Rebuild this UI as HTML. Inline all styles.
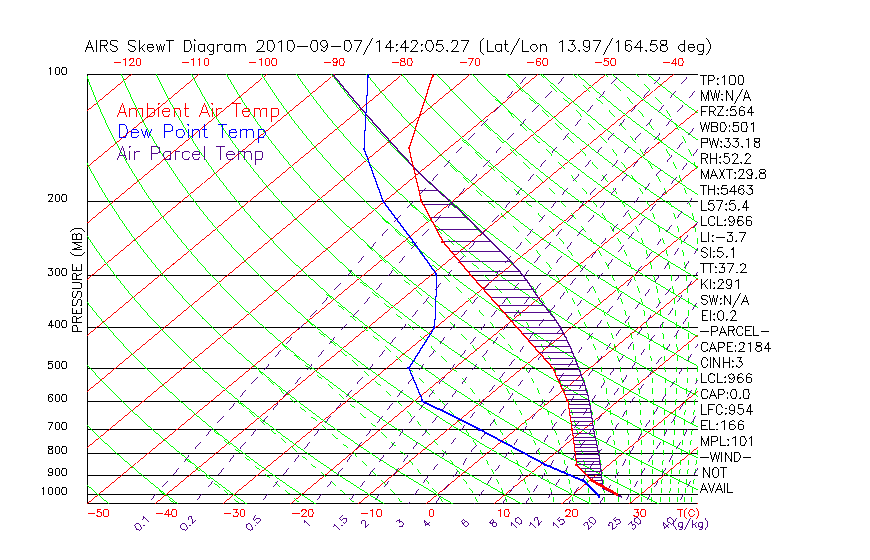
<!DOCTYPE html>
<html><head><meta charset="utf-8"><title>AIRS SkewT Diagram</title>
<style>html,body{margin:0;padding:0;background:#fff;font-family:"Liberation Sans",sans-serif;}svg{display:block}</style></head>
<body>
<svg width="870" height="560" viewBox="0 0 870 560" shape-rendering="crispEdges">
<defs><clipPath id="cp"><rect x="86.6" y="73.6" width="610.8" height="429.8"/></clipPath></defs>
<title>AIRS SkewT Diagram</title>
<desc>AIRS SkewT Diagram 2010-09-07/14:42:05.27 (Lat/Lon 13.97/164.58 deg). Ambient Air Temp, Dew Point Temp, Air Parcel Temp. PRESSURE (MB) 100-1000, T(C), mixing ratio (g/kg).</desc>
<rect width="870" height="560" fill="#fff"/>
<path d="M87 74 h611 v1 h-611 zM87 201 h611 v1 h-611 zM87 275 h611 v1 h-611 zM87 327 h611 v1 h-611 zM87 368 h611 v1 h-611 zM87 401 h611 v1 h-611 zM87 429 h611 v1 h-611 zM87 453 h611 v1 h-611 zM87 475 h611 v1 h-611 zM87 494 h611 v1 h-611 zM87 503 h611 v1 h-611 zM87 74 h1 v430 h-1 z" fill="#000"/>
<g clip-path="url(#cp)" stroke="none" transform="translate(0.5,0.5)">
<path d="M-455.7 503L63.3 73.2L63.3 74.2L-455.7 504zM-388 503L131 73.2L131 74.2L-388 504zM-320.2 503L198.8 73.2L198.8 74.2L-320.2 504zM-252.4 503L266.6 73.2L266.6 74.2L-252.4 504zM-184.6 503L334.4 73.2L334.4 74.2L-184.6 504zM-116.8 503L402.2 73.2L402.2 74.2L-116.8 504zM-49.1 503L469.9 73.2L469.9 74.2L-49.1 504zM18.7 503L537.7 73.2L537.7 74.2L18.7 504zM86.5 503L605.5 73.2L605.5 74.2L86.5 504zM154.3 503L673.3 73.2L673.3 74.2L154.3 504zM222.1 503L741.1 73.2L741.1 74.2L222.1 504zM289.8 503L808.8 73.2L808.8 74.2L289.8 504zM357.6 503L876.6 73.2L876.6 74.2L357.6 504zM425.4 503L944.4 73.2L944.4 74.2L425.4 504zM493.2 503L1012.2 73.2L1012.2 74.2L493.2 504zM561 503L1080 73.2L1080 74.2L561 504zM628.7 503L1147.7 73.2L1147.7 74.2L628.7 504zM696.5 503L1215.5 73.2L1215.5 74.2L696.5 504z" fill="#ff0000"/>
<path d="M113.9 508.3L108.3 503.6L103 499.2L97.7 494.7L92.4 490.1L87 485.3L81.1 480L81.1 479L87 484.3L92.4 489.1L97.7 493.7L103 498.2L108.3 502.6L113.9 507.3zM183.1 508.3L177 503.6L171.3 499.2L165.5 494.7L159.7 490.1L153.8 485.3L147.9 480.5L141.8 475.5L135.7 470.3L129.6 465L123.3 459.6L117 454L110.6 448.2L104.1 442.2L97.5 436L90.8 429.6L83.6 422.5L83.6 421.5L90.8 428.6L97.5 435L104.1 441.2L110.6 447.2L117 453L123.3 458.6L129.6 464L135.7 469.3L141.8 474.5L147.9 479.5L153.8 484.3L159.7 489.1L165.5 493.7L171.3 498.2L177 502.6L183.1 507.3zM84.1 423L76.2 415.1L77.2 415.1L85.1 423zM252.3 508.2L245.7 503.6L239.5 499.2L233.3 494.7L227 490.1L220.6 485.3L214.1 480.5L207.6 475.5L201 470.3L194.3 465L187.5 459.6L180.6 454L173.6 448.2L166.5 442.2L159.3 436L152 429.6L144.7 423L137.2 416.1L129.5 408.9L121.8 401.5L113.5 393.2L113.5 392.2L121.8 400.5L129.5 407.9L137.2 415.1L144.7 422L152 428.6L159.3 435L166.5 441.2L173.6 447.2L180.6 453L187.5 458.6L194.3 464L201 469.3L207.6 474.5L214.1 479.5L220.6 484.3L227 489.1L233.3 493.7L239.5 498.2L245.7 502.6L252.3 507.2zM114 393.7L105.5 385.1L97.4 376.6L89.1 367.7L80.3 357.9L81.3 357.9L90.1 367.7L98.4 376.6L106.5 385.1L115 393.7zM321.5 508.2L314.5 503.6L307.8 499.2L301.1 494.7L294.3 490.1L287.4 485.3L280.4 480.5L273.4 475.5L266.2 470.3L259 465L251.6 459.6L244.2 454L236.6 448.2L228.9 442.2L221.2 436L213.3 429.6L205.2 423L197.1 416.1L188.8 408.9L180.4 401.5L171.8 393.7L163.1 385.6L154.2 377.1L144.7 367.7L144.7 366.7L154.2 376.1L163.1 384.6L171.8 392.7L180.4 400.5L188.8 407.9L197.1 415.1L205.2 422L213.3 428.6L221.2 435L228.9 441.2L236.6 447.2L244.2 453L251.6 458.6L259 464L266.2 469.3L273.4 474.5L280.4 479.5L287.4 484.3L294.3 489.1L301.1 493.7L307.8 498.2L314.5 502.6L321.5 507.2zM145.2 368.2L135.5 358.4L126.2 348.5L116.6 338.1L106.9 327L102.9 322.4L98.9 317.7L94.9 312.8L90.9 307.8L86.8 302.7L82.3 296.9L83.3 296.9L87.8 302.7L91.9 307.8L95.9 312.8L99.9 317.7L103.9 322.4L107.9 327L117.6 338.1L127.2 348.5L136.5 358.4L146.2 368.2zM390.7 508.2L383.2 503.6L376.1 499.2L368.9 494.7L361.6 490.1L354.2 485.3L346.7 480.5L339.1 475.5L331.4 470.3L323.7 465L315.8 459.6L307.7 454L299.6 448.2L291.4 442.2L283 436L274.5 429.6L265.8 423L257 416.1L248.1 408.9L239 401.5L229.7 393.7L220.2 385.6L210.6 377.1L200.8 368.2L190.8 358.9L180.1 348.5L180.1 347.5L190.8 357.9L200.8 367.2L210.6 376.1L220.2 384.6L229.7 392.7L239 400.5L248.1 407.9L257 415.1L265.8 422L274.5 428.6L283 435L291.4 441.2L299.6 447.2L307.7 453L315.8 458.6L323.7 464L331.4 469.3L339.1 474.5L346.7 479.5L354.2 484.3L361.6 489.1L368.9 493.7L376.1 498.2L383.2 502.6L390.7 507.2zM180.6 349L169.7 338.1L159 327L154.7 322.4L150.3 317.7L145.9 312.8L141.5 307.8L137 302.7L132.5 297.4L127.9 291.9L123.3 286.3L118.7 280.5L114 274.5L109.3 268.4L104.5 262L99.7 255.3L94.8 248.4L89.9 241.3L85 233.8L79.7 225.6L80.7 225.6L86 233.8L90.9 241.3L95.8 248.4L100.7 255.3L105.5 262L110.3 268.4L115 274.5L119.7 280.5L124.3 286.3L128.9 291.9L133.5 297.4L138 302.7L142.5 307.8L146.9 312.8L151.3 317.7L155.7 322.4L160 327L170.7 338.1L181.6 349zM459.9 508.2L451.9 503.6L444.3 499.2L436.6 494.7L428.9 490.1L421 485.3L413 480.5L404.9 475.5L396.7 470.3L388.4 465L379.9 459.6L371.3 454L362.6 448.2L353.8 442.2L344.8 436L335.7 429.6L326.4 423L316.9 416.1L307.3 408.9L297.5 401.5L287.5 393.7L277.4 385.6L267 377.1L256.4 368.2L245.6 358.9L234.5 349L223.2 338.6L211.7 327.5L207 322.9L201.7 317.7L201.7 316.7L207 321.9L211.7 326.5L223.2 337.6L234.5 348L245.6 357.9L256.4 367.2L267 376.1L277.4 384.6L287.5 392.7L297.5 400.5L307.3 407.9L316.9 415.1L326.4 422L335.7 428.6L344.8 435L353.8 441.2L362.6 447.2L371.3 453L379.9 458.6L388.4 464L396.7 469.3L404.9 474.5L413 479.5L421 484.3L428.9 489.1L436.6 493.7L444.3 498.2L451.9 502.6L459.9 507.2zM202.2 318.2L196.9 312.8L192.1 307.8L187.2 302.7L182.3 297.4L177.3 291.9L172.3 286.3L167.2 280.5L162 274.5L156.8 268.4L151.6 262L146.3 255.3L140.9 248.4L135.5 241.3L130.1 233.8L124.5 226.1L119 218L113.4 209.5L107.7 200.6L104.8 196L102 191.2L99.1 186.3L96.2 181.3L93.3 176.2L90.4 170.9L87.5 165.5L84.6 159.9L81.4 153.6L82.4 153.6L85.6 159.9L88.5 165.5L91.4 170.9L94.3 176.2L97.2 181.3L100.1 186.3L103 191.2L105.8 196L108.7 200.6L114.4 209.5L120 218L125.5 226.1L131.1 233.8L136.5 241.3L141.9 248.4L147.3 255.3L152.6 262L157.8 268.4L163 274.5L168.2 280.5L173.3 286.3L178.3 291.9L183.3 297.4L188.2 302.7L193.1 307.8L197.9 312.8L203.2 318.2zM529.1 508.1L520.6 503.6L512.6 499.2L504.4 494.7L496.2 490.1L487.8 485.3L479.3 480.5L470.7 475.5L461.9 470.3L453.1 465L444.1 459.6L434.9 454L425.6 448.2L416.2 442.2L406.6 436L396.9 429.6L387 423L376.9 416.1L366.6 408.9L356.1 401.5L345.4 393.7L334.5 385.6L323.4 377.1L312 368.2L300.4 358.9L288.5 349L276.3 338.6L263.8 327.5L258.8 322.9L253.6 318.2L248.4 313.3L243.2 308.3L237.9 303.2L232.1 297.4L232.1 296.4L237.9 302.2L243.2 307.3L248.4 312.3L253.6 317.2L258.8 321.9L263.8 326.5L276.3 337.6L288.5 348L300.4 357.9L312 367.2L323.4 376.1L334.5 384.6L345.4 392.7L356.1 400.5L366.6 407.9L376.9 415.1L387 422L396.9 428.6L406.6 435L416.2 441.2L425.6 447.2L434.9 453L444.1 458.6L453.1 464L461.9 469.3L470.7 474.5L479.3 479.5L487.8 484.3L496.2 489.1L504.4 493.7L512.6 498.2L520.6 502.6L529.1 507.1zM232.6 297.9L226.7 291.9L221.2 286.3L215.7 280.5L210.1 274.5L204.4 268.4L198.7 262L192.9 255.3L187 248.4L181.1 241.3L175.1 233.8L169.1 226.1L162.9 218L156.7 209.5L150.5 200.6L147.3 196L144.1 191.2L140.9 186.3L137.7 181.3L134.5 176.2L131.2 170.9L128 165.5L124.7 159.9L121.5 154.1L118.2 148.1L114.9 141.9L111.6 135.5L108.3 128.9L105 122L101.7 114.8L98.4 107.4L95.1 99.6L91.8 91.5L88.6 83L85.2 73.6L86.2 73.6L89.6 83L92.8 91.5L96.1 99.6L99.4 107.4L102.7 114.8L106 122L109.3 128.9L112.6 135.5L115.9 141.9L119.2 148.1L122.5 154.1L125.7 159.9L129 165.5L132.2 170.9L135.5 176.2L138.7 181.3L141.9 186.3L145.1 191.2L148.3 196L151.5 200.6L157.7 209.5L163.9 218L170.1 226.1L176.1 233.8L182.1 241.3L188 248.4L193.9 255.3L199.7 262L205.4 268.4L211.1 274.5L216.7 280.5L222.2 286.3L227.7 291.9L233.6 297.9zM598.3 508.1L589.4 503.6L580.9 499.2L572.2 494.7L563.4 490.1L554.6 485.3L545.6 480.5L536.4 475.5L527.2 470.3L517.8 465L508.2 459.6L498.5 454L488.7 448.2L478.6 442.2L468.5 436L458.1 429.6L447.5 423L436.8 416.1L425.8 408.9L414.7 401.5L403.3 393.7L391.6 385.6L379.7 377.1L367.6 368.2L355.1 358.9L342.4 349L329.4 338.6L316 327.5L310.5 322.9L305 318.2L299.4 313.3L293.8 308.3L288.1 303.2L282.3 297.9L276.5 292.4L270.6 286.8L264.6 281L258.1 274.5L258.1 273.5L264.6 280L270.6 285.8L276.5 291.4L282.3 296.9L288.1 302.2L293.8 307.3L299.4 312.3L305 317.2L310.5 321.9L316 326.5L329.4 337.6L342.4 348L355.1 357.9L367.6 367.2L379.7 376.1L391.6 384.6L403.3 392.7L414.7 400.5L425.8 407.9L436.8 415.1L447.5 422L458.1 428.6L468.5 435L478.6 441.2L488.7 447.2L498.5 453L508.2 458.6L517.8 464L527.2 469.3L536.4 474.5L545.6 479.5L554.6 484.3L563.4 489.1L572.2 493.7L580.9 498.2L589.4 502.6L598.3 507.1zM258.6 275L252 268.4L245.8 262L239.5 255.3L233.2 248.4L226.7 241.3L220.2 233.8L213.6 226.1L206.9 218L200.1 209.5L193.2 200.6L189.8 196L186.3 191.2L182.8 186.3L179.2 181.3L175.7 176.2L172.1 170.9L168.5 165.5L164.9 159.9L161.2 154.1L157.6 148.1L153.9 141.9L150.2 135.5L146.5 128.9L142.8 122L139 114.8L135.3 107.4L131.6 99.6L127.9 91.5L124.1 83L120.2 73.6L121.2 73.6L125.1 83L128.9 91.5L132.6 99.6L136.3 107.4L140 114.8L143.8 122L147.5 128.9L151.2 135.5L154.9 141.9L158.6 148.1L162.2 154.1L165.9 159.9L169.5 165.5L173.1 170.9L176.7 176.2L180.2 181.3L183.8 186.3L187.3 191.2L190.8 196L194.2 200.6L201.1 209.5L207.9 218L214.6 226.1L221.2 233.8L227.7 241.3L234.2 248.4L240.5 255.3L246.8 262L253 268.4L259.6 275zM667.5 508.1L658.1 503.6L649.1 499.2L640 494.7L630.7 490.1L621.4 485.3L611.9 480.5L602.2 475.5L592.4 470.3L582.5 465L572.4 459.6L562.1 454L551.7 448.2L541.1 442.2L530.3 436L519.3 429.6L508.1 423L496.7 416.1L485.1 408.9L473.2 401.5L461.1 393.7L448.7 385.6L436.1 377.1L423.2 368.2L409.9 358.9L396.4 349L382.4 338.6L368.1 327.5L362.3 322.9L356.4 318.2L350.4 313.3L344.4 308.3L338.3 303.2L332.1 297.9L325.9 292.4L319.5 286.8L313.1 281L306.6 275L300 268.9L293.4 262.5L286.1 255.3L286.1 254.3L293.4 261.5L300 267.9L306.6 274L313.1 280L319.5 285.8L325.9 291.4L332.1 296.9L338.3 302.2L344.4 307.3L350.4 312.3L356.4 317.2L362.3 321.9L368.1 326.5L382.4 337.6L396.4 348L409.9 357.9L423.2 367.2L436.1 376.1L448.7 384.6L461.1 392.7L473.2 400.5L485.1 407.9L496.7 415.1L508.1 422L519.3 428.6L530.3 435L541.1 441.2L551.7 447.2L562.1 453L572.4 458.6L582.5 464L592.4 469.3L602.2 474.5L611.9 479.5L621.4 484.3L630.7 489.1L640 493.7L649.1 498.2L658.1 502.6L667.5 507.1zM286.6 255.8L279.3 248.4L272.3 241.3L265.3 233.8L258.1 226.1L250.8 218L243.5 209.5L236 200.6L232.2 196L228.4 191.2L224.6 186.3L220.7 181.3L216.8 176.2L212.9 170.9L209 165.5L205 159.9L201 154.1L197 148.1L192.9 141.9L188.8 135.5L184.7 128.9L180.6 122L176.4 114.8L172.3 107.4L168.1 99.6L163.9 91.5L159.7 83L155.3 73.6L156.3 73.6L160.7 83L164.9 91.5L169.1 99.6L173.3 107.4L177.4 114.8L181.6 122L185.7 128.9L189.8 135.5L193.9 141.9L198 148.1L202 154.1L206 159.9L210 165.5L213.9 170.9L217.8 176.2L221.7 181.3L225.6 186.3L229.4 191.2L233.2 196L237 200.6L244.5 209.5L251.8 218L259.1 226.1L266.3 233.8L273.3 241.3L280.3 248.4L287.6 255.8zM708.3 494.9L698 490.1L688.2 485.3L678.1 480.5L668 475.5L657.7 470.3L647.2 465L636.5 459.6L625.7 454L614.7 448.2L603.5 442.2L592.1 436L580.5 429.6L568.7 423L556.6 416.1L544.3 408.9L531.8 401.5L519 393.7L505.9 385.6L492.5 377.1L478.8 368.2L464.7 358.9L450.3 349L435.5 338.6L420.3 327.5L414.1 322.9L407.8 318.2L401.5 313.3L395 308.3L388.5 303.2L381.9 297.9L375.2 292.4L368.5 286.8L361.6 281L354.7 275L347.6 268.9L340.5 262.5L333.2 255.8L325.9 248.9L318.4 241.8L310.3 233.8L310.3 232.8L318.4 240.8L325.9 247.9L333.2 254.8L340.5 261.5L347.6 267.9L354.7 274L361.6 280L368.5 285.8L375.2 291.4L381.9 296.9L388.5 302.2L395 307.3L401.5 312.3L407.8 317.2L414.1 321.9L420.3 326.5L435.5 337.6L450.3 348L464.7 357.9L478.8 367.2L492.5 376.1L505.9 384.6L519 392.7L531.8 400.5L544.3 407.9L556.6 415.1L568.7 422L580.5 428.6L592.1 435L603.5 441.2L614.7 447.2L625.7 453L636.5 458.6L647.2 464L657.7 469.3L668 474.5L678.1 479.5L688.2 484.3L698 489.1L708.3 493.9zM310.8 234.3L302.6 226.1L294.8 218L286.9 209.5L278.8 200.6L274.7 196L270.6 191.2L266.4 186.3L262.2 181.3L258 176.2L253.7 170.9L249.5 165.5L245.1 159.9L240.8 154.1L236.4 148.1L231.9 141.9L227.4 135.5L222.9 128.9L218.4 122L213.8 114.8L209.2 107.4L204.6 99.6L200 91.5L195.3 83L190.3 73.6L191.3 73.6L196.3 83L201 91.5L205.6 99.6L210.2 107.4L214.8 114.8L219.4 122L223.9 128.9L228.4 135.5L232.9 141.9L237.4 148.1L241.8 154.1L246.1 159.9L250.5 165.5L254.7 170.9L259 176.2L263.2 181.3L267.4 186.3L271.6 191.2L275.7 196L279.8 200.6L287.9 209.5L295.8 218L303.6 226.1L311.8 234.3zM701.2 459.8L689.3 454L677.7 448.2L665.9 442.2L653.9 436L641.7 429.6L629.2 423L616.5 416.1L603.6 408.9L590.4 401.5L576.8 393.7L563 385.6L548.9 377.1L534.4 368.2L519.5 358.9L504.2 349L488.6 338.6L472.4 327.5L465.9 322.9L459.2 318.2L452.5 313.3L445.6 308.3L438.7 303.2L431.7 297.9L424.6 292.4L417.4 286.8L410.1 281L402.7 275L395.2 268.9L387.6 262.5L379.8 255.8L372 248.9L364 241.8L355.9 234.3L347.6 226.6L339.3 218.5L330.2 209.5L330.2 208.5L339.3 217.5L347.6 225.6L355.9 233.3L364 240.8L372 247.9L379.8 254.8L387.6 261.5L395.2 267.9L402.7 274L410.1 280L417.4 285.8L424.6 291.4L431.7 296.9L438.7 302.2L445.6 307.3L452.5 312.3L459.2 317.2L465.9 321.9L472.4 326.5L488.6 337.6L504.2 348L519.5 357.9L534.4 367.2L548.9 376.1L563 384.6L576.8 392.7L590.4 400.5L603.6 407.9L616.5 415.1L629.2 422L641.7 428.6L653.9 435L665.9 441.2L677.7 447.2L689.3 453L701.2 458.8zM330.7 210L321.6 200.6L317.2 196L312.7 191.2L308.3 186.3L303.7 181.3L299.2 176.2L294.6 170.9L289.9 165.5L285.3 159.9L280.5 154.1L275.8 148.1L270.9 141.9L266.1 135.5L261.2 128.9L256.2 122L251.2 114.8L246.2 107.4L241.1 99.6L236 91.5L230.9 83L225.4 73.6L226.4 73.6L231.9 83L237 91.5L242.1 99.6L247.2 107.4L252.2 114.8L257.2 122L262.2 128.9L267.1 135.5L271.9 141.9L276.8 148.1L281.5 154.1L286.3 159.9L290.9 165.5L295.6 170.9L300.2 176.2L304.7 181.3L309.3 186.3L313.7 191.2L318.2 196L322.6 200.6L331.7 210zM703.4 429.9L689.8 423L676.5 416.1L662.8 408.9L648.9 401.5L634.7 393.7L620.1 385.6L605.2 377.1L589.9 368.2L574.3 358.9L558.2 349L541.6 338.6L524.6 327.5L517.6 322.9L510.6 318.2L503.5 313.3L496.2 308.3L488.9 303.2L481.5 297.9L474 292.4L466.3 286.8L458.6 281L450.7 275L442.8 268.9L434.7 262.5L426.4 255.8L418.1 248.9L409.6 241.8L401 234.3L392.2 226.6L383.2 218.5L374.1 210L364.8 201.1L360.1 196.5L354.9 191.2L354.9 190.2L360.1 195.5L364.8 200.1L374.1 209L383.2 217.5L392.2 225.6L401 233.3L409.6 240.8L418.1 247.9L426.4 254.8L434.7 261.5L442.8 267.9L450.7 274L458.6 280L466.3 285.8L474 291.4L481.5 296.9L488.9 302.2L496.2 307.3L503.5 312.3L510.6 317.2L517.6 321.9L524.6 326.5L541.6 337.6L558.2 348L574.3 357.9L589.9 367.2L605.2 376.1L620.1 384.6L634.7 392.7L648.9 400.5L662.8 407.9L676.5 415.1L689.8 422L703.4 428.9zM355.4 191.7L350.1 186.3L345.2 181.3L340.4 176.2L335.4 170.9L330.4 165.5L325.4 159.9L320.3 154.1L315.2 148.1L310 141.9L304.7 135.5L299.4 128.9L294 122L288.6 114.8L283.2 107.4L277.6 99.6L272.1 91.5L266.4 83L260.4 73.6L261.4 73.6L267.4 83L273.1 91.5L278.6 99.6L284.2 107.4L289.6 114.8L295 122L300.4 128.9L305.7 135.5L311 141.9L316.2 148.1L321.3 154.1L326.4 159.9L331.4 165.5L336.4 170.9L341.4 176.2L346.2 181.3L351.1 186.3L356.4 191.7zM708 401.7L692.5 393.7L677.3 385.6L661.6 377.1L645.5 368.2L629.1 358.9L612.1 349L594.7 338.6L576.8 327.5L569.4 322.9L562 318.2L554.5 313.3L546.8 308.3L539.1 303.2L531.3 297.9L523.3 292.4L515.3 286.8L507.1 281L498.8 275L490.3 268.9L481.8 262.5L473.1 255.8L464.2 248.9L455.2 241.8L446 234.3L436.7 226.6L427.2 218.5L417.5 210L407.6 201.1L402.6 196.5L397.5 191.7L392.4 186.8L387.2 181.8L381.5 176.2L381.5 175.2L387.2 180.8L392.4 185.8L397.5 190.7L402.6 195.5L407.6 200.1L417.5 209L427.2 217.5L436.7 225.6L446 233.3L455.2 240.8L464.2 247.9L473.1 254.8L481.8 261.5L490.3 267.9L498.8 274L507.1 280L515.3 285.8L523.3 291.4L531.3 296.9L539.1 302.2L546.8 307.3L554.5 312.3L562 317.2L569.4 321.9L576.8 326.5L594.7 337.6L612.1 348L629.1 357.9L645.5 367.2L661.6 376.1L677.3 384.6L692.5 392.7L708 400.7zM382 176.7L376.2 170.9L370.9 165.5L365.5 159.9L360.1 154.1L354.5 148.1L349 141.9L343.3 135.5L337.6 128.9L331.9 122L326 114.8L320.1 107.4L314.2 99.6L308.1 91.5L302 83L295.5 73.6L296.5 73.6L303 83L309.1 91.5L315.2 99.6L321.1 107.4L327 114.8L332.9 122L338.6 128.9L344.3 135.5L350 141.9L355.5 148.1L361.1 154.1L366.5 159.9L371.9 165.5L377.2 170.9L383 176.7zM701.6 368.5L683.8 358.9L666.1 349L647.8 338.6L628.9 327.5L621.2 322.9L613.4 318.2L605.5 313.3L597.4 308.3L589.3 303.2L581.1 297.9L572.7 292.4L564.2 286.8L555.6 281L546.8 275L537.9 268.9L528.9 262.5L519.7 255.8L510.3 248.9L500.8 241.8L491.1 234.3L481.2 226.6L471.1 218.5L460.9 210L450.4 201.1L445.1 196.5L439.7 191.7L434.3 186.8L428.8 181.8L423.2 176.7L417.6 171.4L411.9 166L406.1 160.4L399.8 154.1L399.8 153.1L406.1 159.4L411.9 165L417.6 170.4L423.2 175.7L428.8 180.8L434.3 185.8L439.7 190.7L445.1 195.5L450.4 200.1L460.9 209L471.1 217.5L481.2 225.6L491.1 233.3L500.8 240.8L510.3 247.9L519.7 254.8L528.9 261.5L537.9 267.9L546.8 274L555.6 280L564.2 285.8L572.7 291.4L581.1 296.9L589.3 302.2L597.4 307.3L605.5 312.3L613.4 317.2L621.2 321.9L628.9 326.5L647.8 337.6L666.1 348L683.8 357.9L701.6 367.5zM400.3 154.6L393.9 148.1L388 141.9L382 135.5L375.9 128.9L369.7 122L363.4 114.8L357.1 107.4L350.7 99.6L344.2 91.5L337.6 83L330.6 73.6L331.6 73.6L338.6 83L345.2 91.5L351.7 99.6L358.1 107.4L364.4 114.8L370.7 122L376.9 128.9L383 135.5L389 141.9L394.9 148.1L401.3 154.6zM701.3 338.9L681.1 327.5L673 322.9L664.8 318.2L656.5 313.3L648.1 308.3L639.5 303.2L630.8 297.9L622.1 292.4L613.1 286.8L604.1 281L594.8 275L585.5 268.9L576 262.5L566.3 255.8L556.4 248.9L546.4 241.8L536.1 234.3L525.7 226.6L515.1 218.5L504.2 210L493.2 201.1L487.5 196.5L481.8 191.7L476.1 186.8L470.3 181.8L464.4 176.7L458.4 171.4L452.4 166L446.3 160.4L440.1 154.6L433.8 148.6L427.5 142.4L420.6 135.5L420.6 134.5L427.5 141.4L433.8 147.6L440.1 153.6L446.3 159.4L452.4 165L458.4 170.4L464.4 175.7L470.3 180.8L476.1 185.8L481.8 190.7L487.5 195.5L493.2 200.1L504.2 209L515.1 217.5L525.7 225.6L536.1 233.3L546.4 240.8L556.4 247.9L566.3 254.8L576 261.5L585.5 267.9L594.8 274L604.1 280L613.1 285.8L622.1 291.4L630.8 296.9L639.5 302.2L648.1 307.3L656.5 312.3L664.8 317.2L673 321.9L681.1 326.5L701.3 337.9zM421.1 136L414.1 128.9L407.5 122L400.8 114.8L394 107.4L387.2 99.6L380.2 91.5L373.2 83L365.6 73.6L366.6 73.6L374.2 83L381.2 91.5L388.2 99.6L395 107.4L401.8 114.8L408.5 122L415.1 128.9L422.1 136zM708 313.6L698.7 308.3L689.7 303.2L680.6 297.9L671.4 292.4L662.1 286.8L652.5 281L642.9 275L633 268.9L623.1 262.5L612.9 255.8L602.5 248.9L592 241.8L581.2 234.3L570.2 226.6L559.1 218.5L547.6 210L535.9 201.1L530 196.5L524 191.7L517.9 186.8L511.8 181.8L505.5 176.7L499.2 171.4L492.9 166L486.4 160.4L479.9 154.6L473.2 148.6L466.5 142.4L459.7 136L452.8 129.4L445.3 122L445.3 121L452.8 128.4L459.7 135L466.5 141.4L473.2 147.6L479.9 153.6L486.4 159.4L492.9 165L499.2 170.4L505.5 175.7L511.8 180.8L517.9 185.8L524 190.7L530 195.5L535.9 200.1L547.6 209L559.1 217.5L570.2 225.6L581.2 233.3L592 240.8L602.5 247.9L612.9 254.8L623.1 261.5L633 267.9L642.9 274L652.5 280L662.1 285.8L671.4 291.4L680.6 296.9L689.7 302.2L698.7 307.3L708 312.6zM445.8 122.5L438.2 114.8L431 107.4L423.7 99.6L416.3 91.5L408.7 83L400.7 73.6L401.7 73.6L409.7 83L417.3 91.5L424.7 99.6L432 107.4L439.2 114.8L446.8 122.5zM701.5 281.3L690.9 275L680.6 268.9L670.1 262.5L659.5 255.8L648.6 248.9L637.6 241.8L626.3 234.3L614.8 226.6L603 218.5L591 210L578.7 201.1L572.5 196.5L566.1 191.7L559.7 186.8L553.3 181.8L546.7 176.7L540.1 171.4L533.4 166L526.5 160.4L519.6 154.6L512.6 148.6L505.5 142.4L498.3 136L491 129.4L483.6 122.5L476.1 115.3L468 107.4L468 106.4L476.1 114.3L483.6 121.5L491 128.4L498.3 135L505.5 141.4L512.6 147.6L519.6 153.6L526.5 159.4L533.4 165L540.1 170.4L546.7 175.7L553.3 180.8L559.7 185.8L566.1 190.7L572.5 195.5L578.7 200.1L591 209L603 217.5L614.8 225.6L626.3 233.3L637.6 240.8L648.6 247.9L659.5 254.8L670.1 261.5L680.6 267.9L690.9 274L701.5 280.3zM468.5 107.9L460.2 99.6L452.3 91.5L444.3 83L435.7 73.6L436.7 73.6L445.3 83L453.3 91.5L461.2 99.6L469.5 107.9zM706.6 256.1L694.7 248.9L683.2 241.8L671.3 234.3L659.3 226.6L647 218.5L634.4 210L621.5 201.1L614.9 196.5L608.3 191.7L601.6 186.8L594.8 181.8L587.9 176.7L580.9 171.4L573.8 166L566.7 160.4L559.4 154.6L552 148.6L544.6 142.4L537 136L529.3 129.4L521.4 122.5L513.5 115.3L505.4 107.9L497.2 100.1L488.4 91.5L488.4 90.5L497.2 99.1L505.4 106.9L513.5 114.3L521.4 121.5L529.3 128.4L537 135L544.6 141.4L552 147.6L559.4 153.6L566.7 159.4L573.8 165L580.9 170.4L587.9 175.7L594.8 180.8L601.6 185.8L608.3 190.7L614.9 195.5L621.5 200.1L634.4 209L647 217.5L659.3 225.6L671.3 233.3L683.2 240.8L694.7 247.9L706.6 255.1zM488.9 92L479.9 83L470.8 73.6L471.8 73.6L480.9 83L489.9 92zM704.3 226.9L690.9 218.5L677.7 210L664.3 201.1L657.4 196.5L650.5 191.7L643.4 186.8L636.3 181.8L629.1 176.7L621.7 171.4L614.3 166L606.8 160.4L599.2 154.6L591.4 148.6L583.6 142.4L575.6 136L567.5 129.4L559.3 122.5L550.9 115.3L542.4 107.9L533.7 100.1L524.9 92L516 83.5L506.3 74.1L506.3 73.1L516 82.5L524.9 91L533.7 99.1L542.4 106.9L550.9 114.3L559.3 121.5L567.5 128.4L575.6 135L583.6 141.4L591.4 147.6L599.2 153.6L606.8 159.4L614.3 165L621.7 170.4L629.1 175.7L636.3 180.8L643.4 185.8L650.5 190.7L657.4 195.5L664.3 200.1L677.7 209L690.9 217.5L704.3 225.9zM707.5 201.4L699.9 196.5L692.6 191.7L685.2 186.8L677.8 181.8L670.2 176.7L662.6 171.4L654.8 166L646.9 160.4L638.9 154.6L630.8 148.6L622.6 142.4L614.2 136L605.7 129.4L597.1 122.5L588.3 115.3L579.4 107.9L570.3 100.1L561 92L551.5 83.5L541.4 74.2L541.4 73.2L551.5 82.5L561 91L570.3 99.1L579.4 106.9L588.3 114.3L597.1 121.5L605.7 128.4L614.2 135L622.6 141.4L630.8 147.6L638.9 153.6L646.9 159.4L654.8 165L662.6 170.4L670.2 175.7L677.8 180.8L685.2 185.8L692.6 190.7L699.9 195.5L707.5 200.4zM703.9 171.8L695.3 166L687.1 160.4L678.7 154.6L670.2 148.6L661.6 142.4L652.9 136L643.9 129.4L634.9 122.5L625.7 115.3L616.3 107.9L606.8 100.1L597 92L587.1 83.5L576.5 74.2L576.5 73.2L587.1 82.5L597 91L606.8 99.1L616.3 106.9L625.7 114.3L634.9 121.5L643.9 128.4L652.9 135L661.6 141.4L670.2 147.6L678.7 153.6L687.1 159.4L695.3 165L703.9 170.8zM701.1 142.8L691.5 136L682.2 129.4L672.7 122.5L663.1 115.3L653.3 107.9L643.3 100.1L633.1 92L622.7 83.5L611.6 74.2L611.6 73.2L622.7 82.5L633.1 91L643.3 99.1L653.3 106.9L663.1 114.3L672.7 121.5L682.2 128.4L691.5 135L701.1 141.8zM701 115.7L690.2 107.9L679.8 100.1L669.1 92L658.3 83.5L646.7 74.2L646.7 73.2L658.3 82.5L669.1 91L679.8 99.1L690.2 106.9L701 114.7z" fill="#00ff00"/>
</g>
<path d="M506 74h1m33 0h1m32 0h1m31 0h1m30 0h1m-130 1h1m33 0h1m32 0h1m31 0h1m30 0h1m-130 1h1m33 0h1m32 0h1m31 0h1m30 0h1m-130 1h1m33 0h1m32 0h1m37 7h1m29 0h1m-129 1h1m33 0h1m32 0h1m31 0h1m29 0h1m-129 1h1m33 0h1m32 0h1m31 0h1m29 0h1m-129 1h1m33 0h1m32 0h1m31 0h1m29 0h1m-129 1h1m33 0h1m32 0h1m31 0h1m29 0h1m-129 1h1m33 0h1m32 0h1m31 0h1m29 0h1m-129 1h1m33 0h1m32 0h1m31 0h1m28 0h1m-128 1h1m33 0h1m32 0h1m37 6h1m27 0h1m-127 1h1m33 0h1m32 0h1m31 0h1m27 0h1m-162 1h1m34 0h1m33 0h1m32 0h1m31 0h1m27 0h1m-162 1h2m33 0h2m32 0h2m31 0h2m29 0h1m28 0h1m-161 1h1m34 0h1m33 0h1m32 0h1m29 0h1m28 0h1m-161 1h1m34 0h1m33 0h1m32 0h1m29 0h1m28 0h1m-161 1h1m34 0h1m33 0h1m32 0h1m29 0h1m28 0h1m-161 1h1m40 6h1m33 0h1m32 0h1m28 0h1m27 0h1m-159 1h1m34 0h1m33 0h1m31 0h1m29 0h1m27 0h1m-159 1h1m34 0h1m33 0h1m31 0h1m29 0h1m26 0h1m-158 1h1m34 0h1m33 0h1m31 0h1m29 0h1m26 0h1m-158 1h1m34 0h1m33 0h1m31 0h1m29 0h1m26 0h1m-159 1h1m35 0h1m32 0h1m32 0h1m28 0h1m26 0h1m-158 1h1m35 0h1m32 0h1m32 0h1m28 0h1m26 0h1m-158 1h1m41 6h1m32 0h1m31 0h1m28 0h1m25 0h1m-192 1h1m35 0h1m35 0h1m32 0h1m31 0h1m27 0h1m25 0h1m-191 1h1m35 0h1m35 0h1m32 0h1m30 0h1m28 0h1m25 0h1m-191 1h1m35 0h1m35 0h1m32 0h1m30 0h1m28 0h1m24 0h1m-190 1h1m35 0h1m35 0h1m32 0h1m30 0h1m27 0h1m25 0h1m-190 1h1m35 0h1m35 0h1m32 0h1m30 0h1m27 0h1m24 0h1m-189 1h1m35 0h1m35 0h1m32 0h1m30 0h1m27 0h1m24 0h1m-189 1h1m35 0h1m40 6h1m32 0h1m29 0h1m26 0h1m24 0h1m-186 1h1m35 0h1m34 0h1m32 0h1m29 0h1m26 0h1m24 0h1m-186 1h1m35 0h1m34 0h1m32 0h1m29 0h1m25 0h1m24 0h1m-185 1h1m35 0h1m34 0h1m32 0h1m28 0h1m26 0h1m24 0h1m-223 1h1m37 0h1m35 0h1m34 0h1m32 0h1m28 0h1m26 0h1m23 0h1m-222 1h1m37 0h1m35 0h1m34 0h1m32 0h1m28 0h1m25 0h1m24 0h1m-222 1h2m36 0h2m34 0h2m33 0h1m32 0h1m28 0h1m25 0h1m23 0h1m-220 1h1m0 1h1m0 1h1m41 4h1m35 0h1m33 0h1m31 0h1m27 0h1m25 0h1m21 0h1m-178 1h1m35 0h1m33 0h1m31 0h1m26 0h1m25 0h1m22 0h1m-178 1h1m35 0h1m33 0h1m30 0h1m27 0h1m25 0h1m21 0h1m-215 1h1m37 0h1m35 0h1m33 0h1m30 0h1m27 0h1m24 0h1m22 0h1m-215 1h1m37 0h1m35 0h1m33 0h1m30 0h1m26 0h1m25 0h1m21 0h1m-214 1h1m37 0h1m35 0h1m33 0h1m30 0h1m26 0h1m25 0h1m21 0h1m-214 1h1m37 0h1m34 0h1m33 0h1m30 0h1m27 0h1m24 0h1m21 0h1m-213 1h1m0 1h1m0 1h1m41 4h1m34 0h1m33 0h1m28 0h1m26 0h1m24 0h1m20 0h1m-171 1h1m34 0h1m32 0h1m29 0h1m26 0h1m23 0h1m20 0h1m-170 1h1m34 0h1m32 0h1m29 0h1m26 0h1m23 0h1m19 0h1m-245 1h1m37 0h1m37 0h1m34 0h1m32 0h1m29 0h1m25 0h1m23 0h1m20 0h1m-245 1h1m37 0h2m36 0h1m34 0h1m32 0h1m28 0h1m26 0h1m23 0h1m19 0h1m-244 1h1m38 0h1m36 0h1m34 0h1m32 0h1m28 0h1m25 0h1m23 0h1m20 0h1m-244 1h1m38 0h1m36 0h1m34 0h1m32 0h1m28 0h1m25 0h1m23 0h1m19 0h1m-243 1h1m38 0h1m-39 1h1m38 0h1m-39 1h1m79 4h1m34 0h1m30 0h1m28 0h1m24 0h1m22 0h1m-179 1h1m35 0h1m34 0h1m30 0h1m28 0h1m24 0h1m21 0h1m-217 1h1m38 0h1m35 0h1m33 0h1m31 0h1m27 0h1m25 0h1m20 0h1m-216 1h1m38 0h1m35 0h1m33 0h1m31 0h1m27 0h1m24 0h1m21 0h1m-216 1h1m38 0h1m35 0h1m33 0h1m30 0h1m28 0h1m24 0h1m20 0h1m-215 1h1m38 0h1m35 0h1m33 0h1m30 0h1m27 0h1m24 0h1m21 0h1m-255 1h1m39 0h1m38 0h1m35 0h1m33 0h1m30 0h1m27 0h1m24 0h1m20 0h1m-254 1h1m39 0h1m-40 1h1m0 1h1m118 4h1m32 0h1m30 0h1m25 0h1m24 0h1m19 0h1m-171 1h1m35 0h1m32 0h1m29 0h1m26 0h1m23 0h1m19 0h1m-209 1h1m38 0h1m35 0h1m32 0h1m29 0h1m25 0h1m24 0h1m19 0h1m-248 1h1m38 0h1m38 0h1m35 0h1m32 0h1m29 0h1m25 0h1m23 0h1m19 0h1m-247 1h1m38 0h1m38 0h1m35 0h1m32 0h1m29 0h1m25 0h1m22 0h1m19 0h1m-246 1h1m38 0h1m38 0h1m35 0h1m31 0h1m29 0h1m25 0h1m23 0h1m19 0h1m-246 1h1m38 0h1m38 0h1m-78 1h1m38 0h1m-39 1h1m81 5h1m34 0h1m31 0h1m28 0h1m24 0h1m22 0h1m18 0h1m-201 1h1m37 0h1m34 0h1m31 0h1m28 0h1m24 0h1m21 0h1m18 0h1m-240 1h2m38 0h2m36 0h1m34 0h1m31 0h1m27 0h1m24 0h1m22 0h1m18 0h1m-280 1h1m40 0h1m39 0h1m36 0h1m34 0h1m31 0h1m27 0h1m24 0h1m21 0h1m18 0h1m-279 1h1m40 0h1m39 0h1m36 0h2m33 0h1m31 0h1m27 0h1m24 0h1m21 0h1m18 0h1m-279 1h1m40 0h1m39 0h1m37 0h1m33 0h1m30 0h1m27 0h1m24 0h1m21 0h1m18 0h1m-278 1h2m39 0h2m38 0h1m-80 1h1m0 1h1m84 4h1m36 0h1m32 0h1m30 0h1m25 0h1m23 0h1m20 0h1m18 0h1m-231 1h1m38 0h1m36 0h1m33 0h1m29 0h1m26 0h1m23 0h1m20 0h1m17 0h1m-230 1h1m38 0h1m36 0h1m33 0h1m29 0h1m25 0h1m23 0h1m20 0h1m17 0h1m-270 1h1m40 0h1m38 0h1m36 0h1m32 0h1m30 0h1m25 0h1m22 0h1m20 0h1m18 0h1m-270 1h1m40 0h1m38 0h1m36 0h1m32 0h1m29 0h1m25 0h1m23 0h1m20 0h1m17 0h1m-312 1h1m42 0h1m40 0h1m38 0h1m36 0h1m32 0h1m29 0h1m25 0h1m22 0h1m20 0h1m17 0h1m-311 1h1m42 0h1m40 0h1m-84 1h1m42 0h1m-43 1h1m42 0h1m-43 1h2m0 1h1m85 3h1m38 0h1m35 0h1m31 0h1m28 0h1m24 0h1m22 0h1m18 0h1m16 0h1m-220 1h1m38 0h1m35 0h1m31 0h1m28 0h1m24 0h1m21 0h1m18 0h1m16 0h1m-260 1h1m40 0h1m38 0h1m35 0h1m31 0h1m27 0h1m24 0h1m22 0h1m18 0h1m16 0h1m-260 1h1m40 0h1m38 0h1m35 0h1m30 0h1m28 0h1m24 0h1m21 0h1m18 0h1m16 0h1m-301 1h1m41 0h2m39 0h1m38 0h1m35 0h1m30 0h1m28 0h1m23 0h1m21 0h1m18 0h1m16 0h1m-300 1h1m42 0h1m39 0h1m38 0h1m34 0h1m31 0h1m27 0h1m24 0h1m20 0h1m18 0h1m16 0h1m-299 1h1m42 0h1m39 0h1m-83 1h1m42 0h1m-43 1h1m0 1h1m86 3h1m37 0h1m33 0h1m30 0h1m26 0h1m23 0h1m20 0h1m17 0h1m16 0h1m-250 1h1m39 0h1m37 0h1m33 0h1m30 0h1m26 0h1m22 0h1m20 0h1m17 0h1m16 0h1m-249 1h1m39 0h1m37 0h1m33 0h1m29 0h1m26 0h1m23 0h1m20 0h1m17 0h1m15 0h1m-291 1h1m42 0h1m39 0h1m37 0h1m33 0h1m29 0h1m26 0h1m22 0h1m20 0h1m17 0h1m15 0h1m-290 1h1m42 0h1m39 0h1m37 0h1m33 0h1m29 0h1m26 0h1m21 0h1m20 0h1m17 0h1m15 0h1m-289 1h1m42 0h1m39 0h1m37 0h1m32 0h1m29 0h1m26 0h1m22 0h1m20 0h1m16 0h1m15 0h1m-288 1h1m42 0h1m-87 1h1m43 0h2m-45 1h1m44 0h1m-45 1h1m0 1h1m0 1h1m0 1h1m126 0h1m36 0h1m31 0h1m29 0h1m25 0h1m21 0h1m19 0h1m15 0h1m-223 1h1m39 0h1m36 0h1m31 0h1m29 0h1m24 0h1m21 0h1m19 0h1m15 0h1m-222 1h1m39 0h1m35 0h1m32 0h1m28 0h1m25 0h1m20 0h1m19 0h1m16 0h1m-264 1h1m41 0h1m39 0h1m35 0h1m32 0h1m28 0h1m24 0h1m20 0h1m19 0h1m16 0h1m-263 1h1m41 0h1m39 0h1m35 0h1m31 0h1m28 0h1m25 0h1m20 0h1m19 0h1m15 0h1m-262 1h1m41 0h1m39 0h1m35 0h1m31 0h1m28 0h1m24 0h1m20 0h1m19 0h1m15 0h1m-305 1h1m43 0h1m41 0h1m-86 1h1m43 0h1m-44 1h1m43 0h1m-44 1h1m0 1h1m0 1h1m0 1h1m124 0h1m35 0h1m30 0h1m27 0h1m23 0h1m20 0h1m17 0h1m15 0h1m-213 1h1m38 0h1m35 0h1m30 0h1m27 0h1m22 0h1m20 0h1m17 0h1m15 0h1m-212 1h1m38 0h1m35 0h1m29 0h1m27 0h1m23 0h1m19 0h1m17 0h1m15 0h1m-253 1h2m40 0h2m37 0h1m35 0h1m29 0h1m27 0h1m22 0h1m20 0h1m17 0h1m15 0h1m-252 1h1m41 0h1m37 0h1m34 0h1m30 0h1m26 0h1m22 0h1m20 0h1m17 0h1m15 0h1m-251 1h1m41 0h1m37 0h1m34 0h1m29 0h1m27 0h1m22 0h1m19 0h1m17 0h1m15 0h1m-294 1h1m43 0h1m41 0h1m37 0h1m34 0h1m29 0h1m26 0h1m22 0h1m19 0h1m17 0h1m15 0h1m-293 1h1m43 0h1m-90 1h1m45 0h1m-46 1h1m45 0h1m-46 1h1m45 0h1m-46 1h1m45 0h1m-46 1h1m0 1h1m130 0h1m37 0h1m32 0h1m29 0h1m25 0h1m21 0h1m19 0h1m17 0h1m14 0h1m-243 1h1m40 0h1m37 0h1m32 0h1m29 0h1m25 0h1m20 0h1m19 0h1m17 0h1m14 0h1m-242 1h1m40 0h1m37 0h1m32 0h1m28 0h1m25 0h1m21 0h1m19 0h1m16 0h1m14 0h1m-241 1h1m40 0h1m37 0h1m32 0h1m28 0h1m25 0h1m20 0h1m19 0h1m16 0h1m14 0h1m-240 1h1m40 0h1m36 0h1m32 0h1m29 0h1m24 0h1m20 0h1m19 0h1m16 0h1m14 0h1m-283 1h1m43 0h1m40 0h1m36 0h1m32 0h1m28 0h1m25 0h1m20 0h1m19 0h1m15 0h1m14 0h1m-282 1h1m43 0h1m-90 1h2m44 0h2m-46 1h1m45 0h1m-46 1h1m45 0h1m-46 1h2m0 1h1m128 0h1m36 0h1m31 0h1m27 0h1m23 0h1m20 0h1m18 0h1m15 0h1m14 0h1m-232 1h1m39 0h1m36 0h1m31 0h1m27 0h1m22 0h1m20 0h1m18 0h1m15 0h1m14 0h1m-231 1h1m39 0h1m35 0h1m31 0h1m27 0h1m23 0h1m20 0h1m17 0h1m15 0h1m14 0h1m-230 1h1m39 0h1m35 0h1m31 0h1m27 0h1m22 0h1m20 0h1m18 0h1m15 0h1m13 0h1m-272 1h1m42 0h1m39 0h1m35 0h1m30 0h1m27 0h1m22 0h1m20 0h1m18 0h1m15 0h1m13 0h1m-271 1h1m42 0h1m39 0h1m34 0h1m31 0h1m27 0h1m22 0h1m20 0h1m17 0h1m15 0h1m13 0h1m-316 1h1m45 0h1m42 0h1m39 0h1m34 0h1m30 0h1m27 0h1m22 0h1m20 0h1m17 0h1m15 0h1m13 0h1m-315 1h1m45 0h1m-94 1h1m47 0h1m45 0h1m-94 1h2m46 0h2m44 0h1m-93 1h1m47 0h1m-48 1h1m47 0h1m-48 1h1m136 0h1m38 0h1m33 0h1m30 0h1m25 0h1m21 0h1m19 0h1m17 0h1m15 0h1m13 0h1m-220 1h1m37 0h1m33 0h1m30 0h1m25 0h1m22 0h1m19 0h1m16 0h1m15 0h1m13 0h1m-219 1h1m37 0h1m33 0h1m30 0h1m25 0h1m21 0h1m19 0h1m17 0h1m14 0h1m13 0h1m-262 1h1m42 0h1m38 0h1m33 0h1m29 0h1m25 0h1m21 0h1m19 0h1m17 0h1m14 0h1m13 0h1m-261 1h1m42 0h1m37 0h1m33 0h1m30 0h1m25 0h1m21 0h1m19 0h1m16 0h1m14 0h1m13 0h1m-305 1h1m44 0h1m42 0h1m37 0h1m33 0h1m29 0h1m25 0h1m21 0h1m19 0h1m16 0h1m14 0h1m13 0h1m-304 1h1m44 0h1m-93 1h1m47 0h1m44 0h1m-93 1h2m46 0h2m43 0h1m-92 1h1m47 0h1m-48 1h1m47 0h1m-48 1h1m135 1h1m36 0h1m32 0h1m28 0h1m24 0h1m20 0h1m18 0h1m16 0h1m14 0h1m12 0h1m-210 1h1m37 0h1m32 0h1m27 0h1m24 0h1m21 0h1m18 0h1m15 0h1m14 0h1m12 0h1m-250 1h1m40 0h1m37 0h1m31 0h1m28 0h1m24 0h1m20 0h1m18 0h1m15 0h1m14 0h1m12 0h1m-249 1h1m40 0h1m37 0h1m31 0h1m27 0h1m24 0h1m20 0h1m18 0h1m15 0h1m14 0h1m12 0h1m-293 1h1m44 0h1m40 0h1m37 0h1m31 0h1m27 0h1m23 0h1m20 0h1m18 0h1m15 0h1m14 0h1m12 0h1m-292 1h1m44 0h1m40 0h1m36 0h1m31 0h1m27 0h1m24 0h1m20 0h1m17 0h1m15 0h1m14 0h1m12 0h1m-339 1h2m46 0h2m43 0h1m-92 1h1m47 0h1m43 0h1m-92 1h1m47 0h1m-48 1h1m-48 1h1m47 0h1m-48 1h1m0 1h1m140 0h1m39 0h1m35 0h1m30 0h1m26 0h1m22 0h1m20 0h1m17 0h1m15 0h1m13 0h1m11 0h1m-379 1h1m140 0h1m39 0h1m35 0h1m30 0h1m25 0h1m22 0h1m20 0h1m17 0h1m15 0h1m13 0h1m11 0h1m-378 1h1m96 0h1m43 0h1m39 0h1m34 0h1m30 0h1m26 0h1m22 0h1m19 0h1m17 0h1m15 0h1m13 0h1m11 0h1m-377 1h1m96 0h1m43 0h1m38 0h1m35 0h1m30 0h1m25 0h1m22 0h1m20 0h1m17 0h1m14 0h1m13 0h1m11 0h1m-327 1h1m47 0h1m43 0h1m38 0h1m34 0h1m30 0h1m26 0h1m22 0h1m19 0h1m17 0h1m14 0h1m13 0h1m11 0h1m-326 1h1m47 0h1m43 0h1m38 0h1m34 0h1m30 0h1m25 0h1m22 0h1m19 0h1m17 0h1m14 0h1m13 0h1m11 0h1m-325 1h1m47 0h1m-48 1h1m47 0h1m-48 1h2m-49 2h1m0 1h1m178 0h1m33 0h1m29 0h1m25 0h1m21 0h1m18 0h1m16 0h1m14 0h1m13 0h1m11 0h1m-368 1h2m138 0h1m38 0h1m33 0h1m29 0h1m24 0h1m21 0h1m19 0h1m16 0h1m14 0h1m12 0h1m11 0h1m-366 1h1m138 0h1m38 0h1m32 0h1m29 0h1m25 0h1m21 0h1m18 0h1m16 0h1m14 0h1m12 0h1m11 0h1m-365 1h1m48 0h1m46 0h1m42 0h1m38 0h1m32 0h1m29 0h1m24 0h1m21 0h1m18 0h1m16 0h1m14 0h1m12 0h1m11 0h1m-315 1h1m46 0h1m42 0h1m38 0h1m32 0h1m29 0h1m24 0h1m20 0h1m18 0h1m16 0h1m14 0h1m12 0h1m11 0h1m-314 1h2m45 0h2m41 0h1m38 0h1m32 0h1m28 0h1m24 0h1m21 0h1m18 0h1m15 0h1m14 0h1m12 0h1m11 0h1m-312 1h1m46 0h1m41 0h1m-89 1h1m46 0h1m-96 1h1m0 1h2m0 1h1m-52 1h1m51 0h1m173 0h1m32 0h1m27 0h1m23 0h1m20 0h1m18 0h1m15 0h1m13 0h1m12 0h1m11 0h1m-406 1h1m51 0h1m136 0h1m36 0h1m31 0h1m27 0h1m23 0h1m20 0h1m18 0h1m15 0h1m13 0h1m12 0h1m11 0h1m-405 1h1m100 0h1m45 0h1m41 0h1m36 0h1m31 0h1m27 0h1m23 0h1m19 0h1m18 0h1m15 0h1m13 0h1m12 0h1m11 0h1m-404 1h1m100 0h1m44 0h1m41 0h1m36 0h1m31 0h1m27 0h1m23 0h1m20 0h1m17 0h1m15 0h1m14 0h1m12 0h1m10 0h1m-403 1h1m100 0h1m44 0h1m41 0h1m36 0h1m31 0h1m27 0h1m23 0h1m19 0h1m17 0h1m15 0h1m14 0h1m12 0h1m10 0h1m-402 1h1m100 0h1m44 0h1m41 0h1m36 0h1m30 0h1m27 0h1m23 0h1m19 0h1m17 0h1m15 0h1m14 0h1m12 0h1m10 0h1m-300 1h1m44 0h1m41 0h1m-136 1h1m48 0h1m44 0h1m-94 1h1m0 1h1m0 1h1m-51 1h2m49 0h2m-51 1h1m99 0h1m44 0h1m40 0h1m34 0h1m30 0h1m25 0h1m22 0h1m19 0h1m17 0h1m14 0h1m13 0h1m12 0h1m10 0h1m-392 1h1m99 0h1m44 0h1m40 0h1m34 0h1m30 0h1m25 0h1m21 0h1m19 0h1m17 0h1m14 0h1m13 0h1m12 0h1m10 0h1m-391 1h1m99 0h1m44 0h1m40 0h1m34 0h1m29 0h1m25 0h1m22 0h1m19 0h1m16 0h1m15 0h1m12 0h1m12 0h1m10 0h1m-390 1h1m99 0h1m44 0h1m39 0h1m34 0h1m30 0h1m25 0h1m21 0h1m19 0h1m16 0h1m15 0h1m12 0h1m12 0h1m10 0h1m-337 1h1m47 0h1m44 0h1m39 0h1m34 0h1m29 0h1m25 0h1m21 0h1m19 0h1m16 0h1m15 0h1m12 0h1m12 0h1m10 0h1m-336 1h1m47 0h1m44 0h1m-93 1h1m0 1h1m0 1h1m-52 1h1m51 0h1m-52 1h2m0 1h1m181 0h1m33 0h1m29 0h1m24 0h1m21 0h1m18 0h1m15 0h1m14 0h1m12 0h1m11 0h1m10 0h1m9 0h1m-389 1h1m98 0h1m43 0h1m38 0h1m33 0h1m28 0h1m24 0h1m21 0h1m18 0h1m15 0h1m14 0h1m12 0h1m11 0h1m10 0h1m9 0h1m-388 1h1m98 0h1m43 0h1m38 0h1m33 0h1m27 0h1m24 0h1m21 0h1m18 0h1m15 0h1m14 0h1m12 0h1m11 0h1m10 0h1m9 0h1m-288 1h2m42 0h2m37 0h1m32 0h1m28 0h1m24 0h1m20 0h1m18 0h1m16 0h1m13 0h1m13 0h1m10 0h1m10 0h1m9 0h1m-439 1h1m104 0h1m47 0h1m43 0h1m37 0h1m32 0h1m27 0h1m24 0h1m20 0h1m18 0h1m16 0h1m13 0h1m13 0h1m10 0h1m10 0h1m9 0h1m-438 1h1m104 0h1m-105 1h1m104 0h1m-105 1h1m104 0h1m-51 1h1m50 0h1m-51 1h1m0 1h2m0 1h1m97 0h1m42 0h1m36 0h1m31 0h1m27 0h1m23 0h1m19 0h1m17 0h1m15 0h1m14 0h1m12 0h1m10 0h1m10 0h1m8 0h1m-429 1h1m151 0h1m42 0h1m36 0h1m31 0h1m26 0h1m23 0h1m19 0h1m17 0h1m15 0h1m14 0h1m12 0h1m10 0h1m10 0h1m8 0h1m-428 1h1m151 0h1m42 0h1m35 0h1m31 0h1m27 0h1m23 0h1m19 0h1m17 0h1m15 0h1m13 0h1m12 0h1m10 0h1m10 0h1m8 0h1m-427 1h1m104 0h1m46 0h1m41 0h1m36 0h1m31 0h1m26 0h1m23 0h1m19 0h1m17 0h1m15 0h1m13 0h1m12 0h1m10 0h1m10 0h1m8 0h1m-426 1h1m104 0h1m46 0h1m41 0h1m35 0h1m31 0h1m26 0h1m23 0h1m19 0h1m17 0h1m15 0h1m13 0h1m12 0h1m10 0h1m10 0h1m8 0h1m-425 1h1m104 0h1m-105 1h1m54 0h1m49 0h2m-51 1h1m50 0h1m-51 1h1m0 1h1m-53 1h1m52 0h1m96 0h1m40 0h1m35 0h1m30 0h1m25 0h1m22 0h1m19 0h1m16 0h1m14 0h1m13 0h1m12 0h1m10 0h1m9 0h1m9 0h1m-417 1h1m149 0h1m40 0h1m35 0h1m29 0h1m25 0h1m22 0h1m19 0h1m16 0h1m14 0h1m13 0h1m12 0h1m10 0h1m9 0h1m9 0h1m-416 1h1m149 0h1m40 0h1m34 0h1m30 0h1m25 0h1m22 0h1m18 0h1m16 0h1m15 0h1m12 0h1m12 0h1m10 0h1m9 0h1m8 0h1m-415 1h1m104 0h1m45 0h1m39 0h1m35 0h1m29 0h1m25 0h1m22 0h1m18 0h1m16 0h1m15 0h1m12 0h1m12 0h1m10 0h1m9 0h1m8 0h1m-414 1h1m104 0h1m45 0h1m39 0h1m34 0h1m29 0h1m25 0h1m22 0h1m18 0h1m16 0h1m15 0h1m12 0h1m12 0h1m10 0h1m9 0h1m8 0h1m-413 1h1m104 0h1m45 0h1m39 0h1m34 0h1m29 0h1m24 0h1m22 0h1m18 0h1m16 0h1m15 0h1m12 0h1m12 0h1m10 0h1m9 0h1m8 0h1m-357 1h1m49 0h1m-50 1h1m49 0h1m-50 1h1m0 1h1m-53 1h1m52 0h1m-53 1h1m147 0h1m39 0h1m33 0h1m28 0h1m24 0h1m20 0h1m18 0h1m16 0h1m14 0h1m13 0h1m11 0h1m10 0h1m9 0h1m8 0h1m-404 1h1m147 0h1m38 0h1m33 0h1m28 0h1m25 0h1m20 0h1m18 0h1m16 0h1m13 0h1m13 0h1m11 0h1m9 0h1m9 0h1m8 0h1m-402 1h1m103 0h1m43 0h1m38 0h1m33 0h1m28 0h1m24 0h1m20 0h1m18 0h1m16 0h1m13 0h1m13 0h1m11 0h1m9 0h1m9 0h1m8 0h1m-457 1h1m55 0h1m103 0h1m43 0h1m38 0h1m33 0h1m27 0h1m24 0h1m20 0h1m18 0h1m16 0h1m13 0h1m13 0h1m11 0h1m9 0h1m9 0h1m8 0h1m-456 1h2m158 0h1m43 0h1m38 0h1m32 0h1m28 0h1m24 0h1m20 0h1m18 0h1m15 0h1m14 0h1m12 0h1m11 0h1m9 0h1m9 0h1m8 0h1m-454 1h1m108 0h1m49 0h1m43 0h1m38 0h1m32 0h1m27 0h1m24 0h1m20 0h1m18 0h1m15 0h1m14 0h1m12 0h1m11 0h1m9 0h1m9 0h1m8 0h1m-453 1h1m108 0h1m49 0h1m-159 1h1m108 0h2m-54 1h1m53 0h1m-54 1h1m0 1h2m0 1h1m144 0h1m37 0h1m31 0h1m27 0h1m23 0h1m19 0h1m18 0h1m15 0h1m13 0h1m12 0h1m10 0h1m10 0h1m9 0h1m8 0h1m-446 1h1m55 0h1m101 0h1m42 0h1m37 0h1m31 0h1m26 0h1m23 0h1m19 0h1m18 0h1m15 0h1m13 0h1m12 0h1m10 0h1m10 0h1m9 0h1m8 0h1m-445 1h1m157 0h1m42 0h1m36 0h1m31 0h1m27 0h1m23 0h1m19 0h1m17 0h1m15 0h1m13 0h1m12 0h1m10 0h1m10 0h1m8 0h1m8 0h1m-443 1h1m108 0h1m48 0h1m42 0h1m36 0h1m31 0h1m26 0h1m23 0h1m19 0h1m17 0h1m15 0h1m13 0h1m12 0h1m10 0h1m10 0h1m8 0h1m8 0h1m-442 1h1m108 0h1m48 0h1m42 0h1m36 0h1m30 0h1m26 0h1m23 0h1m19 0h1m17 0h1m15 0h1m13 0h1m12 0h1m10 0h1m10 0h1m8 0h1m8 0h1m-441 1h1m108 0h1m47 0h1m-157 1h1m108 0h1m47 0h1m-101 1h2m51 0h2m-53 1h2m0 1h1m-56 1h1m55 0h1m140 0h1m36 0h1m30 0h1m25 0h1m22 0h1m19 0h1m16 0h1m15 0h1m12 0h1m12 0h1m10 0h1m9 0h1m9 0h1m8 0h1m-433 1h1m155 0h1m40 0h1m35 0h1m30 0h1m25 0h1m22 0h1m19 0h1m16 0h1m15 0h1m12 0h1m12 0h1m10 0h1m9 0h1m9 0h1m8 0h1m-432 1h1m155 0h1m40 0h1m35 0h1m29 0h1m25 0h1m22 0h1m19 0h1m16 0h1m15 0h1m12 0h1m12 0h1m10 0h1m9 0h1m9 0h1m8 0h1m-431 1h1m107 0h1m46 0h1m41 0h1m34 0h1m30 0h1m25 0h1m22 0h1m18 0h1m17 0h1m14 0h1m13 0h1m11 0h1m10 0h1m9 0h1m9 0h1m7 0h1m-429 1h1m107 0h1m46 0h1m41 0h1m34 0h1m29 0h1m25 0h1m22 0h1m18 0h1m17 0h1m14 0h1m13 0h1m11 0h1m10 0h1m9 0h1m9 0h1m7 0h1m-371 1h1m50 0h2m45 0h1m-98 1h1m51 0h1m-52 1h1m0 1h1m-56 1h1m55 0h1m-56 1h1m153 0h1m40 0h1m33 0h1m28 0h1m24 0h1m21 0h1m18 0h1m16 0h1m14 0h1m13 0h1m11 0h1m10 0h1m9 0h1m8 0h1m8 0h1m-479 1h1m57 0h1m153 0h1m39 0h1m33 0h1m29 0h1m24 0h1m21 0h1m18 0h1m16 0h1m13 0h1m13 0h1m11 0h1m10 0h1m9 0h1m8 0h1m7 0h1m-477 1h1m57 0h1m107 0h1m45 0h1m39 0h1m33 0h1m28 0h1m24 0h1m21 0h1m18 0h1m16 0h1m13 0h1m13 0h1m11 0h1m10 0h1m9 0h1m8 0h1m7 0h1m-476 1h2m56 0h2m106 0h1m45 0h1m39 0h1m33 0h1m28 0h1m24 0h1m21 0h1m17 0h1m16 0h1m14 0h1m12 0h1m11 0h1m10 0h1m9 0h1m8 0h1m7 0h1m-474 1h1m113 0h1m50 0h1m45 0h1m38 0h1m33 0h1m28 0h1m24 0h1m21 0h1m17 0h1m16 0h1m14 0h1m12 0h1m11 0h1m10 0h1m9 0h1m8 0h1m7 0h1m-359 1h1m50 0h1m-51 1h1m50 0h1m-51 1h1m50 0h1m-106 1h1m54 0h2m-56 1h1m-59 1h1m58 0h1m150 0h1m38 0h1m31 0h1m27 0h1m24 0h1m20 0h1m17 0h1m15 0h1m14 0h1m12 0h1m11 0h1m9 0h1m9 0h1m8 0h1m8 0h1m-467 1h1m58 0h1m149 0h1m38 0h1m32 0h1m27 0h1m23 0h1m20 0h1m18 0h1m15 0h1m13 0h1m12 0h1m11 0h1m9 0h1m9 0h1m8 0h1m7 0h1m-465 1h1m58 0h1m105 0h1m43 0h1m38 0h1m31 0h1m27 0h1m23 0h1m20 0h1m18 0h1m15 0h1m13 0h1m12 0h1m11 0h1m9 0h1m9 0h1m8 0h1m7 0h1m-464 1h2m163 0h1m43 0h1m38 0h1m31 0h1m27 0h1m23 0h1m20 0h1m17 0h1m15 0h1m13 0h1m12 0h1m11 0h1m9 0h1m9 0h1m8 0h1m7 0h1m-462 1h1m113 0h1m49 0h1m43 0h1m37 0h1m32 0h1m26 0h1m23 0h1m20 0h1m17 0h1m15 0h1m13 0h1m12 0h1m11 0h1m9 0h1m9 0h1m8 0h1m7 0h1m-347 1h2m48 0h2m-105 1h1m54 0h1m-55 1h1m54 0h1m-55 1h1m-59 1h1m58 0h1m-59 1h2m57 0h1m146 0h1m37 0h1m30 0h1m26 0h1m22 0h1m19 0h1m17 0h1m15 0h1m13 0h1m11 0h1m11 0h1m9 0h1m8 0h1m8 0h1m7 0h1m7 0h1m-460 1h1m57 0h1m103 0h1m42 0h1m36 0h1m30 0h1m26 0h1m22 0h1m19 0h1m17 0h1m15 0h1m13 0h1m11 0h1m11 0h1m9 0h1m8 0h1m8 0h1m7 0h1m7 0h1m-459 1h1m113 0h1m47 0h2m41 0h1m36 0h1m30 0h1m26 0h1m22 0h1m19 0h1m16 0h1m15 0h1m13 0h1m11 0h1m11 0h1m9 0h1m8 0h1m8 0h1m7 0h1m7 0h1m-344 1h1m48 0h1m41 0h1m35 0h1m30 0h1m26 0h1m22 0h1m19 0h1m16 0h1m15 0h1m13 0h1m11 0h1m11 0h1m9 0h1m8 0h1m8 0h1m7 0h1m7 0h1m-343 1h1m48 0h1m41 0h1m35 0h1m30 0h1m25 0h1m22 0h1m19 0h1m16 0h1m15 0h1m13 0h1m11 0h1m11 0h1m9 0h1m8 0h1m8 0h1m7 0h1m7 0h1m-343 1h1m-54 1h1m53 0h1m-112 1h1m57 0h2m-59 1h1m58 0h1m-121 1h2m60 0h2m57 0h1m-120 1h1m61 0h1m159 0h1m40 0h1m35 0h1m29 0h1m24 0h1m22 0h1m18 0h1m16 0h1m14 0h1m13 0h1m11 0h1m10 0h1m10 0h1m8 0h1m7 0h1m7 0h1m7 0h1m-509 1h2m172 0h1m47 0h1m40 0h1m35 0h1m29 0h1m24 0h1m21 0h1m19 0h1m15 0h1m15 0h1m12 0h1m11 0h1m10 0h1m9 0h1m9 0h1m7 0h1m7 0h1m7 0h1m-507 1h1m172 0h1m47 0h1m40 0h1m34 0h1m29 0h1m24 0h1m21 0h1m19 0h1m15 0h1m15 0h1m12 0h1m11 0h1m10 0h1m9 0h1m9 0h1m7 0h1m7 0h1m7 0h1m-333 1h1m47 0h1m39 0h1m34 0h1m29 0h1m24 0h1m21 0h1m19 0h1m15 0h1m15 0h1m12 0h1m11 0h1m10 0h1m9 0h1m9 0h1m7 0h1m7 0h1m7 0h1m-386 1h1m53 0h1m46 0h1m40 0h1m34 0h1m29 0h1m24 0h1m21 0h1m18 0h1m16 0h1m14 0h1m12 0h1m11 0h1m10 0h1m9 0h1m9 0h1m7 0h1m7 0h1m6 0h1m-384 1h1m53 0h1m-112 1h1m57 0h2m-120 1h1m60 0h1m58 0h1m-120 1h1m60 0h2m-62 1h1m61 0h1m157 0h1m38 0h1m34 0h1m27 0h1m24 0h1m21 0h1m18 0h1m15 0h1m14 0h1m12 0h1m11 0h1m10 0h1m9 0h1m8 0h1m8 0h1m7 0h1m6 0h1m-498 1h2m218 0h1m38 0h1m34 0h1m27 0h1m24 0h1m20 0h1m18 0h1m15 0h1m14 0h1m12 0h1m11 0h1m10 0h1m9 0h1m8 0h1m7 0h1m7 0h1m7 0h1m-324 1h1m45 0h1m39 0h1m33 0h1m27 0h1m24 0h1m20 0h1m18 0h1m15 0h1m14 0h1m12 0h1m11 0h1m10 0h1m9 0h1m8 0h1m7 0h1m7 0h1m7 0h1m-375 1h1m51 0h1m45 0h1m39 0h1m33 0h1m27 0h1m24 0h1m20 0h1m17 0h1m16 0h1m13 0h1m12 0h1m11 0h1m10 0h1m9 0h1m8 0h1m7 0h1m7 0h1m6 0h1m-373 1h1m51 0h1m45 0h1m38 0h1m33 0h1m27 0h1m24 0h1m20 0h1m17 0h1m16 0h1m13 0h1m12 0h1m11 0h1m10 0h1m9 0h1m8 0h1m7 0h1m7 0h1m6 0h1m-430 1h1m57 0h1m51 0h1m-171 1h1m60 0h1m57 0h1m51 0h1m-171 1h1m60 0h2m56 0h1m-119 1h1m61 0h1m-62 1h2m215 1h1m37 0h1m32 0h1m27 0h1m22 0h1m20 0h1m17 0h1m15 0h1m14 0h1m11 0h1m11 0h1m10 0h1m9 0h1m7 0h1m8 0h1m6 0h1m7 0h1m-314 1h1m44 0h1m37 0h1m32 0h1m26 0h1m23 0h1m20 0h1m17 0h1m15 0h1m13 0h1m12 0h1m10 0h1m10 0h1m8 0h1m8 0h1m8 0h1m6 0h1m6 0h1m-363 1h1m50 0h1m44 0h1m37 0h1m31 0h1m26 0h1m23 0h1m20 0h1m17 0h1m15 0h1m13 0h1m12 0h1m10 0h1m10 0h1m8 0h1m8 0h1m8 0h1m6 0h1m6 0h1m-419 1h1m56 0h1m50 0h1m44 0h1m37 0h1m31 0h1m26 0h1m23 0h1m19 0h1m17 0h1m15 0h1m13 0h1m12 0h1m10 0h1m10 0h1m8 0h1m8 0h1m7 0h1m7 0h1m6 0h1m-480 1h1m61 0h1m56 0h1m50 0h1m43 0h1m37 0h1m31 0h1m26 0h1m23 0h1m19 0h1m17 0h1m15 0h1m13 0h1m12 0h1m10 0h1m10 0h1m8 0h1m8 0h1m7 0h1m7 0h1m6 0h1m-479 1h2m60 0h1m56 0h1m50 0h1m-169 1h1m60 0h1m56 0h1m-118 1h1m60 0h1m-61 1h1m212 1h1m36 0h1m31 0h1m25 0h1m22 0h1m19 0h1m17 0h1m14 0h1m13 0h1m12 0h1m10 0h1m9 0h1m9 0h1m8 0h1m7 0h1m6 0h1m6 0h1m-303 1h1m42 0h1m36 0h1m30 0h1m25 0h1m22 0h1m19 0h1m17 0h1m14 0h1m13 0h1m12 0h1m10 0h1m9 0h1m9 0h1m8 0h1m7 0h1m6 0h1m6 0h1m-534 1h1m64 0h1m60 0h1m54 0h2m49 0h1m42 0h1m36 0h1m30 0h1m25 0h1m22 0h1m19 0h1m16 0h1m14 0h1m13 0h1m12 0h1m10 0h1m9 0h1m9 0h1m8 0h1m7 0h1m6 0h1m6 0h1m-533 1h1m64 0h1m60 0h1m55 0h1m49 0h1m42 0h1m36 0h1m29 0h1m26 0h1m21 0h1m19 0h1m16 0h1m15 0h1m12 0h1m12 0h1m10 0h1m9 0h1m9 0h1m7 0h1m8 0h1m6 0h1m6 0h1m-532 1h1m64 0h1m60 0h1m55 0h1m49 0h1m42 0h1m35 0h1m29 0h1m26 0h1m21 0h1m19 0h1m16 0h1m15 0h1m12 0h1m12 0h1m10 0h1m9 0h1m9 0h1m7 0h1m8 0h1m6 0h1m6 0h1m-531 1h2m63 0h1m60 0h2m54 0h1m49 0h1m-231 1h1m63 0h1m210 3h1m35 0h1m29 0h1m24 0h1m22 0h1m18 0h1m16 0h1m14 0h1m13 0h1m11 0h1m10 0h1m9 0h1m8 0h1m8 0h1m7 0h1m6 0h1m6 0h1m-398 1h1m54 0h1m48 0h1m41 0h1m34 0h1m29 0h1m24 0h1m22 0h1m18 0h1m16 0h1m14 0h1m13 0h1m11 0h1m10 0h1m9 0h1m8 0h1m8 0h1m7 0h1m6 0h1m6 0h1m-523 1h1m64 0h1m60 0h1m54 0h1m48 0h1m41 0h1m34 0h1m29 0h1m24 0h1m21 0h1m18 0h1m16 0h1m14 0h1m13 0h1m11 0h1m10 0h1m9 0h1m8 0h1m8 0h1m7 0h1m6 0h1m6 0h1m-522 1h1m64 0h1m60 0h1m54 0h1m47 0h1m41 0h1m34 0h1m29 0h1m24 0h1m21 0h1m18 0h1m16 0h1m14 0h1m13 0h1m11 0h1m10 0h1m9 0h1m8 0h1m8 0h1m7 0h1m6 0h1m6 0h1m-521 1h2m63 0h2m59 0h2m53 0h2m46 0h2m40 0h1m34 0h1m28 0h1m25 0h1m20 0h1m19 0h1m15 0h1m14 0h1m13 0h1m11 0h1m10 0h1m9 0h1m8 0h1m8 0h1m7 0h1m6 0h1m6 0h1m-519 1h1m64 0h1" stroke="#00ff00" stroke-width="1" fill="none" transform="translate(0,0.5)"/>
<path d="M525 77h1m37 0h1m52 0h1m42 0h1m26 0h1m-163 1h1m37 0h1m53 0h1m42 0h1m26 0h1m-164 1h1m37 0h1m53 0h1m42 0h1m26 0h1m-164 1h1m38 0h1m52 0h1m42 0h1m26 0h1m-163 1h1m37 0h1m52 0h1m42 0h1m26 0h1m-163 1h1m37 0h1m52 0h1m42 0h1m26 0h1m-163 1h1m37 0h1m52 0h1m42 0h1m26 0h1m-170 8h1m38 0h1m52 0h1m43 0h1m26 0h1m18 0h1m-184 1h1m38 0h1m52 0h1m43 0h1m26 0h1m18 0h1m-183 1h1m37 0h1m53 0h1m42 0h1m26 0h1m18 0h1m-183 1h1m37 0h1m53 0h1m42 0h1m26 0h1m19 0h1m-184 1h1m37 0h1m53 0h1m42 0h1m26 0h1m19 0h1m-184 1h1m37 0h1m53 0h1m43 0h1m26 0h1m18 0h1m-184 1h1m37 0h1m53 0h1m43 0h1m26 0h1m18 0h1m-190 8h1m37 0h1m53 0h1m43 0h1m26 0h1m18 0h1m-184 1h1m37 0h1m53 0h1m43 0h1m26 0h1m19 0h1m-185 1h1m37 0h1m53 0h1m43 0h1m26 0h1m19 0h1m-185 1h1m37 0h1m54 0h1m43 0h1m26 0h1m18 0h1m-185 1h1m37 0h1m54 0h1m43 0h1m26 0h1m18 0h1m-185 1h1m37 0h1m54 0h1m43 0h1m26 0h1m18 0h1m-185 1h1m37 0h1m54 0h1m43 0h1m26 0h1m18 0h1m-191 8h1m37 0h1m54 0h1m43 0h1m26 0h1m19 0h1m-186 1h1m37 0h1m54 0h1m43 0h1m26 0h1m19 0h1m-186 1h1m37 0h1m54 0h1m44 0h1m26 0h1m18 0h1m-186 1h1m38 0h1m53 0h1m44 0h1m26 0h1m18 0h1m-186 1h1m38 0h1m54 0h1m43 0h1m26 0h1m19 0h1m-187 1h1m38 0h1m54 0h1m43 0h1m26 0h1m19 0h1m-187 1h1m38 0h1m54 0h1m43 0h1m26 0h1m19 0h1m26 3h1m-2 1h1m-1 1h1m-2 1h1m-2 1h1m-217 1h1m38 0h1m54 0h1m44 0h1m26 0h1m18 0h1m29 0h1m-217 1h1m38 0h1m54 0h1m44 0h1m26 0h1m19 0h1m28 0h1m-217 1h1m38 0h1m54 0h1m44 0h1m26 0h1m19 0h1m-188 1h1m38 0h1m54 0h1m44 0h1m26 0h1m19 0h1m-188 1h1m38 0h1m55 0h1m43 0h1m26 0h1m19 0h1m-188 1h1m38 0h1m55 0h1m43 0h1m26 0h1m19 0h1m-188 1h1m38 0h1m55 0h1m44 0h1m26 0h1m18 0h1m27 3h1m-2 1h1m-2 1h1m-2 1h1m-1 1h1m-219 1h1m38 0h1m55 0h1m44 0h1m26 0h1m19 0h1m29 0h1m-219 1h1m38 0h1m55 0h1m44 0h1m26 0h1m19 0h1m29 0h1m-219 1h1m38 0h1m55 0h1m44 0h1m26 0h1m19 0h1m50 0h1m-240 1h1m38 0h1m55 0h1m44 0h1m26 0h1m19 0h1m50 0h1m-240 1h1m38 0h1m55 0h1m45 0h1m26 0h1m19 0h1m50 0h1m-241 1h1m39 0h1m55 0h1m44 0h1m26 0h1m19 0h1m50 0h1m-2 1h1m-2 1h1m-23 1h1m21 0h1m-23 1h1m-2 1h1m-2 1h1m-2 1h1m-220 1h1m39 0h1m55 0h1m44 0h1m26 0h1m19 0h1m29 0h1m-220 1h1m39 0h1m55 0h1m44 0h1m26 0h1m20 0h1m29 0h1m-220 1h1m38 0h1m55 0h1m44 0h1m27 0h1m19 0h1m-190 1h1m38 0h1m55 0h1m45 0h1m26 0h1m19 0h1m50 0h1m-241 1h1m38 0h1m55 0h1m45 0h1m26 0h1m19 0h1m51 0h1m-242 1h1m38 0h1m56 0h1m44 0h1m26 0h1m20 0h1m50 0h1m-242 1h1m38 0h1m56 0h1m44 0h1m26 0h1m20 0h1m50 0h1m-2 1h1m-1 1h1m-24 1h1m21 0h1m-23 1h1m-2 1h1m-2 1h1m-2 1h1m-221 1h1m38 0h1m56 0h1m44 0h1m27 0h1m19 0h1m29 0h1m-221 1h1m39 0h1m55 0h1m45 0h1m26 0h1m20 0h1m29 0h1m-222 1h1m39 0h1m55 0h1m45 0h1m26 0h1m20 0h1m-192 1h1m39 0h1m55 0h1m45 0h1m26 0h1m20 0h1m51 0h1m-244 1h1m39 0h1m56 0h1m44 0h1m27 0h1m19 0h1m51 0h1m-243 1h1m38 0h1m56 0h1m44 0h1m27 0h1m19 0h1m51 0h1m-243 1h1m38 0h1m56 0h1m44 0h1m27 0h1m20 0h1m50 0h1m-2 1h1m-1 1h1m-24 1h1m21 0h1m-24 1h1m-1 1h1m-2 1h1m-2 1h1m-222 1h1m38 0h1m56 0h1m45 0h1m27 0h1m19 0h1m29 0h1m-222 1h1m38 0h1m56 0h1m45 0h1m27 0h1m20 0h1m29 0h1m-223 1h1m39 0h1m55 0h1m45 0h1m27 0h1m20 0h1m-193 1h1m39 0h1m55 0h1m45 0h1m27 0h1m20 0h1m51 0h1m-245 1h1m39 0h1m56 0h1m44 0h1m27 0h1m20 0h1m51 0h1m-245 1h1m39 0h1m56 0h1m45 0h1m26 0h1m20 0h1m51 0h1m-245 1h1m39 0h1m56 0h1m45 0h1m27 0h1m20 0h1m50 0h1m-1 1h1m-2 1h1m-24 1h1m21 0h1m-24 1h1m53 0h1m-55 1h1m53 0h1m-56 1h1m53 0h1m-278 1h1m39 0h1m56 0h1m45 0h1m27 0h1m20 0h1m29 0h1m53 0h1m-278 1h1m39 0h1m56 0h1m45 0h1m27 0h1m20 0h1m29 0h1m53 0h1m-278 1h1m39 0h1m56 0h1m45 0h1m27 0h1m20 0h1m83 0h1m-278 1h1m39 0h1m56 0h1m45 0h1m28 0h1m20 0h1m51 0h1m-247 1h1m39 0h1m56 0h1m46 0h1m27 0h1m20 0h1m51 0h1m-247 1h1m39 0h1m57 0h1m45 0h1m27 0h1m20 0h1m51 0h1m-247 1h1m40 0h1m56 0h1m45 0h1m27 0h1m20 0h1m51 0h1m-1 1h1m-2 1h1m-24 1h1m21 0h1m-24 1h1m53 0h1m-56 1h1m54 0h1m-57 1h1m54 0h1m-56 1h1m53 0h1m-280 1h1m39 0h1m57 0h1m45 0h1m27 0h1m20 0h1m30 0h1m53 0h1m-280 1h1m39 0h1m57 0h1m45 0h1m28 0h1m20 0h1m29 0h1m54 0h1m-281 1h1m40 0h1m56 0h1m45 0h1m28 0h1m20 0h1m84 0h1m-281 1h1m40 0h1m56 0h1m46 0h1m27 0h1m20 0h1m52 0h1m-249 1h1m40 0h1m56 0h1m46 0h1m27 0h1m20 0h1m52 0h1m-249 1h1m40 0h1m56 0h1m46 0h1m27 0h1m20 0h1m52 0h1m-249 1h1m40 0h1m56 0h1m46 0h1m27 0h1m20 0h1m52 0h1m-1 1h1m55 0h1m-58 1h1m55 0h1m-80 1h1m21 0h1m56 0h1m-81 1h1m54 0h1m23 0h1m-81 1h1m54 0h1m23 0h1m-81 1h1m54 0h1m23 0h1m-81 1h1m55 0h1m-283 1h1m40 0h1m56 0h1m46 0h1m28 0h1m20 0h1m30 0h1m54 0h1m-283 1h1m40 0h1m57 0h1m45 0h1m28 0h1m20 0h1m30 0h1m54 0h1m-283 1h1m40 0h1m57 0h1m45 0h1m28 0h1m20 0h1m85 0h1m-283 1h1m40 0h1m57 0h1m46 0h1m27 0h1m20 0h1m53 0h1m-251 1h1m40 0h1m57 0h1m46 0h1m28 0h1m20 0h1m52 0h1m-251 1h1m40 0h1m57 0h1m46 0h1m28 0h1m20 0h1m52 0h1m-250 1h1m39 0h1m57 0h1m46 0h1m28 0h1m20 0h1m53 0h1m55 0h1m-58 1h1m56 0h1m-59 1h1m56 0h1m-82 1h1m22 0h1m56 0h1m-81 1h1m54 0h1m23 0h1m-81 1h1m55 0h1m23 0h1m-82 1h1m55 0h1m23 0h1m-309 1h1m40 0h1m57 0h1m46 0h1m28 0h1m20 0h1m30 0h1m55 0h1m-285 1h1m40 0h1m57 0h1m46 0h1m28 0h1m20 0h1m30 0h1m56 0h1m-286 1h1m40 0h1m58 0h1m46 0h1m28 0h1m20 0h1m86 0h1m-285 1h1m40 0h1m57 0h1m46 0h1m28 0h1m20 0h1m53 0h1m-252 1h1m40 0h1m57 0h1m46 0h1m28 0h1m20 0h1m53 0h1m-252 1h1m40 0h1m57 0h1m46 0h1m28 0h1m20 0h1m53 0h1m-252 1h1m40 0h1m57 0h1m46 0h1m28 0h1m21 0h1m53 0h1m56 0h1m18 0h1m-78 1h1m56 0h1m19 0h1m-79 1h1m57 0h1m18 0h1m-102 1h1m22 0h1m57 0h1m18 0h1m-101 1h1m55 0h1m23 0h1m19 0h1m-102 1h1m55 0h1m24 0h1m18 0h1m-102 1h1m55 0h1m24 0h1m-83 1h1m56 0h1m-287 1h1m40 0h1m58 0h1m46 0h1m28 0h1m21 0h1m30 0h1m55 0h1m-287 1h1m40 0h1m58 0h1m46 0h1m28 0h1m21 0h1m30 0h1m55 0h1m-287 1h1m40 0h1m58 0h1m46 0h1m28 0h1m21 0h1m86 0h1m-286 1h1m40 0h1m57 0h1m47 0h1m28 0h1m20 0h1m53 0h1m-253 1h1m40 0h1m57 0h1m47 0h1m28 0h1m20 0h1m53 0h1m-253 1h1m40 0h1m58 0h1m46 0h1m28 0h1m21 0h1m53 0h1m76 0h1m-331 1h1m40 0h1m58 0h1m46 0h1m28 0h1m21 0h1m53 0h1m57 0h1m19 0h1m-80 1h1m57 0h1m19 0h1m-80 1h1m58 0h1m18 0h1m-102 1h1m22 0h1m57 0h1m19 0h1m-103 1h1m56 0h1m23 0h1m19 0h1m-103 1h1m56 0h1m24 0h1m18 0h1m-103 1h1m56 0h1m24 0h1m-83 1h1m55 0h1m-288 1h1m40 0h1m58 0h1m47 0h1m28 0h1m21 0h1m30 0h1m56 0h1m-289 1h1m40 0h1m58 0h1m47 0h1m28 0h1m21 0h1m30 0h1m56 0h1m-288 1h1m40 0h1m57 0h1m47 0h1m28 0h1m21 0h1m87 0h1m60 0h1m-349 1h1m40 0h1m58 0h1m47 0h1m28 0h1m21 0h1m53 0h1m93 0h1m-349 1h1m40 0h1m58 0h1m47 0h1m28 0h1m21 0h1m53 0h1m94 0h1m-350 1h1m40 0h1m58 0h1m47 0h1m28 0h1m21 0h1m53 0h1m58 0h1m19 0h1m-81 1h1m58 0h1m19 0h1m-81 1h1m59 0h1m19 0h1m-104 1h1m22 0h1m58 0h1m19 0h1m-104 1h1m56 0h1m24 0h1m19 0h1m-104 1h1m56 0h1m24 0h1m19 0h1m-104 1h1m57 0h1m24 0h1m35 0h1m-120 1h1m56 0h1m60 0h1m-351 1h1m40 0h1m58 0h1m47 0h1m29 0h1m21 0h1m30 0h1m56 0h1m61 0h1m-352 1h1m40 0h1m58 0h1m48 0h1m28 0h1m21 0h1m30 0h1m57 0h1m60 0h1m-352 1h1m40 0h1m58 0h1m48 0h1m28 0h1m21 0h1m88 0h1m60 0h1m-352 1h1m41 0h1m58 0h1m47 0h1m28 0h1m21 0h1m54 0h1m95 0h1m-353 1h1m41 0h1m58 0h1m47 0h1m29 0h1m21 0h1m53 0h1m95 0h1m-353 1h1m41 0h1m58 0h1m47 0h1m29 0h1m21 0h1m53 0h1m79 0h1m-337 1h1m41 0h1m58 0h1m47 0h1m29 0h1m21 0h1m53 0h1m59 0h1m19 0h1m-81 1h1m58 0h1m19 0h1m-81 1h1m59 0h1m19 0h1m-105 1h1m22 0h1m59 0h1m19 0h1m-105 1h1m57 0h1m24 0h1m19 0h1m-104 1h1m56 0h1m24 0h1m19 0h1m-104 1h1m57 0h1m24 0h1m35 0h1m-121 1h1m57 0h1m61 0h1m-355 1h1m41 0h1m58 0h1m48 0h1m29 0h1m21 0h1m30 0h1m57 0h1m61 0h1m-355 1h1m41 0h1m58 0h1m48 0h1m29 0h1m21 0h1m31 0h1m57 0h1m60 0h1m-354 1h1m40 0h1m58 0h1m48 0h1m29 0h1m21 0h1m89 0h1m61 0h1m-355 1h1m41 0h1m58 0h1m47 0h1m29 0h1m21 0h1m54 0h1m96 0h1m-355 1h1m41 0h1m58 0h1m48 0h1m29 0h1m21 0h1m53 0h1m96 0h1m-355 1h1m41 0h1m58 0h1m48 0h1m29 0h1m21 0h1m54 0h1m79 0h1m-339 1h1m41 0h1m58 0h1m48 0h1m29 0h1m21 0h1m54 0h1m59 0h1m19 0h1m36 0h1m-119 1h1m59 0h1m19 0h1m36 0h1m-142 1h1m22 0h1m59 0h1m20 0h1m36 0h1m-142 1h1m57 0h1m24 0h1m19 0h1m36 0h1m-142 1h1m57 0h1m24 0h1m19 0h1m36 0h1m-142 1h1m57 0h1m24 0h1m36 0h1m20 0h1m-143 1h1m57 0h1m62 0h1m19 0h1m-377 1h1m41 0h1m58 0h1m48 0h1m29 0h1m21 0h1m31 0h1m58 0h1m61 0h1m-357 1h1m41 0h1m58 0h1m48 0h1m29 0h1m22 0h1m31 0h1m57 0h1m61 0h1m-357 1h1m41 0h1m58 0h1m48 0h1m29 0h1m22 0h1m89 0h1m62 0h1m-358 1h1m41 0h1m59 0h1m48 0h1m29 0h1m21 0h1m54 0h1m97 0h1m-358 1h1m41 0h1m59 0h1m48 0h1m29 0h1m21 0h1m55 0h1m96 0h1m-358 1h1m41 0h1m59 0h1m48 0h1m29 0h1m21 0h1m55 0h1m79 0h1m-341 1h1m42 0h1m58 0h1m48 0h1m29 0h1m22 0h1m54 0h1m59 0h1m20 0h1m-83 1h1m59 0h1m20 0h1m37 0h1m-120 1h1m59 0h1m19 0h1m37 0h1m-144 1h1m23 0h1m59 0h1m20 0h1m36 0h1m-143 1h1m57 0h1m24 0h1m20 0h1m37 0h1m-144 1h1m57 0h1m24 0h1m20 0h1m37 0h1m-144 1h1m58 0h1m24 0h1m37 0h1m19 0h1m-144 1h1m58 0h1m62 0h1m20 0h1m-381 1h1m42 0h1m58 0h1m48 0h1m29 0h1m22 0h1m31 0h1m58 0h1m62 0h1m-360 1h1m42 0h1m59 0h1m48 0h1m29 0h1m22 0h1m31 0h1m57 0h1m62 0h1m-360 1h1m42 0h1m59 0h1m48 0h1m29 0h1m22 0h1m90 0h1m62 0h1m-361 1h1m42 0h1m59 0h1m48 0h1m29 0h1m22 0h1m55 0h1m97 0h1m-361 1h1m42 0h1m59 0h1m48 0h1m29 0h1m22 0h1m55 0h1m80 0h1m-344 1h1m42 0h1m59 0h1m48 0h1m30 0h1m21 0h1m56 0h1m59 0h1m20 0h1m-83 1h1m59 0h1m20 0h1m37 0h1m-121 1h1m59 0h1m20 0h1m37 0h1m-145 1h1m23 0h1m60 0h1m20 0h1m37 0h1m-145 1h1m58 0h1m24 0h1m20 0h1m37 0h1m-145 1h1m58 0h1m24 0h1m20 0h1m38 0h1m-146 1h1m58 0h1m25 0h1m37 0h1m20 0h1m-146 1h1m58 0h1m63 0h1m20 0h1m-384 1h1m42 0h1m60 0h1m48 0h1m30 0h1m21 0h1m32 0h1m58 0h1m62 0h1m-363 1h1m42 0h1m60 0h1m48 0h1m30 0h1m21 0h1m32 0h1m58 0h1m62 0h1m-362 1h1m42 0h1m59 0h1m49 0h1m29 0h1m22 0h1m90 0h1m63 0h1m-363 1h1m42 0h1m59 0h1m49 0h1m30 0h1m21 0h1m56 0h1m97 0h1m-363 1h1m42 0h1m60 0h1m48 0h1m30 0h1m21 0h1m56 0h1m97 0h1m-363 1h1m42 0h1m60 0h1m48 0h1m30 0h1m21 0h1m56 0h1m81 0h1m-347 1h1m42 0h1m60 0h1m49 0h1m29 0h1m22 0h1m55 0h1m60 0h1m20 0h1m-83 1h1m59 0h1m20 0h1m38 0h1m27 0h1m-150 1h1m60 0h1m20 0h1m38 0h1m27 0h1m-175 1h1m23 0h1m60 0h1m20 0h1m38 0h1m27 0h1m-175 1h1m58 0h1m25 0h1m20 0h1m38 0h1m27 0h1m-174 1h1m58 0h1m25 0h1m20 0h1m38 0h1m-147 1h1m58 0h1m25 0h1m37 0h1m21 0h1m-387 1h1m42 0h1m60 0h1m49 0h1m30 0h1m21 0h1m32 0h1m58 0h1m63 0h1m-365 1h1m42 0h1m60 0h1m49 0h1m30 0h1m21 0h1m33 0h1m58 0h1m63 0h1m-366 1h1m42 0h1m60 0h1m50 0h1m30 0h1m21 0h1m91 0h1m63 0h1m-365 1h1m42 0h1m60 0h1m49 0h1m30 0h1m21 0h1m56 0h1m98 0h1m-365 1h1m42 0h1m60 0h1m49 0h1m30 0h1m21 0h1m56 0h1m99 0h1m49 0h1m-416 1h1m42 0h1m60 0h1m49 0h1m30 0h1m21 0h1m57 0h1m81 0h1m66 0h1m-416 1h1m42 0h1m60 0h1m49 0h1m30 0h1m21 0h1m57 0h1m60 0h1m20 0h1m67 0h1m-152 1h1m61 0h1m20 0h1m38 0h1m27 0h1m-152 1h1m61 0h1m20 0h1m38 0h1m27 0h1m-175 1h1m23 0h1m60 0h1m20 0h1m38 0h1m28 0h1m-176 1h1m58 0h1m25 0h1m20 0h1m38 0h1m28 0h1m-176 1h1m59 0h1m25 0h1m20 0h1m38 0h1m-148 1h1m59 0h1m25 0h1m37 0h1m21 0h1m-147 1h1m58 0h1m63 0h1m21 0h1m-389 1h1m42 0h1m60 0h1m50 0h1m30 0h1m21 0h1m33 0h1m59 0h1m63 0h1m-367 1h1m42 0h1m60 0h1m49 0h1m30 0h1m21 0h1m33 0h1m59 0h1m63 0h1m-367 1h1m42 0h1m60 0h1m50 0h1m30 0h1m21 0h1m92 0h1m63 0h1m-367 1h1m42 0h1m60 0h1m50 0h1m30 0h1m21 0h1m57 0h1m99 0h1m-368 1h1m42 0h1m60 0h1m50 0h1m30 0h1m21 0h1m57 0h1m82 0h1m16 0h1m50 0h1m-419 1h1m42 0h1m60 0h1m50 0h1m30 0h1m21 0h1m57 0h1m61 0h1m20 0h1m67 0h1m-153 1h1m62 0h1m20 0h1m38 0h1m28 0h1m-153 1h1m61 0h1m20 0h1m38 0h1m28 0h1m-177 1h1m23 0h1m61 0h1m20 0h1m38 0h1m28 0h1m-177 1h1m59 0h1m25 0h1m20 0h1m39 0h1m28 0h1m-178 1h1m59 0h1m26 0h1m20 0h1m38 0h1m-148 1h1m59 0h1m25 0h1m37 0h1m21 0h1m-148 1h1m59 0h1m64 0h1m21 0h1m-392 1h1m42 0h1m61 0h1m50 0h1m30 0h1m21 0h1m33 0h1m59 0h1m64 0h1m-370 1h1m42 0h1m61 0h1m50 0h1m30 0h1m21 0h1m33 0h1m59 0h1m65 0h1m-371 1h1m42 0h1m61 0h1m50 0h1m30 0h1m22 0h1m93 0h1m64 0h1m-371 1h1m42 0h1m61 0h1m50 0h1m30 0h1m22 0h1m57 0h1m100 0h1m73 0h1m-445 1h1m43 0h1m60 0h1m50 0h1m30 0h1m22 0h1m57 0h1m101 0h1m50 0h1m21 0h1m-445 1h1m43 0h1m60 0h1m50 0h1m30 0h1m22 0h1m57 0h1m83 0h1m68 0h1m22 0h1m-446 1h1m43 0h1m61 0h1m50 0h1m30 0h1m22 0h1m57 0h1m61 0h1m20 0h1m68 0h1m22 0h1m-177 1h1m62 0h1m20 0h1m39 0h1m28 0h1m-179 1h1m23 0h1m62 0h1m20 0h1m39 0h1m28 0h1m-179 1h1m59 0h1m26 0h1m20 0h1m39 0h1m28 0h1m-179 1h1m60 0h1m26 0h1m20 0h1m39 0h1m-150 1h1m59 0h1m26 0h1m38 0h1m21 0h1m-150 1h1m59 0h1m65 0h1m21 0h1m-395 1h1m43 0h1m61 0h1m50 0h1m30 0h1m22 0h1m33 0h1m60 0h1m65 0h1m73 0h1m-448 1h1m43 0h1m61 0h1m50 0h1m30 0h1m22 0h1m33 0h1m60 0h1m65 0h1m73 0h1m-448 1h1m43 0h1m61 0h1m50 0h1m31 0h1m22 0h1m93 0h1m65 0h1m74 0h1m-449 1h1m43 0h1m61 0h1m50 0h1m31 0h1m22 0h1m57 0h1m101 0h1m74 0h1m-448 1h1m42 0h1m62 0h1m50 0h1m30 0h1m22 0h1m58 0h1m101 0h1m50 0h1m22 0h1m-448 1h1m42 0h1m62 0h1m50 0h1m30 0h1m22 0h1m58 0h1m83 0h1m69 0h1m22 0h1m-449 1h1m42 0h1m62 0h1m50 0h1m31 0h1m22 0h1m57 0h1m62 0h1m20 0h1m69 0h1m22 0h1m-178 1h1m62 0h1m20 0h1m39 0h1m28 0h1m-155 1h1m62 0h1m20 0h1m39 0h1m29 0h1m-181 1h1m24 0h1m62 0h1m20 0h1m39 0h1m29 0h1m-180 1h1m60 0h1m26 0h1m20 0h1m39 0h1m29 0h1m-181 1h1m60 0h1m26 0h1m20 0h1m17 0h1m21 0h1m-151 1h1m60 0h1m65 0h1m21 0h1m-397 1h1m42 0h1m62 0h1m51 0h1m31 0h1m22 0h1m33 0h1m60 0h1m65 0h1m74 0h1m-451 1h1m43 0h1m62 0h1m50 0h1m31 0h1m22 0h1m33 0h1m60 0h1m65 0h1m74 0h1m-450 1h1m42 0h1m62 0h1m50 0h1m31 0h1m22 0h1m94 0h1m66 0h1m74 0h1m-451 1h1m42 0h1m62 0h1m50 0h1m31 0h1m22 0h1m58 0h1m102 0h1m74 0h1m-451 1h1m42 0h1m62 0h1m51 0h1m31 0h1m22 0h1m58 0h1m101 0h1m51 0h1m22 0h1m-451 1h1m42 0h1m62 0h1m51 0h1m31 0h1m22 0h1m58 0h1m84 0h1m69 0h1m22 0h1m-452 1h1m43 0h1m62 0h1m50 0h1m31 0h1m22 0h1m58 0h1m63 0h1m20 0h1m69 0h1m22 0h1m-180 1h1m63 0h1m21 0h1m39 0h1m29 0h1m-157 1h1m62 0h1m21 0h1m39 0h1m29 0h1m-182 1h1m24 0h1m63 0h1m20 0h1m39 0h1m29 0h1m-182 1h1m61 0h1m26 0h1m21 0h1m39 0h1m29 0h1m-183 1h1m61 0h1m26 0h1m21 0h1m39 0h1m-152 1h1m61 0h1m26 0h1m39 0h1m21 0h1m-401 1h1m43 0h1m62 0h1m51 0h1m31 0h1m22 0h1m33 0h1m61 0h1m66 0h1m21 0h1m52 0h1m19 0h1m-474 1h1m43 0h1m62 0h1m51 0h1m31 0h1m22 0h1m33 0h1m61 0h1m66 0h1m74 0h1m19 0h1m-474 1h1m43 0h1m62 0h1m51 0h1m31 0h1m22 0h1m96 0h1m66 0h1m74 0h1m19 0h1m-475 1h1m43 0h1m62 0h1m51 0h1m31 0h1m23 0h1m58 0h1m103 0h1m74 0h1m19 0h1m-475 1h1m44 0h1m62 0h1m51 0h1m31 0h1m22 0h1m58 0h1m103 0h1m51 0h1m23 0h1m19 0h1m-476 1h1m44 0h1m62 0h1m51 0h1m31 0h1m22 0h1m59 0h1m85 0h1m69 0h1m22 0h1m19 0h1m-476 1h1m44 0h1m62 0h1m51 0h1m31 0h1m22 0h1m59 0h1m63 0h1m21 0h1m69 0h1m22 0h1m19 0h1m-201 1h1m63 0h1m21 0h1m40 0h1m28 0h1m-158 1h1m63 0h1m21 0h1m40 0h1m28 0h1m-183 1h1m25 0h1m63 0h1m21 0h1m39 0h1m29 0h1m-184 1h1m62 0h1m26 0h1m21 0h1m40 0h1m28 0h1m-183 1h1m61 0h1m26 0h1m21 0h1m40 0h1m-154 1h1m62 0h1m26 0h1m39 0h1m22 0h1m-405 1h1m44 0h1m62 0h1m51 0h1m31 0h1m23 0h1m33 0h1m62 0h1m66 0h1m22 0h1m52 0h1m19 0h1m-478 1h1m44 0h1m62 0h1m51 0h1m31 0h1m23 0h1m33 0h1m62 0h1m66 0h1m75 0h1m19 0h1m-478 1h1m44 0h1m62 0h1m51 0h1m32 0h1m22 0h1m97 0h1m66 0h1m75 0h1m19 0h1m-479 1h1m44 0h1m63 0h1m51 0h1m31 0h1m23 0h1m59 0h1m103 0h1m75 0h1m19 0h1m-478 1h1m44 0h1m62 0h1m51 0h1m31 0h1m23 0h1m59 0h1m104 0h1m51 0h1m23 0h1m19 0h1m-479 1h1m44 0h1m62 0h1m51 0h1m32 0h1m22 0h1m60 0h1m85 0h1m69 0h1m23 0h1m19 0h1m-479 1h1m44 0h1m62 0h1m51 0h1m32 0h1m22 0h1m60 0h1m63 0h1m21 0h1m70 0h1m23 0h1m19 0h1m-203 1h1m64 0h1m20 0h1m41 0h1m28 0h1m-159 1h1m64 0h1m20 0h1m41 0h1m29 0h1m-185 1h1m25 0h1m63 0h1m21 0h1m40 0h1m29 0h1m-185 1h1m62 0h1m27 0h1m20 0h1m41 0h1m29 0h1m-186 1h1m62 0h1m27 0h1m20 0h1m41 0h1m-155 1h1m62 0h1m27 0h1m39 0h1m22 0h1m-408 1h1m44 0h1m63 0h1m51 0h1m32 0h1m22 0h1m34 0h1m62 0h1m67 0h1m22 0h1m53 0h1m19 0h1m-482 1h1m44 0h1m63 0h1m51 0h1m32 0h1m22 0h1m34 0h1m62 0h1m67 0h1m76 0h1m19 0h1m-482 1h1m44 0h1m63 0h1m51 0h1m32 0h1m23 0h1m97 0h1m67 0h1m76 0h1m19 0h1m-483 1h1m44 0h1m64 0h1m51 0h1m32 0h1m22 0h1m60 0h1m104 0h1m76 0h1m19 0h1m-483 1h1m44 0h1m64 0h1m51 0h1m32 0h1m22 0h1m60 0h1m104 0h1m52 0h1m23 0h1m19 0h1m-483 1h1m44 0h1m64 0h1m51 0h1m32 0h1m22 0h1m60 0h1m86 0h1m71 0h1m23 0h1m19 0h1m-483 1h1m44 0h1m63 0h1m51 0h1m32 0h1m23 0h1m59 0h1m65 0h1m20 0h1m71 0h1m23 0h1m19 0h1m-205 1h1m65 0h1m21 0h1m40 0h1m30 0h1m-162 1h1m65 0h1m21 0h1m40 0h1m30 0h1m-187 1h1m25 0h1m64 0h1m21 0h1m40 0h1m30 0h1m-186 1h1m62 0h1m27 0h1m21 0h1m40 0h1m30 0h1m-187 1h1m62 0h1m27 0h1m21 0h1m17 0h1m22 0h1m-156 1h1m62 0h1m67 0h1m22 0h1m-410 1h1m44 0h1m64 0h1m52 0h1m31 0h1m23 0h1m35 0h1m62 0h1m67 0h1m77 0h1m19 0h1m-485 1h1m44 0h1m64 0h1m51 0h1m32 0h1m23 0h1m34 0h1m62 0h1m67 0h1m77 0h1m19 0h1m-485 1h1m44 0h1m64 0h1m51 0h1m32 0h1m23 0h1m97 0h1m68 0h1m77 0h1m19 0h1m-486 1h1m44 0h1m64 0h1m52 0h1m31 0h1m23 0h1m60 0h1m105 0h1m77 0h1m19 0h1m-486 1h1m44 0h1m64 0h1m52 0h1m31 0h1m23 0h1m60 0h1m105 0h1m53 0h1m23 0h1m20 0h1m-486 1h1m44 0h1m64 0h1m51 0h1m32 0h1m23 0h1m60 0h1m87 0h1m71 0h1m23 0h1m19 0h1m-486 1h1m44 0h1m64 0h1m52 0h1m31 0h1m23 0h1m60 0h1m65 0h1m21 0h1m71 0h1m23 0h1m20 0h1m-206 1h1m64 0h1m22 0h1m40 0h1m30 0h1m-162 1h1m64 0h1m22 0h1m40 0h1m30 0h1m-187 1h1m25 0h1m64 0h1m22 0h1m40 0h1m30 0h1m-188 1h1m62 0h1m27 0h1m22 0h1m40 0h1m30 0h1m-188 1h1m62 0h1m27 0h1m40 0h1m22 0h1m-157 1h1m63 0h1m68 0h1m22 0h1m-413 1h1m44 0h1m64 0h1m53 0h1m31 0h1m23 0h1m35 0h1m62 0h1m68 0h1m77 0h1m20 0h1m31 0h1m-521 1h1m44 0h1m64 0h1m53 0h1m31 0h1m23 0h1m35 0h1m62 0h1m69 0h1m77 0h1m20 0h1m31 0h1m-522 1h1m44 0h1m64 0h1m53 0h1m31 0h1m23 0h1m98 0h1m69 0h1m77 0h1m20 0h1m31 0h1m-521 1h1m44 0h1m64 0h1m52 0h1m31 0h1m24 0h1m60 0h1m106 0h1m77 0h1m20 0h1m31 0h1m-521 1h1m44 0h1m64 0h1m52 0h1m31 0h1m24 0h1m60 0h1m107 0h1m53 0h1m23 0h1m20 0h1m31 0h1m-522 1h1m44 0h1m64 0h1m53 0h1m31 0h1m23 0h1m61 0h1m87 0h1m72 0h1m23 0h1m20 0h1m31 0h1m-522 1h1m44 0h1m64 0h1m53 0h1m31 0h1m24 0h1m60 0h1m66 0h1m21 0h1m72 0h1m23 0h1m20 0h1m31 0h1m-241 1h1m66 0h1m21 0h1m41 0h1m30 0h1m-190 1h1m25 0h1m66 0h1m21 0h1m41 0h1m30 0h1m-189 1h1m63 0h1m28 0h1m21 0h1m41 0h1m30 0h1m-190 1h1m63 0h1m28 0h1m21 0h1m41 0h1m-159 1h1m64 0h1m27 0h1m40 0h1m23 0h1m-160 1h1m64 0h1m68 0h1m23 0h1m-416 1h1m44 0h1m64 0h1m53 0h1m32 0h1m23 0h1m35 0h1m63 0h1m69 0h1m78 0h1m19 0h1m32 0h1m-525 1h1m44 0h1m64 0h1m53 0h1m32 0h1m23 0h1m35 0h1m64 0h1m68 0h1m78 0h1m20 0h1m31 0h1m-525 1h1m45 0h1m64 0h1m53 0h1m31 0h1m24 0h1m99 0h1m68 0h1m79 0h1m19 0h1m32 0h1m-526 1h1m45 0h1m64 0h1m53 0h1m32 0h1m23 0h1m61 0h1m107 0h1m78 0h1m20 0h1m31 0h1m-526 1h1m45 0h1m64 0h1m53 0h1m32 0h1m23 0h1m61 0h1m89 0h1m17 0h1m54 0h1m24 0h1m19 0h1m32 0h1m-527 1h1m45 0h1m64 0h1m53 0h1m32 0h1m23 0h1m61 0h1m66 0h1m22 0h1m72 0h1m24 0h1m19 0h1m32 0h1m-242 1h1m66 0h1m22 0h1m41 0h1m30 0h1m-165 1h1m66 0h1m22 0h1m41 0h1m30 0h1m-191 1h1m25 0h1m66 0h1m22 0h1m41 0h1m31 0h1m-192 1h1m65 0h1m27 0h1m22 0h1m41 0h1m30 0h1m-192 1h1m65 0h1m27 0h1m22 0h1m41 0h1m-160 1h1m64 0h1m27 0h1m41 0h1m22 0h1m-160 1h1m65 0h1m69 0h1m22 0h1m-420 1h1m45 0h1m65 0h1m53 0h1m32 0h1m24 0h1m34 0h1m65 0h1m69 0h1m78 0h1m20 0h1m32 0h1m-530 1h1m45 0h1m65 0h1m53 0h1m32 0h1m24 0h1m100 0h1m69 0h1m78 0h1m20 0h1m32 0h1m-530 1h1m45 0h1m65 0h1m53 0h1m32 0h1m24 0h1m62 0h1m108 0h1m78 0h1m20 0h1m32 0h1m-530 1h1m45 0h1m65 0h1m53 0h1m32 0h1m24 0h1m61 0h1m108 0h1m54 0h1m23 0h1m20 0h1m32 0h1m-530 1h1m45 0h1m65 0h1m53 0h1m32 0h1m24 0h1m61 0h1m89 0h1m73 0h1m24 0h1m20 0h1m32 0h1m-531 1h1m45 0h1m65 0h1m53 0h1m32 0h1m24 0h1m62 0h1m66 0h1m22 0h1m73 0h1m23 0h1m20 0h1m32 0h1m-244 1h1m66 0h1m22 0h1m42 0h1m30 0h1m-166 1h1m66 0h1m22 0h1m42 0h1m30 0h1m-192 1h1m26 0h1m66 0h1m22 0h1m42 0h1m30 0h1m-193 1h1m65 0h1m27 0h1m22 0h1m42 0h1m30 0h1" stroke="#540a8c" stroke-width="1" fill="none" transform="translate(0,0.5)"/>
<path d="M602 486 H602.6 v1 H602 zM596.8 483 H602.3 v1 H596.8 zM591.6 480 H602 v1 H591.6 zM588.7 477 H601.7 v1 H588.7 zM585.8 474 H601.4 v1 H585.8 zM582.8 471 H601 v1 H582.8 zM579.8 468 H600.7 v1 H579.8 zM576.7 464 H600.3 v1 H576.7 zM576.3 461 H599.8 v1 H576.3 zM575.9 458 H599.4 v1 H575.9 zM575.4 454 H598.9 v1 H575.4 zM575 451 H598.3 v1 H575 zM574.6 447 H597.6 v1 H574.6 zM574.1 444 H596.8 v1 H574.1 zM573.6 440 H596 v1 H573.6 zM573.2 437 H595.2 v1 H573.2 zM572.7 433 H594.3 v1 H572.7 zM572.2 429 H593.6 v1 H572.2 zM571.6 425 H592.9 v1 H571.6 zM571 421 H592.3 v1 H571 zM570.3 417 H591.8 v1 H570.3 zM569.7 412 H591.2 v1 H569.7 zM569 408 H590.6 v1 H569 zM568.4 404 H589.9 v1 H568.4 zM567.2 399 H588.9 v1 H567.2 zM565.1 394 H587.8 v1 H565.1 zM562.9 390 H586.4 v1 H562.9 zM560.7 385 H584.8 v1 H560.7 zM558.4 380 H583.1 v1 H558.4 zM556 375 H581.2 v1 H556 zM553.6 369 H579.2 v1 H553.6 zM549.4 364 H577.1 v1 H549.4 zM544.4 358 H574.9 v1 H544.4 zM539.2 352 H572.5 v1 H539.2 zM533.9 346 H570 v1 H533.9 zM528.3 340 H567.1 v1 H528.3 zM522.6 333 H563.9 v1 H522.6 zM516.7 327 H560.2 v1 H516.7 zM510.5 320 H555.6 v1 H510.5 zM504.1 312 H550 v1 H504.1 zM497.4 305 H543.9 v1 H497.4 zM490.5 297 H538 v1 H490.5 zM483.2 289 H532.5 v1 H483.2 zM475.6 280 H526.6 v1 H475.6 zM467.8 271 H519.6 v1 H467.8 zM459.8 261 H511 v1 H459.8 zM451.4 251 H501.2 v1 H451.4 zM442.7 241 H490.7 v1 H442.7 zM436.6 229 H479.4 v1 H436.6 zM430.2 217 H467.1 v1 H430.2 zM423.4 204 H453.6 v1 H423.4 zM419 190 H438.4 v1 H419 z" fill="#540a8c"/>
<path d="M333 73.5L338.3 80L343.2 86L348.2 92L353.2 98L358.3 104L363.4 110L368.6 116L373.9 122L379.2 128L384.5 134L389.9 140L395.3 146L400.7 152L406.2 158L411.8 164L418.1 170.5L417.1 170.5L410.8 164L405.2 158L399.7 152L394.3 146L388.9 140L383.5 134L378.2 128L372.9 122L367.6 116L362.4 110L357.3 104L352.2 98L347.2 92L342.2 86L337.3 80L332 73.5zM416.7 169L423.3 175.5L429.5 181.5L435.9 187.5L442.5 193.5L449.2 199.5L455.5 205.5L461.8 211.5L468 217.5L474.2 223.5L480.7 230L480.7 231L474.2 224.5L468 218.5L461.8 212.5L455.5 206.5L449.2 200.5L442.5 194.5L435.9 188.5L429.5 182.5L423.3 176.5L416.7 170zM480.2 229.5L486.7 236L492.6 242L498.5 248L504.5 254L510.3 260L515.9 266L521.1 272L525.8 278L530 284L533.9 290L537.9 296L542.3 302L547 308L551.9 314L556.5 320L560.4 326L563.7 332L566.8 338L569.6 344L572.2 350L574.6 356L577 362L579.2 368L581.5 374L583.7 380L585.7 386L587.6 392L589.2 398L590.4 404L591.4 410L592.2 416L593 422L593.9 428L595.1 434L596.5 440L597.8 446L599 452L599.9 458L600.7 464L601.5 470L602.1 476L602.8 482L603.3 488.2L602.3 488.2L601.8 482L601.1 476L600.5 470L599.7 464L598.9 458L598 452L596.8 446L595.5 440L594.1 434L592.9 428L592 422L591.2 416L590.4 410L589.4 404L588.2 398L586.6 392L584.7 386L582.7 380L580.5 374L578.2 368L576 362L573.6 356L571.2 350L568.6 344L565.8 338L562.7 332L559.4 326L555.5 320L550.9 314L546 308L541.3 302L536.9 296L532.9 290L529 284L524.8 278L520.1 272L514.9 266L509.3 260L503.5 254L497.5 248L491.6 242L485.7 236L479.2 229.5zM602.3 487L621.5 495.9L621.5 496.9L602.3 488zM333 74.5L338.3 81L343.2 87L348.2 93L353.2 99L358.3 105L363.4 111L368.6 117L373.9 123L379.2 129L384.5 135L389.9 141L395.3 147L400.7 153L406.2 159L411.8 165L418.1 171.5L417.1 171.5L410.8 165L405.2 159L399.7 153L394.3 147L388.9 141L383.5 135L378.2 129L372.9 123L367.6 117L362.4 111L357.3 105L352.2 99L347.2 93L342.2 87L337.3 81L332 74.5zM416.7 170L423.3 176.5L429.5 182.5L435.9 188.5L442.5 194.5L449.2 200.5L455.5 206.5L461.8 212.5L468 218.5L474.2 224.5L480.7 231L480.7 232L474.2 225.5L468 219.5L461.8 213.5L455.5 207.5L449.2 201.5L442.5 195.5L435.9 189.5L429.5 183.5L423.3 177.5L416.7 171zM480.2 230.5L486.7 237L492.6 243L498.5 249L504.5 255L510.3 261L515.9 267L521.1 273L525.8 279L530 285L533.9 291L537.9 297L542.3 303L547 309L551.9 315L556.5 321L560.4 327L563.7 333L566.8 339L569.6 345L572.2 351L574.6 357L577 363L579.2 369L581.5 375L583.7 381L585.7 387L587.6 393L589.2 399L590.4 405L591.4 411L592.2 417L593 423L593.9 429L595.1 435L596.5 441L597.8 447L599 453L599.9 459L600.7 465L601.5 471L602.1 477L602.8 483L603.3 489.2L602.3 489.2L601.8 483L601.1 477L600.5 471L599.7 465L598.9 459L598 453L596.8 447L595.5 441L594.1 435L592.9 429L592 423L591.2 417L590.4 411L589.4 405L588.2 399L586.6 393L584.7 387L582.7 381L580.5 375L578.2 369L576 363L573.6 357L571.2 351L568.6 345L565.8 339L562.7 333L559.4 327L555.5 321L550.9 315L546 309L541.3 303L536.9 297L532.9 291L529 285L524.8 279L520.1 273L514.9 267L509.3 261L503.5 255L497.5 249L491.6 243L485.7 237L479.2 230.5zM602.3 488L621.5 496.9L621.5 497.9L602.3 489z" fill="#540a8c"/>
<path d="M368.7 73.5L364.5 148.2L383.5 200.5L413.8 241L437.4 274.5L435.2 326.8L409.4 367.7L423.6 401.2L422.6 401.2L408.4 367.7L434.2 326.8L436.4 274.5L412.8 241L382.5 200.5L363.5 148.2L367.7 73.5zM422.4 400L479.8 428.5L545.8 463.8L583.7 480L600 496.2L600 497.2L583.7 481L545.8 464.8L479.8 429.5L422.4 401zM368.7 74.5L364.5 149.2L383.5 201.5L413.8 242L437.4 275.5L435.2 327.8L409.4 368.7L423.6 402.2L422.6 402.2L408.4 368.7L434.2 327.8L436.4 275.5L412.8 242L382.5 201.5L363.5 149.2L367.7 74.5zM422.4 401L479.8 429.5L545.8 464.8L583.7 481L600 497.2L600 498.2L583.7 482L545.8 465.8L479.8 430.5L422.4 402zM367 75h2v2h-2zM363 148h2v2h-2zM382 200h2v2h-2zM412 241h2v2h-2zM435 274h2v2h-2zM433 326h2v2h-2zM407 367h2v2h-2zM421 400h2v2h-2zM478 429h2v2h-2zM544 464h2v2h-2zM582 480h2v2h-2zM598 496h2v2h-2z" fill="#0000ff"/>
<path d="M583.2 479L600 495.7L600 496.7L583.2 480zM583.2 480L600 496.7L600 497.7L583.2 481zM583.2 481L600 497.7L600 498.7L583.2 482z" fill="#0000ff"/>
<path d="M433.7 73.5L409.5 148L421.9 200.5L443.4 241L471.3 274.5L517.4 326.8L553.4 367.7L568.4 400.7L572.7 429L577.2 464.3L592.6 480.3L591.6 480.3L576.2 464.3L571.7 429L567.4 400.7L552.4 367.7L516.4 326.8L470.3 274.5L442.4 241L420.9 200.5L408.5 148L432.7 73.5zM591.1 479L618.3 494.2L618.3 495.2L591.1 480zM433.7 74.5L409.5 149L421.9 201.5L443.4 242L471.3 275.5L517.4 327.8L553.4 368.7L568.4 401.7L572.7 430L577.2 465.3L592.6 481.3L591.6 481.3L576.2 465.3L571.7 430L567.4 401.7L552.4 368.7L516.4 327.8L470.3 275.5L442.4 242L420.9 201.5L408.5 149L432.7 74.5zM591.1 480L618.3 495.2L618.3 496.2L591.1 481zM432 75h2v2h-2zM408 147h2v2h-2zM420 200h2v2h-2zM441 241h2v2h-2zM469 274h2v2h-2zM515 326h2v2h-2zM551 367h2v2h-2zM566 400h2v2h-2zM571 429h2v2h-2zM575 464h2v2h-2zM590 479h2v2h-2zM616 494h2v2h-2z" fill="#ff0000"/>
<path d="M591.1 478.5L618.3 493.7L618.3 494.7L591.1 479.5zM591.1 479.5L618.3 494.7L618.3 495.7L591.1 480.5zM591.1 480.5L618.3 495.7L618.3 496.7L591.1 481.5z" fill="#ff0000"/>
<path d="M372 38h1m110 0h1m35 0h1m92 0h1m93 0h1m-513 1h1m176 0h1m110 0h1m35 0h1m92 0h1m95 0h1m-619 1h1m6 0h1m3 0h7m4 0h6m12 0h6m4 0h1m26 0h8m10 0h6m4 0h2m62 0h5m5 0h5m8 0h1m6 0h5m19 0h5m5 0h4m19 0h5m4 0h8m9 0h1m7 0h1m10 0h1m14 0h1m6 0h5m10 0h5m5 0h6m9 0h5m4 0h8m12 0h1m5 0h1m17 0h1m12 0h1m3 0h1m39 0h1m6 0h6m9 0h5m4 0h8m10 0h1m6 0h1m7 0h5m9 0h1m10 0h6m4 0h6m17 0h1m23 0h1m-620 1h1m6 0h1m3 0h1m5 0h1m3 0h1m6 0h1m10 0h1m6 0h1m3 0h1m29 0h1m14 0h1m5 0h1m66 0h1m5 0h1m3 0h1m4 0h1m6 0h3m5 0h1m4 0h1m18 0h1m4 0h1m4 0h1m4 0h1m17 0h1m4 0h1m11 0h1m8 0h1m6 0h3m9 0h2m13 0h2m5 0h1m4 0h1m9 0h1m4 0h1m5 0h1m14 0h1m4 0h1m10 0h1m11 0h1m6 0h1m17 0h1m11 0h1m4 0h1m37 0h3m10 0h1m9 0h1m5 0h1m10 0h1m9 0h1m6 0h2m6 0h1m5 0h1m7 0h2m10 0h1m8 0h1m5 0h1m17 0h1m23 0h1m-621 1h1m1 0h1m5 0h1m3 0h1m6 0h1m2 0h1m17 0h1m10 0h1m29 0h1m14 0h1m5 0h1m66 0h1m5 0h1m3 0h1m5 0h1m4 0h1m2 0h1m5 0h1m5 0h1m17 0h1m5 0h1m2 0h1m5 0h1m17 0h1m5 0h1m9 0h1m9 0h1m5 0h1m2 0h1m9 0h2m13 0h2m5 0h1m5 0h1m8 0h1m5 0h1m4 0h1m13 0h1m5 0h1m9 0h1m12 0h1m6 0h1m17 0h1m11 0h1m4 0h1m36 0h1m2 0h1m9 0h1m10 0h1m5 0h1m9 0h1m10 0h1m5 0h1m1 0h1m6 0h1m12 0h1m1 0h1m10 0h1m8 0h1m5 0h1m17 0h1m24 0h1m-622 1h1m1 0h1m5 0h1m3 0h1m6 0h1m2 0h1m17 0h1m10 0h1m29 0h1m14 0h1m5 0h1m72 0h1m3 0h1m5 0h1m7 0h1m5 0h1m5 0h1m17 0h1m5 0h1m2 0h1m6 0h1m16 0h1m5 0h1m9 0h1m8 0h1m9 0h1m8 0h1m1 0h1m12 0h1m1 0h1m11 0h1m8 0h1m5 0h1m3 0h1m20 0h1m9 0h1m12 0h1m6 0h1m17 0h1m10 0h1m5 0h1m39 0h1m9 0h1m10 0h1m5 0h1m9 0h1m9 0h1m8 0h1m6 0h1m11 0h1m2 0h1m9 0h1m9 0h1m5 0h1m17 0h1m24 0h1m-622 1h1m1 0h1m5 0h1m3 0h1m5 0h1m3 0h2m16 0h2m9 0h1m4 0h1m3 0h5m3 0h1m3 0h1m3 0h1m4 0h1m14 0h1m6 0h1m2 0h1m4 0h6m4 0h5m3 0h1m1 0h4m2 0h6m3 0h6m1 0h4m18 0h1m3 0h1m6 0h1m6 0h1m5 0h1m6 0h1m15 0h1m6 0h1m2 0h1m6 0h1m16 0h1m6 0h1m7 0h1m9 0h1m9 0h1m7 0h1m2 0h1m5 0h2m4 0h1m2 0h1m10 0h1m4 0h2m2 0h1m7 0h1m2 0h6m15 0h1m8 0h1m13 0h1m6 0h1m8 0h6m2 0h4m8 0h1m5 0h1m9 0h4m4 0h1m1 0h4m16 0h1m8 0h3m9 0h1m5 0h1m8 0h1m10 0h1m8 0h1m6 0h1m2 0h2m7 0h1m2 0h1m9 0h6m5 0h3m1 0h2m13 0h5m4 0h5m4 0h6m6 0h1m-624 1h1m3 0h1m4 0h1m3 0h7m5 0h2m16 0h2m7 0h1m3 0h1m3 0h1m4 0h1m3 0h1m3 0h1m3 0h1m4 0h1m14 0h1m6 0h1m2 0h1m3 0h1m5 0h1m3 0h1m4 0h1m3 0h2m5 0h1m5 0h1m3 0h1m4 0h2m3 0h1m17 0h1m4 0h1m6 0h1m6 0h1m5 0h1m6 0h1m15 0h1m6 0h1m3 0h1m4 0h2m16 0h1m6 0h1m7 0h1m8 0h1m10 0h1m6 0h1m3 0h1m5 0h1m4 0h1m3 0h1m9 0h1m5 0h1m3 0h1m7 0h1m2 0h1m5 0h1m13 0h1m9 0h1m13 0h1m6 0h1m7 0h1m5 0h1m3 0h1m9 0h1m6 0h1m8 0h1m4 0h1m3 0h2m3 0h1m16 0h1m11 0h1m8 0h1m5 0h1m8 0h1m9 0h1m9 0h1m6 0h3m2 0h1m5 0h1m3 0h1m9 0h1m5 0h1m4 0h5m13 0h1m4 0h1m3 0h1m4 0h1m3 0h1m5 0h1m6 0h1m-624 1h1m3 0h1m4 0h1m3 0h1m3 0h1m9 0h3m15 0h3m4 0h1m2 0h1m4 0h1m5 0h1m3 0h1m1 0h1m1 0h1m1 0h1m5 0h1m14 0h1m6 0h1m2 0h1m3 0h1m5 0h1m2 0h1m5 0h1m3 0h1m6 0h1m5 0h1m3 0h1m4 0h1m5 0h1m16 0h1m4 0h1m6 0h1m6 0h1m5 0h1m6 0h1m2 0h11m2 0h1m6 0h1m4 0h1m2 0h1m1 0h1m3 0h10m3 0h1m6 0h1m6 0h1m8 0h1m11 0h1m6 0h1m3 0h1m10 0h1m3 0h1m9 0h1m9 0h1m7 0h1m8 0h1m13 0h1m8 0h1m14 0h1m6 0h1m7 0h1m5 0h1m3 0h1m8 0h1m7 0h1m7 0h1m5 0h1m3 0h1m5 0h1m15 0h1m11 0h1m9 0h2m2 0h2m7 0h1m9 0h1m10 0h1m6 0h1m5 0h1m3 0h1m4 0h1m15 0h1m3 0h1m5 0h1m11 0h1m5 0h1m3 0h1m5 0h1m2 0h1m5 0h1m6 0h1m-625 1h7m3 0h1m3 0h1m3 0h1m11 0h1m17 0h1m4 0h1m1 0h1m5 0h7m3 0h1m1 0h1m1 0h1m1 0h1m5 0h1m14 0h1m6 0h1m2 0h1m3 0h1m5 0h1m2 0h1m5 0h1m3 0h1m6 0h1m5 0h1m3 0h1m4 0h1m5 0h1m15 0h1m5 0h1m6 0h1m6 0h1m5 0h1m6 0h1m15 0h1m6 0h1m5 0h2m2 0h1m16 0h1m6 0h1m6 0h1m8 0h1m11 0h1m5 0h9m6 0h9m5 0h1m10 0h1m7 0h1m9 0h1m11 0h1m9 0h1m14 0h1m6 0h1m7 0h1m5 0h1m3 0h1m8 0h1m7 0h1m7 0h1m6 0h1m2 0h1m5 0h1m15 0h1m12 0h1m10 0h2m1 0h1m7 0h1m9 0h1m10 0h1m6 0h1m5 0h1m2 0h9m14 0h1m2 0h1m6 0h1m10 0h1m5 0h1m3 0h7m2 0h1m5 0h1m6 0h1m-625 1h1m5 0h1m3 0h1m3 0h1m4 0h1m11 0h1m17 0h1m3 0h2m1 0h1m4 0h1m9 0h1m1 0h1m1 0h1m1 0h1m5 0h1m14 0h1m5 0h1m3 0h1m3 0h1m5 0h1m2 0h1m5 0h1m3 0h1m6 0h1m5 0h1m3 0h1m4 0h1m5 0h1m14 0h1m6 0h1m5 0h1m7 0h1m5 0h1m5 0h1m17 0h1m5 0h1m8 0h1m17 0h1m5 0h1m6 0h1m8 0h1m12 0h1m10 0h1m14 0h1m7 0h1m12 0h1m5 0h1m10 0h1m10 0h1m9 0h1m15 0h1m6 0h1m7 0h1m5 0h1m3 0h1m7 0h1m8 0h1m7 0h1m6 0h1m2 0h1m5 0h1m15 0h1m12 0h1m13 0h1m6 0h1m9 0h1m11 0h1m6 0h1m5 0h1m8 0h1m16 0h1m2 0h1m6 0h1m10 0h1m5 0h1m3 0h1m8 0h1m5 0h1m6 0h1m-625 1h1m5 0h1m3 0h1m3 0h1m5 0h1m3 0h1m6 0h1m10 0h1m6 0h1m3 0h1m2 0h1m4 0h1m5 0h1m3 0h1m1 0h1m1 0h1m1 0h1m5 0h1m14 0h1m5 0h1m3 0h1m3 0h1m5 0h1m3 0h1m4 0h1m3 0h1m6 0h1m5 0h1m3 0h1m4 0h1m5 0h1m12 0h2m7 0h1m5 0h1m7 0h1m5 0h1m5 0h1m17 0h1m5 0h1m3 0h1m4 0h1m17 0h1m5 0h1m6 0h1m8 0h1m12 0h1m10 0h1m14 0h1m6 0h1m13 0h1m5 0h1m3 0h1m5 0h1m10 0h1m10 0h1m15 0h1m6 0h1m7 0h1m5 0h1m3 0h1m7 0h1m8 0h1m8 0h1m4 0h1m3 0h1m5 0h1m15 0h1m5 0h1m5 0h1m8 0h1m5 0h1m6 0h1m9 0h1m11 0h1m6 0h1m5 0h1m8 0h1m9 0h1m5 0h1m3 0h1m6 0h1m11 0h1m4 0h1m3 0h1m5 0h1m2 0h1m5 0h1m5 0h1m-625 1h1m7 0h1m2 0h1m3 0h1m5 0h1m4 0h1m4 0h1m12 0h1m4 0h1m4 0h1m3 0h1m4 0h1m3 0h1m5 0h1m3 0h1m6 0h1m14 0h1m4 0h1m4 0h1m4 0h1m3 0h2m4 0h1m2 0h2m3 0h1m7 0h1m3 0h2m3 0h1m4 0h1m5 0h1m11 0h1m10 0h2m2 0h1m8 0h1m6 0h2m2 0h1m19 0h1m3 0h1m4 0h2m2 0h1m19 0h2m2 0h1m6 0h1m8 0h1m13 0h1m10 0h1m5 0h2m7 0h1m5 0h1m9 0h2m4 0h2m2 0h1m4 0h2m3 0h1m4 0h2m4 0h1m10 0h1m16 0h1m6 0h1m8 0h1m3 0h2m4 0h1m5 0h1m9 0h1m9 0h1m2 0h1m4 0h1m5 0h1m15 0h1m5 0h2m3 0h1m4 0h2m4 0h1m3 0h1m6 0h1m9 0h1m12 0h1m7 0h2m2 0h1m9 0h1m4 0h2m3 0h2m3 0h1m4 0h2m4 0h1m13 0h1m2 0h2m4 0h1m3 0h1m4 0h1m3 0h2m5 0h1m-625 1h1m7 0h1m2 0h1m3 0h1m6 0h1m4 0h4m14 0h4m5 0h1m4 0h1m4 0h3m6 0h1m3 0h1m6 0h1m14 0h5m5 0h1m5 0h3m1 0h1m5 0h2m1 0h1m3 0h1m8 0h3m1 0h1m3 0h1m4 0h1m5 0h1m10 0h9m5 0h2m9 0h1m8 0h2m21 0h3m7 0h2m22 0h2m7 0h1m8 0h1m13 0h1m10 0h1m5 0h1m8 0h1m4 0h8m3 0h1m7 0h2m7 0h3m6 0h1m3 0h8m4 0h1m16 0h1m6 0h7m3 0h3m1 0h1m5 0h2m3 0h1m9 0h7m4 0h2m5 0h1m5 0h1m15 0h1m7 0h3m6 0h1m5 0h3m7 0h1m9 0h1m12 0h1m9 0h2m10 0h1m5 0h1m5 0h3m7 0h4m15 0h2m1 0h1m5 0h3m6 0h3m1 0h1m4 0h1m-496 1h1m150 0h1m116 0h1m29 0h1m92 0h1m98 0h1m4 0h1m-496 1h1m150 0h1m117 0h1m28 0h1m92 0h1m97 0h1m4 0h1m-499 1h4m150 0h1m119 0h1m26 0h1m92 0h1m94 0h5m3 0h1m-657 13h1m5 0h3m3 0h4m-17 1h2m4 0h1m3 0h1m2 0h1m3 0h1m-17 1h1m4 0h1m3 0h1m1 0h1m4 0h1m-17 1h1m4 0h1m3 0h1m1 0h1m4 0h1m-17 1h1m4 0h1m3 0h1m1 0h1m4 0h1m-17 1h1m4 0h1m3 0h1m1 0h1m4 0h1m-17 1h1m4 0h1m3 0h1m2 0h1m3 0h1m-17 1h1m5 0h3m3 0h4m634 1h7m1 0h6m10 0h1m5 0h5m4 0h4m-40 1h1m4 0h1m4 0h1m9 0h2m4 0h1m4 0h1m3 0h1m3 0h1m-40 1h1m4 0h1m5 0h1m7 0h1m1 0h1m4 0h1m5 0h1m2 0h1m4 0h1m-41 1h1m4 0h1m5 0h1m2 0h2m5 0h1m4 0h1m5 0h1m2 0h1m4 0h1m-41 1h1m4 0h1m4 0h1m3 0h1m6 0h1m4 0h1m5 0h1m2 0h1m4 0h1m-41 1h1m4 0h5m11 0h1m4 0h1m5 0h1m2 0h1m4 0h1m-41 1h1m4 0h1m15 0h1m4 0h1m5 0h1m2 0h1m4 0h1m-41 1h1m4 0h1m15 0h1m4 0h1m5 0h1m2 0h1m4 0h1m-41 1h1m4 0h1m8 0h1m6 0h1m4 0h1m4 0h1m3 0h1m3 0h1m-40 1h1m4 0h1m8 0h2m5 0h1m5 0h5m4 0h4m-1 5h1m-42 1h1m6 0h1m1 0h1m4 0h1m3 0h1m6 0h1m5 0h1m8 0h1m4 0h1m-46 1h1m6 0h1m1 0h1m4 0h1m3 0h1m6 0h2m4 0h1m8 0h1m4 0h1m-46 1h2m4 0h2m2 0h1m3 0h1m3 0h1m6 0h2m4 0h1m7 0h1m4 0h1m1 0h1m-47 1h2m4 0h2m2 0h1m2 0h1m1 0h1m1 0h1m7 0h1m1 0h1m3 0h1m7 0h1m4 0h1m1 0h1m-47 1h1m1 0h1m3 0h2m2 0h1m2 0h1m1 0h1m1 0h1m2 0h2m3 0h1m1 0h1m3 0h1m6 0h1m5 0h1m2 0h1m-48 1h1m1 0h1m2 0h1m1 0h1m2 0h1m2 0h1m1 0h1m1 0h1m7 0h1m2 0h1m2 0h1m6 0h1m4 0h1m3 0h1m-48 1h1m1 0h1m2 0h1m1 0h1m3 0h1m1 0h1m1 0h1m1 0h1m7 0h1m3 0h1m1 0h1m5 0h1m5 0h1m3 0h1m-48 1h1m2 0h1m1 0h1m1 0h1m3 0h1m1 0h1m1 0h1m1 0h1m7 0h1m3 0h1m1 0h1m4 0h1m6 0h6m-49 1h1m2 0h1m1 0h1m1 0h1m3 0h2m3 0h1m8 0h1m4 0h2m4 0h1m6 0h1m4 0h1m-49 1h1m3 0h1m2 0h1m4 0h1m3 0h1m3 0h2m3 0h1m4 0h2m3 0h1m6 0h1m6 0h1m-50 1h1m3 0h1m2 0h1m4 0h1m3 0h1m4 0h1m3 0h1m5 0h1m3 0h1m6 0h1m6 0h1m-16 1h1m-1 1h1m-2 1h1m-34 3h7m1 0h5m3 0h7m7 0h5m5 0h2m8 0h1m-51 1h1m7 0h1m4 0h1m7 0h1m8 0h1m8 0h1m2 0h2m5 0h2m-51 1h1m7 0h1m5 0h1m6 0h1m7 0h1m8 0h1m10 0h2m-51 1h1m7 0h1m5 0h1m5 0h1m5 0h1m2 0h1m1 0h3m4 0h1m9 0h1m1 0h1m-51 1h1m7 0h1m4 0h1m5 0h1m5 0h2m2 0h2m3 0h1m3 0h5m4 0h1m2 0h1m-51 1h5m3 0h5m6 0h1m14 0h1m3 0h1m4 0h1m3 0h1m2 0h1m-51 1h1m7 0h1m3 0h1m5 0h1m16 0h1m2 0h1m4 0h1m2 0h7m-53 1h1m7 0h1m3 0h1m4 0h1m17 0h1m2 0h1m4 0h1m6 0h1m-51 1h1m7 0h1m4 0h1m3 0h1m11 0h1m4 0h1m3 0h1m4 0h1m6 0h1m-51 1h1m7 0h1m5 0h1m1 0h7m2 0h2m2 0h6m4 0h4m7 0h1m-52 7h1m4 0h1m3 0h1m1 0h6m4 0h4m8 0h6m3 0h5m6 0h1m-54 1h1m4 0h1m3 0h1m1 0h1m5 0h1m2 0h1m3 0h1m8 0h1m7 0h1m4 0h1m4 0h3m-54 1h1m3 0h2m3 0h1m1 0h1m5 0h1m2 0h1m4 0h1m7 0h1m7 0h1m4 0h1m4 0h1m1 0h1m-53 1h1m2 0h1m1 0h1m1 0h1m2 0h1m5 0h1m2 0h1m4 0h1m3 0h1m3 0h5m3 0h1m4 0h1m6 0h1m-53 1h1m2 0h1m1 0h1m1 0h1m2 0h6m3 0h1m5 0h1m2 0h1m3 0h1m4 0h1m2 0h1m5 0h1m5 0h1m-53 1h1m1 0h1m2 0h1m1 0h1m2 0h1m4 0h2m2 0h1m5 0h1m11 0h1m2 0h1m5 0h1m5 0h1m-53 1h1m1 0h1m2 0h1m1 0h1m2 0h1m5 0h1m2 0h1m4 0h1m12 0h1m2 0h1m4 0h1m6 0h1m-52 1h2m3 0h1m3 0h1m5 0h1m2 0h1m4 0h1m6 0h1m5 0h1m2 0h1m4 0h1m6 0h1m-52 1h1m4 0h1m3 0h1m5 0h1m2 0h1m3 0h1m4 0h1m3 0h1m4 0h1m2 0h1m4 0h1m6 0h1m-52 1h1m4 0h1m3 0h6m4 0h4m4 0h1m3 0h5m4 0h5m6 0h1m-53 7h7m1 0h1m3 0h1m4 0h1m6 0h5m3 0h6m9 0h1m5 0h6m-59 1h1m5 0h1m1 0h1m3 0h1m4 0h1m9 0h1m8 0h1m8 0h3m5 0h1m4 0h1m-59 1h1m5 0h1m1 0h1m3 0h2m3 0h1m9 0h1m7 0h1m11 0h1m5 0h1m4 0h1m-59 1h1m5 0h1m2 0h1m1 0h1m1 0h1m2 0h1m2 0h2m5 0h2m6 0h3m10 0h1m5 0h3m1 0h2m-59 1h7m2 0h1m1 0h1m1 0h1m2 0h1m3 0h1m7 0h1m8 0h1m9 0h1m6 0h4m-58 1h1m8 0h1m1 0h1m2 0h1m1 0h1m12 0h1m7 0h1m9 0h1m5 0h1m4 0h1m-59 1h1m8 0h1m1 0h1m2 0h1m1 0h1m12 0h1m7 0h1m9 0h1m5 0h1m4 0h1m-59 1h1m9 0h1m3 0h2m7 0h1m4 0h1m2 0h1m5 0h1m9 0h1m5 0h1m4 0h1m-59 1h1m9 0h1m4 0h1m3 0h2m2 0h2m3 0h1m3 0h2m2 0h1m3 0h2m5 0h1m5 0h2m3 0h1m-59 1h1m9 0h1m4 0h1m4 0h1m4 0h3m6 0h2m5 0h1m5 0h1m7 0h3m-58 6h5m4 0h1m5 0h1m7 0h5m5 0h2m10 0h3m-48 1h1m4 0h2m2 0h1m5 0h1m7 0h1m7 0h2m2 0h2m7 0h2m2 0h1m-49 1h1m5 0h1m2 0h1m5 0h1m7 0h1m7 0h1m4 0h1m7 0h1m4 0h1m-50 1h1m5 0h1m2 0h1m5 0h1m3 0h1m3 0h4m9 0h1m12 0h1m-50 1h1m4 0h2m2 0h1m5 0h1m2 0h2m3 0h1m3 0h1m8 0h1m11 0h1m-49 1h5m4 0h7m12 0h1m6 0h1m11 0h1m-48 1h1m3 0h1m4 0h1m5 0h1m12 0h1m5 0h1m11 0h1m-47 1h1m3 0h1m4 0h1m5 0h1m12 0h1m4 0h1m11 0h1m-46 1h1m4 0h1m3 0h1m5 0h1m6 0h1m5 0h1m4 0h1m11 0h1m-46 1h1m4 0h1m3 0h1m5 0h1m2 0h2m3 0h1m3 0h1m4 0h1m6 0h2m3 0h1m-45 1h1m5 0h1m2 0h1m5 0h1m3 0h1m4 0h3m4 0h7m2 0h1m2 0h7m-50 6h1m6 0h1m4 0h1m5 0h1m4 0h1m1 0h7m6 0h5m4 0h4m8 0h5m-64 1h1m6 0h1m4 0h1m6 0h1m2 0h1m5 0h1m9 0h1m3 0h1m3 0h1m3 0h1m7 0h1m5 0h1m-65 1h2m4 0h2m3 0h1m1 0h1m5 0h1m2 0h1m5 0h1m8 0h1m4 0h1m2 0h1m4 0h1m7 0h1m5 0h1m-65 1h2m4 0h2m3 0h1m1 0h1m6 0h2m6 0h1m4 0h2m7 0h1m2 0h1m5 0h1m7 0h2m1 0h2m-64 1h1m1 0h1m3 0h2m3 0h1m2 0h1m5 0h2m6 0h1m5 0h1m6 0h1m4 0h1m3 0h2m7 0h5m-64 1h1m1 0h1m2 0h1m1 0h1m2 0h1m3 0h1m5 0h2m6 0h1m12 0h1m5 0h1m2 0h2m6 0h1m5 0h1m-65 1h1m2 0h1m1 0h1m1 0h1m2 0h6m4 0h2m6 0h1m11 0h1m7 0h3m7 0h1m5 0h1m-65 1h1m2 0h1m1 0h1m1 0h1m2 0h1m4 0h1m3 0h1m2 0h1m5 0h1m10 0h1m10 0h1m7 0h1m5 0h1m-65 1h1m3 0h1m2 0h1m1 0h1m6 0h1m2 0h1m2 0h1m5 0h1m5 0h1m3 0h1m7 0h1m3 0h1m4 0h1m2 0h1m5 0h1m-65 1h1m3 0h1m2 0h1m1 0h1m6 0h1m1 0h1m4 0h1m4 0h1m4 0h2m2 0h7m2 0h5m3 0h2m3 0h5m-65 7h7m1 0h1m5 0h1m7 0h5m7 0h1m5 0h4m3 0h6m-50 1h1m4 0h1m5 0h1m7 0h1m10 0h2m4 0h1m3 0h1m7 0h1m-49 1h1m4 0h1m5 0h1m6 0h1m10 0h1m1 0h1m4 0h1m10 0h1m-48 1h1m4 0h1m5 0h1m2 0h2m2 0h6m4 0h1m2 0h1m3 0h1m2 0h2m6 0h3m-49 1h1m4 0h7m3 0h1m2 0h1m5 0h1m3 0h1m2 0h1m3 0h3m2 0h1m7 0h2m-50 1h1m4 0h1m5 0h1m12 0h1m2 0h1m3 0h1m3 0h1m4 0h1m8 0h1m-50 1h1m4 0h1m5 0h1m12 0h1m1 0h8m1 0h1m5 0h1m7 0h1m-50 1h1m4 0h1m5 0h1m6 0h1m5 0h1m6 0h1m3 0h1m4 0h1m2 0h1m5 0h1m-50 1h1m4 0h1m5 0h1m2 0h2m2 0h2m3 0h2m6 0h1m4 0h2m2 0h1m3 0h1m3 0h2m-705 1h5m3 0h3m3 0h4m637 0h1m4 0h1m5 0h1m3 0h1m4 0h3m8 0h1m6 0h2m5 0h3m-703 1h1m3 0h1m2 0h1m3 0h1m2 0h1m3 0h1m-15 1h1m2 0h1m3 0h1m1 0h1m4 0h1m-16 1h1m3 0h1m3 0h1m1 0h1m4 0h1m-16 1h1m3 0h1m3 0h1m1 0h1m4 0h1m-17 1h1m4 0h1m3 0h1m1 0h1m4 0h1m-18 1h1m5 0h1m3 0h1m2 0h1m3 0h1m634 0h1m7 0h5m2 0h7m7 0h5m11 0h1m-699 1h5m3 0h3m3 0h4m635 0h1m7 0h1m12 0h1m7 0h1m14 0h2m-46 1h1m6 0h1m12 0h1m7 0h1m15 0h2m-46 1h1m6 0h1m1 0h3m8 0h1m4 0h1m2 0h1m1 0h3m10 0h1m1 0h1m-46 1h1m6 0h2m3 0h1m6 0h1m4 0h2m2 0h2m3 0h1m9 0h1m1 0h1m-46 1h1m11 0h1m6 0h1m14 0h1m7 0h1m2 0h1m-46 1h1m12 0h1m5 0h1m14 0h1m7 0h1m2 0h1m-46 1h1m12 0h1m4 0h1m15 0h1m6 0h7m-48 1h1m6 0h1m4 0h1m5 0h1m9 0h1m5 0h1m10 0h1m-46 1h1m6 0h2m3 0h1m4 0h1m6 0h2m2 0h2m3 0h1m3 0h2m6 0h1m-46 1h6m3 0h3m5 0h1m7 0h1m4 0h3m4 0h1m7 0h1m-46 6h1m8 0h4m3 0h1m11 0h4m5 0h5m4 0h4m-50 1h1m7 0h1m4 0h1m2 0h1m11 0h1m3 0h1m4 0h1m3 0h1m3 0h1m4 0h1m-51 1h1m6 0h1m5 0h1m2 0h1m10 0h1m4 0h1m4 0h1m7 0h1m-46 1h1m6 0h1m8 0h1m7 0h1m2 0h1m5 0h1m2 0h1m8 0h1m-46 1h1m6 0h1m8 0h1m6 0h2m3 0h1m3 0h2m2 0h5m4 0h5m-50 1h1m6 0h1m8 0h1m11 0h2m1 0h1m1 0h1m2 0h2m3 0h1m3 0h1m4 0h1m-51 1h1m6 0h1m8 0h1m13 0h1m2 0h1m2 0h1m5 0h1m2 0h1m4 0h1m-51 1h1m6 0h1m5 0h1m2 0h1m15 0h1m3 0h1m5 0h1m2 0h1m4 0h1m-51 1h1m7 0h1m4 0h1m2 0h1m7 0h1m3 0h1m3 0h1m4 0h1m3 0h1m3 0h1m4 0h1m-51 1h6m3 0h4m3 0h6m1 0h2m3 0h4m5 0h4m5 0h4m-677 3h8m-10 1h2m8 0h1m-12 1h1m11 0h1m-14 1h1m13 0h1m616 1h1m6 0h1m18 0h6m6 0h7m-672 1h1m3 0h2m621 0h1m6 0h1m22 0h1m13 0h1m-674 1h2m1 0h3m2 0h2m619 0h1m6 0h1m21 0h1m13 0h1m-673 1h1m3 0h1m4 0h1m619 0h1m6 0h1m3 0h2m15 0h3m12 0h1m-673 1h1m3 0h1m4 0h1m619 0h1m6 0h1m3 0h1m19 0h1m10 0h1m-672 1h1m3 0h1m4 0h1m619 0h1m6 0h1m7 0h9m7 0h1m10 0h1m-672 1h1m3 0h1m4 0h1m619 0h1m6 0h1m23 0h1m9 0h1m-671 1h10m619 0h1m6 0h1m18 0h1m4 0h1m9 0h1m-42 1h1m6 0h1m3 0h1m14 0h1m4 0h1m3 0h1m4 0h1m-41 1h6m1 0h1m3 0h2m13 0h5m3 0h2m4 0h1m-670 1h10m-8 1h2m0 1h2m0 1h2m0 1h2m-5 1h3m623 0h3m4 0h1m7 0h5m10 0h1m-660 1h3m625 0h1m3 0h1m3 0h1m7 0h1m13 0h2m-662 1h10m619 0h1m5 0h1m2 0h1m6 0h1m13 0h3m-33 1h1m8 0h1m6 0h1m15 0h1m-33 1h3m6 0h1m2 0h2m2 0h5m11 0h1m-664 1h1m13 0h1m619 0h2m4 0h1m11 0h1m10 0h1m-663 1h1m11 0h1m622 0h1m3 0h1m12 0h1m9 0h1m-662 1h2m8 0h1m624 0h1m2 0h1m12 0h1m9 0h1m-660 1h8m619 0h1m5 0h1m2 0h1m6 0h1m4 0h1m10 0h1m-32 1h1m3 0h1m3 0h1m2 0h2m2 0h2m2 0h1m4 0h2m5 0h1m-31 1h3m4 0h1m2 0h1m5 0h2m5 0h1m6 0h1m-34 6h14m5 0h6m2 0h7m8 0h2m-672 1h1m8 0h1m621 0h1m6 0h1m12 0h1m9 0h1m6 0h2m2 0h2m-674 1h1m8 0h1m621 0h1m6 0h1m11 0h1m9 0h1m7 0h1m4 0h1m-674 1h1m8 0h1m621 0h1m6 0h1m4 0h1m6 0h1m9 0h1m12 0h1m-674 1h1m3 0h1m4 0h1m621 0h1m6 0h1m4 0h2m4 0h4m6 0h1m13 0h1m-698 1h5m3 0h3m3 0h4m6 0h1m3 0h1m4 0h1m621 0h1m6 0h1m13 0h1m6 0h1m12 0h1m-694 1h1m3 0h1m3 0h1m2 0h1m3 0h1m5 0h1m3 0h1m4 0h1m621 0h1m6 0h1m13 0h1m5 0h1m12 0h1m-694 1h2m3 0h1m3 0h1m1 0h1m4 0h1m5 0h10m621 0h1m6 0h1m13 0h1m5 0h1m11 0h1m-691 1h1m2 0h1m3 0h1m1 0h1m4 0h1m636 0h1m6 0h1m8 0h1m4 0h1m4 0h1m11 0h1m-690 1h1m2 0h1m3 0h1m1 0h1m4 0h1m636 0h1m6 0h1m4 0h2m2 0h5m5 0h1m6 0h2m2 0h7m-695 1h1m2 0h1m3 0h1m1 0h1m4 0h1m6 0h3m5 0h1m-34 1h1m3 0h1m2 0h1m3 0h1m2 0h1m3 0h1m5 0h1m3 0h1m2 0h2m-33 1h4m4 0h3m3 0h4m6 0h1m3 0h3m-7 1h1m3 0h1m-5 1h1m3 0h1m-5 1h1m3 0h1m-5 1h10m619 0h1m5 0h1m2 0h1m8 0h4m4 0h4m7 0h1m-38 1h1m4 0h1m3 0h1m7 0h1m3 0h1m3 0h1m4 0h1m4 0h3m-38 1h1m3 0h1m4 0h1m7 0h1m4 0h1m2 0h1m4 0h1m3 0h1m2 0h1m-667 1h8m621 0h1m2 0h1m5 0h1m2 0h2m7 0h2m2 0h1m4 0h1m6 0h1m-659 1h2m619 0h1m1 0h1m6 0h1m3 0h1m6 0h1m4 0h1m4 0h1m6 0h1m-658 1h1m619 0h2m1 0h1m5 0h1m10 0h1m5 0h1m2 0h2m6 0h1m-658 1h1m619 0h1m3 0h1m4 0h1m9 0h1m7 0h2m1 0h1m6 0h1m-658 1h1m619 0h1m3 0h1m4 0h1m8 0h1m11 0h1m6 0h1m-658 1h1m619 0h1m4 0h1m3 0h1m3 0h1m3 0h1m7 0h1m3 0h1m7 0h1m-667 1h9m620 0h1m5 0h1m2 0h1m2 0h2m2 0h7m3 0h4m7 0h1m-666 3h1m3 0h4m-9 1h1m4 0h1m3 0h1m-10 1h1m4 0h1m3 0h1m658 0h1m-669 1h1m3 0h1m4 0h1m657 0h1m-668 1h1m3 0h1m4 0h1m620 0h5m2 0h1m3 0h1m3 0h1m6 0h1m5 0h1m8 0h1m5 0h1m-674 1h1m2 0h1m5 0h1m619 0h1m5 0h1m1 0h1m3 0h1m3 0h1m6 0h2m4 0h1m7 0h1m6 0h1m-673 1h3m4 0h1m620 0h1m7 0h1m3 0h1m3 0h1m6 0h2m4 0h1m7 0h1m5 0h1m1 0h1m-46 1h2m7 0h1m1 0h1m1 0h1m1 0h1m3 0h2m2 0h1m1 0h1m3 0h1m6 0h1m6 0h1m1 0h1m-674 1h1m4 0h3m621 0h4m4 0h1m1 0h1m1 0h1m1 0h1m3 0h1m3 0h1m2 0h1m2 0h1m6 0h1m5 0h1m2 0h1m-675 1h1m4 0h1m3 0h1m624 0h1m3 0h1m1 0h1m1 0h1m1 0h1m7 0h1m2 0h1m2 0h1m5 0h1m6 0h1m3 0h1m-676 1h1m4 0h1m3 0h1m625 0h1m2 0h1m1 0h1m1 0h1m1 0h1m7 0h1m3 0h1m1 0h1m4 0h1m6 0h6m-676 1h1m4 0h1m3 0h1m619 0h1m5 0h1m3 0h1m3 0h1m8 0h1m4 0h2m4 0h1m6 0h1m4 0h1m-676 1h1m3 0h1m4 0h1m620 0h1m3 0h1m4 0h1m3 0h1m4 0h2m2 0h1m4 0h2m3 0h1m6 0h1m6 0h1m-677 1h1m3 0h1m4 0h1m621 0h3m5 0h1m3 0h1m4 0h1m3 0h1m5 0h1m3 0h1m6 0h1m6 0h1m-677 1h4m4 0h2m651 0h1m-1 1h1m-2 1h1m-661 1h1m8 0h1m-10 1h1m8 0h1m-10 1h1m3 0h1m4 0h1m620 0h6m2 0h1m9 0h2m10 0h3m-663 1h1m3 0h1m4 0h1m620 0h1m7 0h1m7 0h2m2 0h1m8 0h1m2 0h2m-664 1h1m3 0h1m4 0h1m620 0h1m7 0h1m7 0h1m4 0h1m6 0h1m4 0h1m-664 1h10m620 0h1m7 0h1m3 0h1m2 0h1m5 0h1m11 0h1m-34 1h1m7 0h1m2 0h2m2 0h1m5 0h1m11 0h1m-34 1h4m4 0h1m6 0h1m5 0h1m10 0h1m-662 1h3m5 0h1m620 0h1m7 0h1m6 0h1m5 0h1m9 0h1m-662 1h1m3 0h1m2 0h2m621 0h1m7 0h1m6 0h1m5 0h1m8 0h1m-661 1h1m3 0h3m623 0h1m7 0h1m7 0h1m4 0h1m8 0h1m-661 1h1m3 0h1m625 0h1m7 0h1m2 0h2m3 0h2m2 0h1m3 0h2m3 0h1m-681 1h1m4 0h3m3 0h4m6 0h1m3 0h1m625 0h6m2 0h1m3 0h1m5 0h2m4 0h1m3 0h7m-687 1h2m3 0h1m3 0h1m2 0h1m3 0h1m5 0h1m3 0h1m-27 1h2m3 0h1m3 0h1m1 0h1m4 0h1m5 0h10m-33 1h1m1 0h1m3 0h1m3 0h1m1 0h1m4 0h1m-18 1h1m1 0h1m3 0h1m3 0h1m1 0h1m4 0h1m-19 1h6m1 0h1m3 0h1m1 0h1m4 0h1m6 0h4m-26 1h1m3 0h1m3 0h1m2 0h1m3 0h1m5 0h1m3 0h1m634 0h6m5 0h1m5 0h6m4 0h4m3 0h7m1 0h1m-703 1h1m4 0h3m3 0h4m6 0h1m4 0h1m633 0h1m5 0h1m4 0h1m5 0h1m4 0h1m3 0h1m4 0h1m2 0h1m7 0h1m-682 1h1m4 0h1m633 0h1m5 0h1m3 0h1m1 0h1m4 0h1m5 0h1m2 0h1m4 0h1m2 0h1m7 0h1m-682 1h1m4 0h1m633 0h1m5 0h1m3 0h1m1 0h1m4 0h1m4 0h2m1 0h1m8 0h1m7 0h1m-682 1h1m4 0h1m633 0h1m4 0h2m3 0h1m2 0h1m3 0h6m2 0h1m8 0h5m3 0h1m-682 1h10m618 0h9m2 0h5m4 0h1m3 0h1m3 0h1m3 0h1m3 0h1m8 0h1m7 0h1m7 0h8m-58 1h1m8 0h6m2 0h1m3 0h1m3 0h1m8 0h1m7 0h1m-43 1h1m8 0h1m4 0h1m2 0h1m4 0h1m3 0h1m4 0h1m2 0h1m7 0h1m-43 1h1m7 0h1m6 0h1m1 0h1m4 0h1m3 0h1m4 0h1m2 0h1m7 0h1m-43 1h1m7 0h1m6 0h1m1 0h1m5 0h1m3 0h4m3 0h7m1 0h6m-57 7h5m5 0h1m5 0h6m3 0h6m7 0h4m6 0h1m5 0h5m7 0h1m-67 1h1m4 0h1m4 0h1m5 0h1m4 0h2m2 0h1m11 0h1m3 0h2m3 0h3m5 0h1m4 0h1m5 0h2m-68 1h1m5 0h1m3 0h1m1 0h1m4 0h1m5 0h1m2 0h1m11 0h1m4 0h1m5 0h1m5 0h1m4 0h1m5 0h2m-68 1h1m9 0h1m1 0h1m4 0h1m5 0h1m2 0h1m7 0h1m7 0h1m6 0h1m5 0h5m5 0h1m1 0h1m-68 1h1m9 0h1m2 0h1m3 0h1m4 0h1m3 0h4m4 0h1m7 0h1m6 0h1m6 0h4m4 0h1m2 0h1m-68 1h1m8 0h1m3 0h1m3 0h5m4 0h1m15 0h1m6 0h1m5 0h1m4 0h1m3 0h1m2 0h1m-68 1h1m8 0h6m2 0h1m8 0h1m14 0h1m7 0h1m4 0h1m5 0h1m2 0h7m-70 1h1m5 0h1m2 0h1m4 0h1m2 0h1m8 0h1m12 0h2m8 0h1m4 0h1m5 0h1m6 0h1m-67 1h1m3 0h2m1 0h1m6 0h1m1 0h1m8 0h1m7 0h1m3 0h1m10 0h1m5 0h1m3 0h2m6 0h1m-66 1h3m3 0h1m6 0h1m1 0h1m8 0h6m2 0h1m2 0h7m5 0h1m6 0h3m8 0h1m-66 6h3m4 0h1m2 0h1m5 0h1m3 0h1m5 0h1m7 0h5m-40 1h1m3 0h1m3 0h1m2 0h2m4 0h1m3 0h1m5 0h1m10 0h1m-39 1h1m4 0h1m2 0h1m2 0h2m4 0h1m3 0h1m5 0h1m10 0h1m-40 1h1m5 0h1m2 0h1m2 0h1m1 0h1m3 0h1m3 0h1m5 0h1m2 0h1m6 0h1m-692 1h5m3 0h3m3 0h4m635 0h1m8 0h1m2 0h1m1 0h1m3 0h1m3 0h1m5 0h1m2 0h2m5 0h3m-694 1h1m6 0h1m3 0h1m2 0h1m3 0h1m634 0h1m8 0h1m2 0h1m2 0h1m2 0h1m3 0h7m11 0h1m-694 1h4m3 0h1m3 0h1m1 0h1m4 0h1m634 0h1m8 0h1m2 0h1m3 0h1m1 0h1m3 0h1m5 0h1m12 0h1m-695 1h1m3 0h1m2 0h1m3 0h1m1 0h1m4 0h1m634 0h1m5 0h1m2 0h1m2 0h1m3 0h1m1 0h1m3 0h1m5 0h1m12 0h1m-691 1h1m2 0h1m3 0h1m1 0h1m4 0h1m635 0h1m4 0h1m2 0h1m2 0h1m4 0h2m3 0h1m5 0h1m6 0h1m4 0h1m-690 1h1m2 0h1m3 0h1m1 0h1m4 0h1m635 0h1m3 0h1m3 0h1m2 0h1m4 0h2m3 0h1m5 0h1m2 0h2m2 0h2m2 0h1m-693 1h1m3 0h1m2 0h1m3 0h1m2 0h1m3 0h1m636 0h3m4 0h1m2 0h1m5 0h1m3 0h1m5 0h1m2 0h1m5 0h2m-692 1h4m4 0h3m3 0h4m635 5h1m8 0h3m4 0h1m13 0h1m8 0h2m6 0h2m-49 1h1m7 0h2m2 0h2m2 0h1m11 0h2m1 0h2m4 0h2m2 0h1m4 0h1m2 0h2m-51 1h1m6 0h1m5 0h1m2 0h1m10 0h1m4 0h1m4 0h1m7 0h1m-46 1h1m6 0h1m8 0h1m7 0h1m2 0h1m5 0h1m2 0h1m8 0h1m-46 1h1m6 0h1m8 0h1m6 0h2m3 0h1m3 0h2m2 0h5m4 0h5m-50 1h1m6 0h1m8 0h1m11 0h2m1 0h1m1 0h1m2 0h2m3 0h1m3 0h1m4 0h1m-51 1h1m6 0h1m8 0h1m13 0h1m2 0h1m2 0h1m5 0h1m2 0h1m4 0h1m-51 1h1m6 0h1m5 0h1m2 0h1m15 0h1m3 0h1m5 0h1m2 0h1m4 0h1m-51 1h1m7 0h1m4 0h1m2 0h1m7 0h1m3 0h1m3 0h1m4 0h1m3 0h1m3 0h1m4 0h1m-51 1h6m3 0h4m3 0h6m1 0h2m3 0h4m5 0h4m5 0h4m-49 7h5m5 0h1m5 0h6m8 0h4m8 0h5m-47 1h1m4 0h1m4 0h1m5 0h1m4 0h1m7 0h1m3 0h1m7 0h1m4 0h1m-48 1h1m5 0h1m3 0h1m1 0h1m4 0h1m5 0h1m6 0h1m4 0h1m6 0h1m4 0h1m-48 1h1m9 0h1m1 0h1m4 0h1m5 0h1m2 0h1m2 0h1m5 0h1m6 0h1m4 0h1m-48 1h1m9 0h1m2 0h1m3 0h1m4 0h1m3 0h1m2 0h1m5 0h1m6 0h1m5 0h1m-701 1h4m3 0h3m3 0h4m635 0h1m8 0h1m3 0h1m3 0h5m7 0h1m5 0h1m6 0h1m5 0h1m-702 1h1m3 0h1m2 0h1m3 0h1m2 0h1m3 0h1m634 0h1m8 0h6m2 0h1m11 0h1m5 0h1m6 0h1m4 0h1m-701 1h1m1 0h1m4 0h1m3 0h1m1 0h1m4 0h1m634 0h1m5 0h1m2 0h1m4 0h1m2 0h1m12 0h1m4 0h1m6 0h1m4 0h1m-701 1h2m1 0h1m3 0h1m3 0h1m1 0h1m4 0h1m635 0h1m4 0h1m1 0h1m6 0h1m1 0h1m8 0h1m3 0h1m3 0h1m4 0h1m2 0h1m4 0h1m-701 1h1m3 0h1m2 0h1m3 0h1m1 0h1m4 0h1m635 0h5m2 0h1m6 0h1m1 0h1m8 0h1m4 0h4m3 0h2m3 0h5m-701 1h1m3 0h1m2 0h1m3 0h1m1 0h1m4 0h1m-19 1h1m3 0h1m2 0h1m3 0h1m2 0h1m3 0h1m-18 1h3m4 0h3m3 0h4m635 3h1m6 0h7m3 0h3m10 0h2m5 0h5m7 0h1m-50 1h1m6 0h1m8 0h1m3 0h1m8 0h1m2 0h1m4 0h1m10 0h2m-50 1h1m6 0h1m7 0h1m4 0h1m7 0h1m4 0h1m3 0h1m10 0h2m-50 1h1m6 0h1m7 0h1m5 0h1m6 0h1m4 0h1m3 0h1m9 0h1m1 0h1m-50 1h1m6 0h1m7 0h1m8 0h2m2 0h1m4 0h1m3 0h5m5 0h1m1 0h1m-50 1h1m6 0h5m3 0h1m12 0h1m4 0h1m8 0h1m3 0h1m2 0h1m-50 1h1m6 0h1m7 0h1m13 0h5m8 0h1m3 0h1m2 0h1m-50 1h1m6 0h1m7 0h1m17 0h1m8 0h1m2 0h7m-52 1h1m6 0h1m7 0h1m4 0h2m6 0h1m4 0h1m2 0h1m5 0h1m6 0h1m-50 1h1m6 0h1m8 0h1m3 0h1m3 0h2m2 0h2m2 0h1m4 0h1m3 0h1m7 0h1m-50 1h6m1 0h1m9 0h3m4 0h1m5 0h2m6 0h3m8 0h1m-50 6h7m1 0h1m14 0h1m7 0h2m6 0h2m-41 1h1m7 0h1m12 0h3m5 0h2m2 0h1m4 0h1m2 0h2m-696 1h5m3 0h3m3 0h4m635 0h1m7 0h1m11 0h1m2 0h1m4 0h1m8 0h1m-687 1h1m2 0h1m3 0h1m2 0h1m3 0h1m634 0h1m7 0h1m7 0h1m6 0h1m4 0h1m8 0h1m-688 1h1m3 0h1m3 0h1m1 0h1m4 0h1m634 0h1m7 0h1m6 0h2m6 0h1m4 0h5m4 0h5m-692 1h1m3 0h1m3 0h1m1 0h1m4 0h1m634 0h5m3 0h1m14 0h1m4 0h1m4 0h1m3 0h1m4 0h1m-694 1h1m4 0h1m3 0h1m1 0h1m4 0h1m634 0h1m7 0h1m14 0h1m4 0h1m5 0h1m2 0h1m4 0h1m-694 1h1m4 0h1m3 0h1m1 0h1m4 0h1m634 0h1m7 0h1m14 0h1m4 0h1m5 0h1m2 0h1m4 0h1m-695 1h1m5 0h1m3 0h1m2 0h1m3 0h1m634 0h1m7 0h1m14 0h1m4 0h1m4 0h1m3 0h1m4 0h1m-695 1h1m6 0h3m3 0h4m635 0h7m1 0h6m1 0h2m6 0h1m5 0h4m5 0h4m-42 7h1m6 0h1m2 0h6m3 0h1m14 0h1m5 0h4m6 0h1m-51 1h1m6 0h1m2 0h1m5 0h1m2 0h1m12 0h3m4 0h1m3 0h1m5 0h2m-51 1h2m4 0h2m2 0h1m5 0h1m2 0h1m11 0h1m2 0h1m4 0h1m4 0h1m3 0h1m1 0h1m-51 1h2m4 0h2m2 0h1m5 0h1m2 0h1m6 0h2m6 0h1m4 0h1m4 0h1m5 0h1m-51 1h1m1 0h1m3 0h2m2 0h1m4 0h2m2 0h1m7 0h1m6 0h1m4 0h1m5 0h1m4 0h1m-51 1h1m1 0h1m2 0h1m1 0h1m2 0h5m4 0h1m14 0h1m4 0h1m5 0h1m4 0h1m-51 1h1m2 0h1m1 0h1m1 0h1m2 0h1m8 0h1m14 0h1m4 0h1m4 0h1m5 0h1m-51 1h1m2 0h1m1 0h1m1 0h1m2 0h1m8 0h1m14 0h1m4 0h1m4 0h1m5 0h1m-51 1h1m3 0h1m2 0h1m2 0h1m8 0h1m7 0h1m6 0h1m4 0h1m3 0h1m6 0h1m-51 1h1m3 0h1m2 0h1m2 0h1m8 0h6m1 0h2m6 0h1m5 0h4m6 0h1m-704 1h5m3 0h3m3 0h4m-18 1h1m3 0h1m2 0h1m3 0h1m2 0h1m3 0h1m-19 1h2m1 0h2m2 0h1m3 0h1m1 0h1m4 0h1m-18 1h3m3 0h1m3 0h1m1 0h1m4 0h1m-19 1h1m3 0h1m2 0h1m3 0h1m1 0h1m4 0h1m-19 1h1m3 0h1m2 0h1m3 0h1m1 0h1m4 0h1m-19 1h1m3 0h1m2 0h1m3 0h1m2 0h1m3 0h1m643 0h1m4 0h1m3 0h1m1 0h1m3 0h1m5 0h1m2 0h5m-691 1h5m3 0h3m3 0h4m644 0h1m4 0h1m3 0h1m1 0h1m3 0h2m4 0h1m2 0h1m4 0h1m-30 1h1m3 0h2m3 0h1m1 0h1m3 0h2m4 0h1m2 0h1m4 0h1m-29 1h1m2 0h1m1 0h1m1 0h1m2 0h1m3 0h1m1 0h1m3 0h1m2 0h1m5 0h1m-30 1h1m2 0h1m1 0h1m1 0h1m2 0h1m3 0h1m2 0h1m2 0h1m2 0h1m5 0h1m-41 1h9m2 0h1m1 0h1m2 0h1m1 0h1m2 0h1m3 0h1m2 0h1m2 0h1m2 0h1m5 0h1m2 0h8m-40 1h1m1 0h1m2 0h1m1 0h1m2 0h1m3 0h1m3 0h1m1 0h1m2 0h1m4 0h1m-28 1h2m3 0h1m3 0h1m3 0h1m4 0h2m2 0h1m4 0h1m-28 1h1m4 0h1m3 0h1m3 0h1m4 0h2m2 0h1m3 0h1m-27 1h1m4 0h1m3 0h1m3 0h1m5 0h1m2 0h4m-35 6h1m5 0h1m4 0h3m3 0h7m-678 1h3m4 0h3m3 0h4m637 0h2m4 0h1m3 0h1m3 0h1m5 0h1m-676 1h1m3 0h1m2 0h1m3 0h1m2 0h1m3 0h1m636 0h2m4 0h1m2 0h2m4 0h1m4 0h1m-676 1h1m3 0h1m2 0h1m3 0h1m1 0h1m4 0h1m636 0h1m1 0h1m3 0h1m2 0h1m5 0h1m4 0h1m-676 1h1m3 0h1m2 0h1m3 0h1m1 0h1m4 0h1m636 0h1m1 0h1m3 0h1m2 0h1m5 0h1m4 0h1m-675 1h4m2 0h1m3 0h1m1 0h1m4 0h1m636 0h1m2 0h1m2 0h1m2 0h1m5 0h1m4 0h1m-672 1h1m2 0h1m3 0h1m1 0h1m4 0h1m636 0h1m3 0h1m1 0h1m2 0h1m5 0h1m4 0h1m-676 1h1m3 0h1m2 0h1m3 0h1m2 0h1m3 0h1m636 0h1m3 0h1m1 0h1m2 0h1m5 0h1m4 0h1m-676 1h4m4 0h3m3 0h4m637 0h1m4 0h2m3 0h1m4 0h1m4 0h1m-21 1h1m4 0h2m3 0h1m3 0h1m5 0h1m-21 1h1m5 0h1m4 0h3m6 0h1m-21 6h1m4 0h1m5 0h1m4 0h1m4 0h1m2 0h1m-25 1h1m4 0h1m5 0h1m4 0h1m4 0h1m2 0h1m-26 1h1m1 0h1m4 0h1m3 0h1m4 0h1m1 0h1m3 0h1m2 0h1m-26 1h1m1 0h1m4 0h1m3 0h1m4 0h1m1 0h1m3 0h1m2 0h1m-685 1h1m5 0h3m4 0h3m3 0h4m636 0h1m2 0h1m3 0h1m3 0h1m3 0h1m2 0h1m3 0h1m2 0h1m-686 1h2m4 0h1m3 0h1m2 0h1m3 0h1m2 0h1m3 0h1m634 0h1m3 0h1m4 0h1m1 0h1m4 0h1m3 0h1m2 0h1m2 0h1m-685 1h1m4 0h1m3 0h1m2 0h1m3 0h1m1 0h1m4 0h1m634 0h6m3 0h1m1 0h1m3 0h6m2 0h1m2 0h1m-685 1h1m4 0h1m3 0h1m2 0h1m3 0h1m1 0h1m4 0h1m634 0h1m4 0h1m3 0h1m1 0h1m3 0h1m4 0h1m2 0h1m2 0h1m-685 1h1m4 0h1m3 0h1m2 0h1m3 0h1m1 0h1m4 0h1m633 0h1m6 0h1m3 0h1m3 0h1m6 0h1m1 0h1m2 0h1m-685 1h1m4 0h1m3 0h1m2 0h1m3 0h1m1 0h1m4 0h1m633 0h1m6 0h1m3 0h1m3 0h1m6 0h1m1 0h1m2 0h6m-690 1h1m4 0h1m3 0h1m2 0h1m3 0h1m2 0h1m3 0h1m-24 1h1m5 0h3m4 0h3m3 0h4" stroke="#000000" stroke-width="1" fill="none" transform="translate(0,0.5)"/>
<path d="M125 58h1m4 0h4m3 0h3m53 0h1m5 0h1m5 0h3m53 0h1m4 0h3m3 0h4m57 0h4m3 0h4m57 0h4m3 0h4m56 0h6m2 0h3m58 0h4m2 0h4m57 0h5m2 0h4m60 0h1m3 0h4m-560 1h3m3 0h2m2 0h1m2 0h1m3 0h1m50 0h3m4 0h2m4 0h1m3 0h1m50 0h3m3 0h1m3 0h1m2 0h1m3 0h1m56 0h1m2 0h1m2 0h1m3 0h1m56 0h1m3 0h1m2 0h1m3 0h1m60 0h1m2 0h1m3 0h1m56 0h1m3 0h1m2 0h1m3 0h1m56 0h1m6 0h1m3 0h1m58 0h2m2 0h1m3 0h1m-558 1h1m3 0h1m3 0h1m2 0h1m3 0h1m52 0h1m5 0h1m4 0h1m3 0h1m52 0h1m3 0h1m3 0h1m1 0h1m4 0h1m55 0h1m4 0h1m1 0h1m3 0h1m56 0h2m2 0h1m2 0h1m3 0h1m60 0h1m2 0h1m3 0h1m56 0h1m5 0h1m4 0h1m56 0h3m3 0h1m4 0h1m57 0h1m1 0h1m2 0h1m3 0h1m-558 1h1m7 0h1m2 0h1m3 0h1m52 0h1m5 0h1m4 0h1m3 0h1m52 0h1m3 0h1m3 0h1m1 0h1m4 0h1m56 0h1m2 0h2m1 0h1m4 0h1m56 0h4m2 0h1m4 0h1m58 0h1m3 0h1m3 0h1m56 0h4m2 0h1m4 0h1m56 0h1m2 0h2m1 0h1m4 0h1m57 0h1m1 0h1m2 0h1m4 0h1m-570 1h7m4 0h1m6 0h1m3 0h1m3 0h1m41 0h7m4 0h1m5 0h1m4 0h1m3 0h1m40 0h7m5 0h1m3 0h1m3 0h1m1 0h1m4 0h1m47 0h7m2 0h5m1 0h1m4 0h1m47 0h7m1 0h1m3 0h1m2 0h1m4 0h1m47 0h7m4 0h1m3 0h1m3 0h1m47 0h7m2 0h1m3 0h1m1 0h1m4 0h1m47 0h7m6 0h1m1 0h1m4 0h1m47 0h7m2 0h1m2 0h1m2 0h1m4 0h1m-559 1h1m5 0h1m4 0h1m3 0h1m52 0h1m5 0h1m4 0h1m3 0h1m52 0h1m3 0h1m3 0h1m1 0h1m4 0h1m59 0h1m2 0h1m3 0h1m56 0h1m4 0h1m1 0h1m3 0h1m58 0h1m4 0h1m3 0h1m56 0h1m3 0h1m1 0h1m4 0h1m60 0h1m1 0h1m4 0h1m55 0h6m1 0h1m3 0h1m-558 1h1m4 0h1m5 0h1m3 0h1m52 0h1m5 0h1m4 0h1m3 0h1m52 0h1m3 0h1m3 0h1m2 0h1m3 0h1m56 0h1m2 0h1m2 0h1m3 0h1m56 0h1m4 0h1m1 0h1m3 0h1m58 0h1m4 0h1m3 0h1m56 0h1m3 0h1m2 0h1m3 0h1m55 0h1m4 0h1m2 0h1m3 0h1m59 0h1m2 0h1m3 0h1m-558 1h1m3 0h6m2 0h3m53 0h1m5 0h1m5 0h3m53 0h1m4 0h3m3 0h4m57 0h4m3 0h4m56 0h5m3 0h4m57 0h1m6 0h3m58 0h3m3 0h4m57 0h4m3 0h4m60 0h1m3 0h4m-561 38h1m24 0h1m10 0h2m25 0h1m18 0h1m6 0h2m19 0h9m-119 1h1m24 0h1m10 0h1m26 0h1m18 0h1m7 0h1m23 0h1m-116 1h1m1 0h1m23 0h1m37 0h1m17 0h1m1 0h1m30 0h1m-116 1h1m1 0h1m23 0h1m37 0h1m17 0h1m1 0h1m30 0h1m-117 1h1m2 0h1m23 0h1m37 0h1m16 0h1m3 0h1m29 0h1m-117 1h1m3 0h1m4 0h1m1 0h5m2 0h5m4 0h7m4 0h1m5 0h5m5 0h6m4 0h5m13 0h1m3 0h1m5 0h1m3 0h1m1 0h4m14 0h1m7 0h5m5 0h6m2 0h5m4 0h7m-158 1h1m3 0h1m4 0h2m4 0h1m1 0h1m4 0h1m4 0h1m6 0h1m3 0h1m4 0h1m5 0h1m4 0h1m4 0h1m5 0h1m16 0h1m3 0h1m5 0h1m3 0h2m18 0h1m6 0h1m5 0h1m4 0h1m4 0h1m1 0h1m4 0h1m4 0h1m6 0h1m-160 1h1m4 0h1m4 0h1m6 0h1m5 0h1m4 0h1m6 0h1m3 0h1m3 0h1m6 0h1m4 0h1m5 0h1m4 0h1m15 0h1m5 0h1m4 0h1m3 0h1m19 0h1m5 0h1m6 0h1m4 0h1m5 0h1m5 0h1m4 0h1m6 0h1m-160 1h1m4 0h1m4 0h1m6 0h1m5 0h1m4 0h1m6 0h1m3 0h1m3 0h8m4 0h1m5 0h1m4 0h1m15 0h1m5 0h1m4 0h1m3 0h1m19 0h1m5 0h8m4 0h1m5 0h1m5 0h1m4 0h1m6 0h1m-160 1h7m3 0h1m6 0h1m5 0h1m4 0h1m6 0h1m3 0h1m3 0h1m11 0h1m5 0h1m4 0h1m15 0h7m4 0h1m3 0h1m19 0h1m5 0h1m11 0h1m5 0h1m5 0h1m4 0h1m6 0h1m-161 1h1m6 0h1m3 0h1m6 0h1m5 0h1m4 0h1m6 0h1m3 0h1m3 0h1m11 0h1m5 0h1m4 0h1m14 0h1m7 0h1m3 0h1m3 0h1m19 0h1m5 0h1m11 0h1m5 0h1m5 0h1m4 0h1m6 0h1m-161 1h1m6 0h1m3 0h1m6 0h1m5 0h1m4 0h1m6 0h1m3 0h1m4 0h1m5 0h1m4 0h1m5 0h1m4 0h1m14 0h1m7 0h1m3 0h1m3 0h1m19 0h1m6 0h1m5 0h1m4 0h1m5 0h1m5 0h1m4 0h1m6 0h1m-162 1h1m8 0h1m2 0h1m6 0h1m5 0h1m4 0h1m5 0h1m4 0h1m4 0h1m4 0h1m5 0h1m5 0h1m4 0h1m13 0h1m9 0h1m2 0h1m3 0h1m19 0h1m6 0h1m4 0h1m5 0h1m5 0h1m5 0h1m4 0h1m5 0h1m-161 1h1m8 0h1m2 0h1m6 0h1m5 0h1m4 0h6m5 0h1m5 0h5m5 0h1m5 0h1m5 0h3m10 0h1m9 0h1m2 0h1m3 0h1m19 0h1m7 0h5m5 0h1m5 0h1m5 0h1m4 0h6m-6 1h1m-1 1h1m-1 1h1m-1 1h1m-1 1h1m414 387h1m9 0h1m-600 1h4m3 0h4m60 0h1m3 0h4m57 0h5m3 0h3m58 0h4m3 0h4m59 0h1m4 0h4m49 0h3m67 0h1m4 0h4m57 0h4m3 0h4m57 0h5m2 0h4m32 0h6m2 0h1m4 0h3m4 0h1m-601 1h1m5 0h1m4 0h1m58 0h2m3 0h1m3 0h1m59 0h1m3 0h1m3 0h1m56 0h2m2 0h2m1 0h1m3 0h1m57 0h3m4 0h1m3 0h1m47 0h1m3 0h1m64 0h3m3 0h1m3 0h1m56 0h2m2 0h2m1 0h1m4 0h1m59 0h1m3 0h1m3 0h1m34 0h1m3 0h1m4 0h1m3 0h1m3 0h1m-601 1h3m3 0h1m4 0h1m57 0h1m1 0h1m2 0h1m4 0h1m59 0h1m3 0h1m3 0h1m56 0h1m4 0h1m1 0h1m3 0h1m59 0h1m3 0h1m4 0h1m47 0h1m3 0h1m66 0h1m3 0h1m3 0h1m56 0h1m4 0h1m1 0h1m4 0h1m59 0h1m2 0h1m4 0h1m34 0h1m3 0h1m4 0h1m4 0h1m3 0h1m-602 1h1m2 0h2m1 0h1m4 0h1m57 0h1m1 0h1m2 0h1m4 0h1m58 0h3m2 0h1m3 0h1m60 0h1m2 0h1m4 0h1m58 0h1m3 0h1m4 0h1m47 0h1m3 0h1m66 0h1m3 0h1m4 0h1m59 0h1m2 0h1m4 0h1m58 0h3m1 0h1m4 0h1m34 0h1m3 0h1m3 0h1m9 0h1m-611 1h7m6 0h1m1 0h1m4 0h1m47 0h7m2 0h1m2 0h1m2 0h1m4 0h1m47 0h7m7 0h1m1 0h1m3 0h1m47 0h8m4 0h1m3 0h1m4 0h1m47 0h7m4 0h1m3 0h1m4 0h1m47 0h1m3 0h1m66 0h1m3 0h1m4 0h1m59 0h1m2 0h1m4 0h1m60 0h1m1 0h1m4 0h1m34 0h1m3 0h1m3 0h1m9 0h1m-598 1h1m1 0h1m4 0h1m55 0h8m4 0h1m61 0h1m1 0h1m3 0h1m58 0h1m4 0h1m3 0h1m59 0h1m3 0h1m4 0h1m47 0h1m3 0h1m66 0h1m3 0h1m3 0h1m59 0h1m3 0h1m4 0h1m60 0h1m1 0h1m4 0h1m34 0h1m3 0h1m4 0h1m4 0h1m3 0h1m-603 1h2m3 0h1m1 0h1m4 0h1m59 0h1m3 0h1m3 0h1m56 0h1m3 0h1m2 0h1m3 0h1m57 0h1m5 0h1m3 0h1m59 0h1m4 0h1m3 0h1m47 0h1m3 0h1m66 0h1m3 0h1m3 0h1m57 0h2m4 0h1m4 0h1m55 0h2m3 0h1m2 0h1m3 0h1m34 0h1m3 0h1m4 0h1m3 0h1m4 0h1m-602 1h4m3 0h4m60 0h1m3 0h4m57 0h5m3 0h3m57 0h6m2 0h4m59 0h1m4 0h4m49 0h3m67 0h1m4 0h4m56 0h6m2 0h4m57 0h4m3 0h4m35 0h1m3 0h1m5 0h3m4 0h1m-13 1h1m11 0h1m-12 1h1m9 0h1" stroke="#ff0000" stroke-width="1" fill="none" transform="translate(0,0.5)"/>
<path d="M122 146h1m6 0h2m20 0h7m46 0h1m11 0h9m-103 1h1m6 0h1m21 0h1m6 0h2m44 0h1m15 0h1m-100 1h1m1 0h1m27 0h1m7 0h1m44 0h1m15 0h1m-100 1h1m1 0h1m27 0h1m7 0h1m44 0h1m15 0h1m-101 1h1m2 0h1m27 0h1m7 0h1m44 0h1m15 0h1m-101 1h1m3 0h1m4 0h1m4 0h1m1 0h4m11 0h1m7 0h1m5 0h6m4 0h5m4 0h5m5 0h5m5 0h1m15 0h1m7 0h5m5 0h7m1 0h5m4 0h7m-142 1h1m3 0h1m4 0h1m4 0h2m15 0h1m6 0h2m4 0h1m5 0h1m4 0h1m6 0h2m5 0h1m3 0h1m5 0h1m4 0h1m15 0h1m6 0h1m5 0h1m4 0h1m5 0h2m4 0h1m4 0h1m6 0h1m-144 1h1m4 0h1m4 0h1m4 0h1m16 0h7m5 0h1m6 0h1m4 0h1m6 0h1m9 0h1m6 0h1m4 0h1m15 0h1m5 0h1m7 0h1m3 0h1m5 0h1m6 0h1m3 0h1m6 0h1m-144 1h1m4 0h1m4 0h1m4 0h1m16 0h1m11 0h1m6 0h1m4 0h1m6 0h1m9 0h8m4 0h1m15 0h1m5 0h9m3 0h1m5 0h1m6 0h1m3 0h1m6 0h1m-144 1h7m3 0h1m4 0h1m16 0h1m11 0h1m6 0h1m4 0h1m6 0h1m9 0h1m11 0h1m15 0h1m5 0h1m11 0h1m5 0h1m6 0h1m3 0h1m6 0h1m-145 1h1m6 0h1m3 0h1m4 0h1m16 0h1m11 0h1m6 0h1m4 0h1m6 0h1m9 0h1m11 0h1m15 0h1m5 0h1m11 0h1m5 0h1m6 0h1m3 0h1m6 0h1m-145 1h1m6 0h1m3 0h1m4 0h1m16 0h1m12 0h1m5 0h1m4 0h1m6 0h1m6 0h1m3 0h1m5 0h1m4 0h1m15 0h1m6 0h1m6 0h1m3 0h1m5 0h1m6 0h1m3 0h1m6 0h1m-146 1h1m8 0h1m2 0h1m4 0h1m16 0h1m12 0h1m4 0h2m4 0h1m7 0h1m4 0h1m4 0h1m4 0h1m5 0h1m15 0h1m6 0h1m5 0h1m4 0h1m5 0h1m6 0h1m3 0h1m5 0h1m-145 1h1m8 0h1m2 0h1m4 0h1m16 0h1m13 0h6m4 0h1m8 0h5m5 0h5m5 0h1m15 0h1m7 0h5m5 0h1m5 0h1m6 0h1m3 0h7m-7 1h1m-1 1h1m-1 1h1m-1 1h1m-1 1h1m-1 351h1m86 0h1m-200 1h1m45 0h3m62 0h1m86 0h1m-199 1h2m43 0h1m2 0h1m62 0h1m85 0h1m176 0h2m16 0h3m21 0h1m30 0h3m22 0h1m20 0h2m31 0h2m-528 1h1m1 0h1m42 0h1m2 0h1m61 0h1m2 0h4m79 0h1m3 0h4m168 0h2m2 0h1m14 0h1m2 0h1m20 0h1m30 0h1m3 0h1m20 0h1m19 0h2m2 0h1m28 0h2m2 0h1m4 0h1m13 0h1m14 0h1m-564 1h1m3 0h1m41 0h1m3 0h1m60 0h1m1 0h1m4 0h1m79 0h1m1 0h1m3 0h1m52 0h1m63 0h1m28 0h1m22 0h1m4 0h1m13 0h1m2 0h1m19 0h1m2 0h4m24 0h1m5 0h1m18 0h1m2 0h4m14 0h1m4 0h1m27 0h1m4 0h1m2 0h1m13 0h1m15 0h1m-559 1h1m44 0h1m2 0h1m58 0h1m5 0h1m43 0h1m36 0h1m4 0h1m15 0h3m32 0h3m24 0h1m37 0h1m1 0h1m26 0h1m1 0h1m21 0h1m5 0h1m12 0h1m3 0h1m19 0h2m3 0h1m25 0h1m5 0h1m18 0h2m3 0h1m14 0h1m5 0h1m26 0h1m5 0h1m1 0h1m13 0h1m2 0h1m13 0h1m-559 1h1m43 0h1m1 0h1m64 0h1m44 0h2m40 0h1m14 0h1m3 0h1m30 0h1m2 0h3m22 0h2m35 0h1m3 0h2m23 0h1m2 0h1m21 0h1m5 0h1m16 0h1m2 0h1m17 0h1m4 0h1m24 0h1m5 0h1m19 0h1m4 0h1m10 0h1m2 0h1m5 0h1m26 0h1m5 0h2m13 0h1m3 0h1m14 0h1m-516 1h2m62 0h1m1 0h1m45 0h1m1 0h1m36 0h1m1 0h1m15 0h1m3 0h1m33 0h1m2 0h1m21 0h1m1 0h1m2 0h1m32 0h1m1 0h1m2 0h1m21 0h2m1 0h4m15 0h1m4 0h2m3 0h1m8 0h1m7 0h1m1 0h1m12 0h1m10 0h1m20 0h3m2 0h2m3 0h1m13 0h3m8 0h1m9 0h2m3 0h2m3 0h1m22 0h1m4 0h2m3 0h1m5 0h4m5 0h1m3 0h1m3 0h1m2 0h4m4 0h1m-572 1h3m43 0h3m7 0h1m55 0h2m7 0h1m49 0h1m36 0h1m16 0h1m3 0h1m37 0h1m21 0h1m1 0h2m33 0h2m4 0h1m21 0h3m3 0h1m14 0h2m5 0h1m1 0h2m8 0h2m6 0h2m13 0h2m7 0h2m20 0h1m2 0h1m4 0h1m1 0h1m14 0h1m2 0h1m5 0h2m9 0h1m1 0h1m5 0h1m1 0h2m22 0h2m5 0h1m1 0h2m4 0h1m3 0h1m4 0h1m4 0h1m2 0h1m2 0h1m3 0h1m4 0h1m-573 1h1m3 0h1m41 0h1m3 0h1m60 0h2m2 0h1m57 0h1m25 0h1m30 0h1m2 0h1m34 0h1m21 0h4m34 0h1m4 0h1m23 0h1m3 0h1m14 0h1m1 0h1m5 0h1m10 0h1m1 0h1m5 0h2m13 0h1m1 0h1m4 0h3m20 0h1m3 0h1m5 0h1m14 0h1m3 0h1m3 0h2m10 0h1m3 0h3m3 0h1m24 0h1m1 0h1m2 0h1m2 0h1m1 0h1m4 0h1m3 0h1m4 0h1m4 0h3m3 0h1m3 0h1m4 0h1m-574 1h1m5 0h1m2 0h2m35 0h1m5 0h1m2 0h2m55 0h1m4 0h1m3 0h1m53 0h1m24 0h2m5 0h2m22 0h1m1 0h1m34 0h1m22 0h1m3 0h1m34 0h1m2 0h1m24 0h1m3 0h1m14 0h1m2 0h1m14 0h1m3 0h1m4 0h1m14 0h1m2 0h1m27 0h1m3 0h1m19 0h2m2 0h1m19 0h1m2 0h1m27 0h1m2 0h2m5 0h1m4 0h1m3 0h1m3 0h1m5 0h1m2 0h1m2 0h1m3 0h1m4 0h1m-573 1h1m4 0h1m39 0h1m5 0h1m59 0h1m4 0h1m81 0h1m2 0h1m28 0h2m32 0h4m62 0h2m26 0h3m19 0h1m18 0h1m22 0h1m30 0h1m2 0h1m20 0h1m3 0h1m18 0h1m28 0h1m1 0h2m6 0h1m3 0h2m1 0h2m3 0h1m5 0h1m2 0h1m2 0h2m1 0h2m4 0h1m-573 1h1m5 0h1m38 0h1m6 0h1m58 0h1m5 0h1m84 0h1m27 0h1m150 0h1m18 0h1m22 0h1m29 0h1m1 0h1m21 0h1m2 0h1m19 0h1m28 0h2m2 0h1m6 0h1m4 0h3m2 0h1m6 0h1m3 0h1m3 0h3m3 0h1m-571 1h1m4 0h1m39 0h1m5 0h1m59 0h1m4 0h1m85 0h1m249 0h2m22 0h3m17 0h1m1 0h1m29 0h1m10 0h1m6 0h1m2 0h1m16 0h1m2 0h1m-570 1h3m1 0h1m41 0h3m1 0h1m61 0h2m1 0h2m86 0h1m248 0h1m23 0h1m20 0h1m42 0h1m2 0h3m2 0h1m14 0h3m3 0h1m-567 1h1m45 0h1m64 0h1" stroke="#540a8c" stroke-width="1" fill="none" transform="translate(0,0.5)"/>
<path d="M119 124h6m39 0h7m16 0h2m15 0h1m13 0h9m-108 1h1m5 0h1m38 0h1m6 0h1m16 0h1m15 0h1m17 0h1m-104 1h1m6 0h1m37 0h1m7 0h1m31 0h1m17 0h1m-104 1h1m6 0h1m37 0h1m7 0h1m31 0h1m17 0h1m-104 1h1m6 0h1m37 0h1m7 0h1m31 0h1m17 0h1m-104 1h1m7 0h1m4 0h5m4 0h1m4 0h1m4 0h1m12 0h1m7 0h1m5 0h5m5 0h1m3 0h1m1 0h5m3 0h5m15 0h1m8 0h5m4 0h1m1 0h5m1 0h5m5 0h6m-145 1h1m7 0h1m3 0h1m5 0h1m3 0h1m4 0h1m4 0h1m12 0h1m6 0h2m3 0h2m5 0h1m4 0h1m3 0h2m4 0h1m5 0h1m17 0h1m6 0h2m4 0h1m4 0h2m4 0h2m4 0h1m5 0h1m5 0h1m-146 1h1m7 0h1m3 0h1m6 0h1m3 0h1m2 0h2m3 0h1m13 0h7m5 0h1m6 0h1m4 0h1m3 0h1m6 0h1m4 0h1m17 0h1m6 0h1m6 0h1m3 0h1m5 0h1m6 0h1m4 0h1m5 0h1m-146 1h1m7 0h1m3 0h8m3 0h1m2 0h1m1 0h1m2 0h1m13 0h1m11 0h1m7 0h1m3 0h1m3 0h1m6 0h1m4 0h1m17 0h1m6 0h8m3 0h1m5 0h1m6 0h1m4 0h1m6 0h1m-147 1h1m6 0h1m4 0h1m10 0h1m2 0h1m1 0h1m1 0h1m14 0h1m11 0h1m7 0h1m3 0h1m3 0h1m6 0h1m4 0h1m17 0h1m6 0h1m10 0h1m5 0h1m6 0h1m4 0h1m6 0h1m-147 1h1m6 0h1m4 0h1m11 0h1m1 0h1m1 0h1m1 0h1m14 0h1m11 0h1m7 0h1m3 0h1m3 0h1m6 0h1m4 0h1m17 0h1m6 0h1m10 0h1m5 0h1m6 0h1m4 0h1m6 0h1m-147 1h1m6 0h1m4 0h1m6 0h1m4 0h2m2 0h1m1 0h1m14 0h1m11 0h1m6 0h1m4 0h1m3 0h1m6 0h1m4 0h1m17 0h1m6 0h1m6 0h1m3 0h1m5 0h1m6 0h1m4 0h1m5 0h1m-146 1h1m5 0h1m5 0h1m5 0h1m6 0h1m3 0h1m15 0h1m12 0h1m4 0h1m5 0h1m3 0h1m6 0h1m4 0h1m17 0h1m7 0h1m4 0h1m4 0h1m5 0h1m6 0h1m4 0h1m4 0h1m-145 1h7m6 0h5m7 0h1m3 0h1m15 0h1m13 0h5m5 0h1m3 0h1m6 0h1m5 0h3m14 0h1m8 0h5m4 0h1m5 0h1m6 0h1m4 0h6m-6 1h1m-1 1h1m-1 1h1m-1 1h1m-1 1h1" stroke="#0000ff" stroke-width="1" fill="none" transform="translate(0,0.5)"/>
</svg>
</body></html>
